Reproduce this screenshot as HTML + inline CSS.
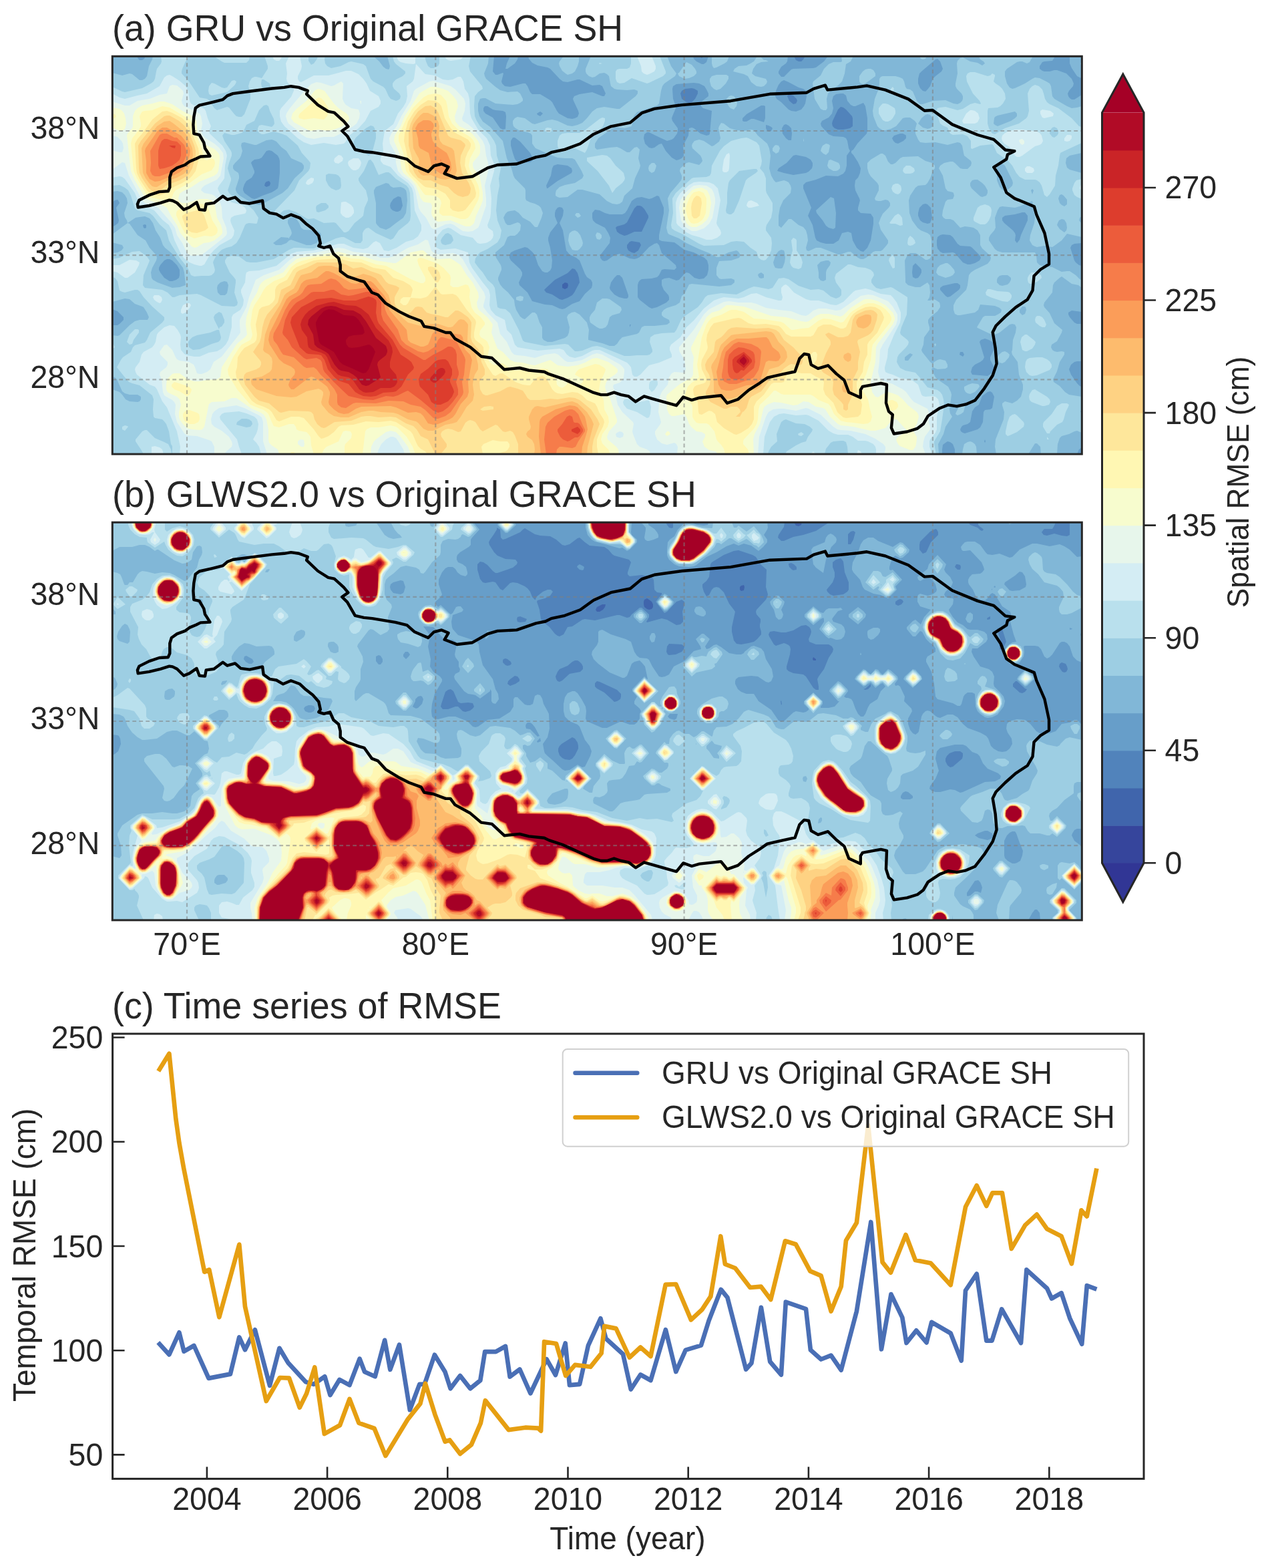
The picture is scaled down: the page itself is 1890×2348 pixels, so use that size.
<!DOCTYPE html>
<html><head><meta charset="utf-8"><title>RMSE figure</title>
<style>html,body{margin:0;padding:0;background:#fff;}svg{display:block;}</style>
</head><body><svg width="1890" height="2348" viewBox="0 0 1890 2348" font-family="'Liberation Sans', Arial, sans-serif" fill="#262626"><text transform="translate(168.0 61.0) scale(1 1.04)" font-size="53.8" text-anchor="start" >(a) GRU vs Original GRACE SH</text><text transform="translate(168.0 759.0) scale(1 1.04)" font-size="53.8" text-anchor="start" >(b) GLWS2.0 vs Original GRACE SH</text><text transform="translate(168.0 1524.6) scale(1 1.04)" font-size="53.8" text-anchor="start" >(c) Time series of RMSE</text><clipPath id="clipa"><rect x="168.3" y="84.3" width="1452.0" height="595.7"/></clipPath><g clip-path="url(#clipa)"><rect x="168.3" y="84.3" width="1452.0" height="595.7" fill="#9dcee3"/><rect x="168.3" y="84.3" width="1452.0" height="595.7" fill="#313695"/><path fill="#36459c" d="M168 84l1452 0 0 596-1452 0z"/><path fill="#4065ac" d="M168 84l1452 0 0 596-1452 0z"/><path fill="#5183bb" d="M168 84l1452 0 0 596-1452 0zM842 431l4 2 4-2 1-4-1-3-4-1-4 3z"/><path fill="#679ec9" d="M168 84l878 0 5 3 3-3 135 0 3 6 4 2 4 0 3-3 3-5 414 0 0 471-1 2 1 1 0 122-1452 0zM1021 136l-2 4 2 8 4 3 3 2 4 1 4-1 5-5 4-8 0-4-5-3-4-1-10 1zM1181 141l-2 3 3 7 6 5 4-1 2-4-1-3-5-5zM1259 160l-4 4-8 17-1 4 1 4 3 3 5 2 8 0 10-2 4-3 0-4 0-8-1-3-9-10-4-3zM397 274l-1 4 3 2 5-2 1-4-2-3-4 1zM965 313l-4-4-3-1-4 0-4 4-11 21-4 3-11 3-2 2 2 6 4 3 7 3 4-1 11-5 11 0 10-21 0-3zM939 367l0 4 2 4 5 3 4 1 6-4 4-8-2-4-12-2-3 1zM865 409l-4-6-4-1-7 7-19 10-13 12-3 3 3 4 9 3 11 7 4 1 8-3 7-4 3-4 8-15-1-7z"/><path fill="#81b7d7" d="M168 84l37 0 2 4 2 2 4 0 3-2 2-4 522 0-2 23 4 5 3 0 8-3 1 1-3 12 1 3 4 4 8 1 19-5 4 0 3 4 4 9 3 3 12 0 15 9 3 3 7 13 3 4 13 7 7 1 4-1 4-2 2-5-1-4-7-15-1-3 2-4 8-3 19-3 15 6 3 0 2-4-5-11-4-2-11 1-19-9-3 0-15 4-7-1-5-4-14-15-4-2-15-3-8-4-5-6-1-4 247 0 1 4 4 4 8 4 3 0 4-3 3-9 119 0-1 8-2 3-7 5-4 7 0 3 4 5 4 0 11-11 3-1 30-1 4-1 12-9 6-8 340 0-2 4-2 3-12 1-3 1-4 6 0 4 4 3 3 1 8 0 7-2 4 0 14 5 8 8 3 7-1 4-6 7-2 4 1 4 2 3 3 2 4 0 11-7 0 222-11 1-4 2-2 4 6 19 2 3 5 4 4 1 0 69-15-2-5 3 0 3 2 4 7 8 4 2 7 0 0 56-7 0-4 1-5 4-3 7 3 8 9 13 4 4 3 1 0 91-4 3-3 7-183 0 0-7-3-8-4-3-4-1-3 2-4 3-1 7 0 7-1243 0 0-193 8 0 3-2 6-6 0-4-9-9-8-3 0-123 5-3 4-3 1-4-4-19 5-7-2-4-1-1-4 1-4 3zM1404 88l-3 1-21 18-3 3-2 8 0 7 3 7 4 4 4 1 3-3 4-5 4-11 4-4 9-7 2-4-4-11zM1170 122l-4 5-4 9-1 8 2 4 7 5 11 11 4 2 7 1 8-3 4-5 2-4 2-11-1-8-4-3-7-2-15-8-7-3zM1047 125l-8-1-26 2-5 3-1 4 1 15 4 11 0 3-5 12-1 3 1 4 8 11 0 4-1 4-5 7-3 2-7 2-15-7-12-6-3 0-4 3-1 6 2 8 6 6 4 1 4-1 7-5 4-1 6 11 9 10 7 4 4-1 4-2 3-4-1-15 8-15 1-11 4-1 3 1 10 8 9 3 4-1 1-2 3-34-13-4-3-3-1-4 3-4 9-7 0-4-3-6-3-5zM1259 140l-7 1-4 3-2 7 2 11-2 8-5 6-10 5-2 4 1 4 11 12 7 3 15 1 4 2 2 4 2 11 2 4-5 7 0 15-2 8-3 4-8 4-18-1-15 6-15 4-4 4 0 5 12 29-5 12 7 14 4 19 2 4 6 3 8 2 11 0 8-5 5-11 9-2 5 2 2 11 6 11 6 5 4 1 6-6 5-11 4-25 0-9-2-3-2-3-15-1-4-4 0-4 3-11-1-3-6-12-1-7 1-8 4-4 3-7 1-7-4-9-7-11-3-3 0-3 3-2 6-9 14-15 1-4 0-19-3-18-3-5-12 5-3 0-4-2-5-6-2-8-4-3zM726 159l-2 3 0 4 3 4 11 6 11 16 4 2 4-1 1-19-1-6-4-2-11-1-4-1-8-5zM1146 159l-2-1-4 0-22 13-6 6 0 4 2 1 4 0 7-4 4 0 15 5 2-6zM804 170l1 2 4 2 4-4-1-1-3-2zM1147 187l0 5 2 4 2 1 4-1 2-4-2-2-4-2zM1174 187l-3 5 1 8 5 7 4 3 4 0 1-10-1-8-4-4-4-2zM1336 207l2 4 3 3 4 1 8-4 4-4 0-4-1-1-4-2-4 0-9 3zM768 206l-3 5 0 7 3 11 3 9 4 5 4 1 15-1 3-2 1-4-4-8-15-17-8-6zM407 226l-4-1-4 1-7 10-4 2-7 1-4 3-1 2 5 12 0 3-4 7-8 5-3 5-2 6 0 3 2 4 11 8 4 1 3-1 9-4 14-5 5-3 4-3 1-4 2-19 0-18-1-4-2-4zM1164 256l10 3 14 3 19-3 4-2 5-5 1-4 0-4-3-5-7-4-15-3-4 1-10 11-12 8zM856 252l-6-4-15-2-6 2-2 4-2 11-7 15 1 4 1 0 15-11 21-12 1-3zM596 294l-7 4-4 6-1 4 1 4 3 3 5 2 3 0 4-2 3-7-2-11-1-2zM891 314l-4 5 0 7 1 4 4 4 14 7 5 8 3 7-1 8-14 18 0 4 3 4 3 1 4-1 11-8 8-2 15 7 7 1 4-1 4-2 14-15 8-5 4-1 3 3 4 12 13 11 8 7 1 4-3 3-15-1-4 1-4 8-3 3-8 2-15 1-3 2-2 3-1 4 0 18 3 4 14 11 4 2 8-2 14-7 4-4 0-4-1-3-7-8-3-7 0-8 4-2 7-1 11 4 4-1 8-9 3-2 4 1 8 7 7 2 7-1 5-5 2-8 0-7-2-7-4-4-16-8-14-4-15-11-19-2-4-2 0-7 7-33 0-8-7-17-3-1-8 4-4 1-11-3-7 1-4 2-4 3-7 14-3 4-4 2-19 0-7-2-8-4zM1382 306l-5 5-2 8 0 4 3 7 4 3 7 2 4-1 3-8-2-15-5-5-3-1zM838 310l-3 1-3 4-1 4 0 5 4 10-11 14-3 8 0 4 3 11 3 19-1 11-2 4-4 3-4 0-4-2-6-9-5-15-4-5-7-6-4-1-15 5-6 3-2 4 0 4 2 4 14 13 3 5 0 4-5 11 1 4 12 11 7 13 19 5 11 1 11 5 4 1 4-1 11-7 11-4 8-11 10-9 1-4 0-4-2-4-6-4-3-5-8-20-5-4-10-5-5-6-5-30-5-11 5-11 1-8-2-4zM1535 318l-4 0-11 3-15 2-4 3 0 4 3 4 13 11 3 4 1 3-1 8 3 4 4-5 2-7 10-22 0-7zM214 337l1 4 2 1 2-1 0-4-2-1zM1404 355l-1 5 0 7 1 5 4 5 4 2 15-1 3 1 12 14 7 3 4 0 7-2 7-4 2-4-2-4-11-11-3-2-15-1-4-3-7-10-4-3-11-1-4 1zM246 390l-6 7-2 4 0 3 2 4 6 8 8 5 4 0 6-2 4-3 1-4 0-8-4-7-7-7-4-2-4 0zM1371 394l-4 4-1 10 1 7 4 2 4-1 3-4 2-4 0-4-2-3zM924 412l-4 4-5 7-2 8 1 3 6 7 7 4 8 2 4 0 2-2 0-3-9-26-4-4zM1408 434l8 9 3 2 4-1 13-10 2-3 0-4-4-3-4 0-18 4-4 3zM943 486l0 4 2-4zM1475 507l-6 2-2 3 7 23-2 4-4 3-8 4-4 4-2 7 2 4 23 2 7-5 3-5 0-3-6-11 0-4 7-15 0-4-4-4-5-3zM1438 527l-1 4 5 3 2-3-2-4zM1486 588l-3-2-4 1-8 6-5 13-6 4-4 6-3 16-4 3-7 2-2 2-2 4 1 3 3 2 3 1 19-6 4-3 4-8 1-15 2-3 8-1 3-2 3-17zM1475 663l1-2-1-3-1 3zM776 84l-1 5-4 6-11 8-3 0 2-8 5-11zM1602 84l18 0 0 33-3-1-4-2-8-12-3-7zM1244 295l5 2 3 22-1 22-3 2-7-2-4-3-5-8-9-11-1-4z"/><path fill="#9dcee3" d="M168 109l15 4 11-3 4 1 11 9 4 0 4-2 3-4 3-15 5-10 1-5 330 0 9 8 6 8 4 3 4 1 1-1 1-4-4-15 152 0-1 11-6 15 1 4 2 4 14 12 7 5 11 3 15-1 4 3 4 8 0 3-4 3-4 2-7 1-26-2-15-8-4 0-4 1-3 7 0 11 2 8 5 8 11 8 19 21 6 26 7 15 3 11 2 4 15 15 1 3 0 12 1 3 6 3 7 2 6 3 3 3 3 8-2 7-6 14-4 0-7-8-11-6-6-7-6-4-7 1-4 1-3 3-3 6 3 8 3 3 4 0 11-4 3 1 2 3-1 8-4 5-4 3-7 0-4 2-5 12-13 11 0 4 1 4 7 11 1 4 0 3-5 12 0 3 3 7 4 5 8 7 9 11 1 8 2 7 6 10 4 3 3 1 11-10 4 0 3 3 4 12 4 7 0 16 2 3 6 3 7 0 19-6 4-3 2-5 1-8-4-15 2-4 5-3 5-1 7 4 11 12 3 11-1 11 0 4 21 5 11 4 7 0 4-3 4-6 4-4 22-5 3-2 4-8 4-2 15 0 19-2 4-3-1-4-8-4-3-3 0-4 3-4 5-3 13-4 6-4 3-10 4-3 7-14 4-1 41 4 18-2 5-4 0-4-5-2-15 1-3-1-4-5 0-11 4-10 18-1 12-4 2-4-3-5-3-2-4 1-8 2-14 7-4 0-11-6-15-6-19-9-11-7-15-6-2-2-2-8 1-7 3-19-2-18 4-8 16-19 1-3 0-4-3-7 1-4 9-8 4-1 15 4 3-3 2-3-1-4-2-4-12-11-1-4 1-3 3-4 7-2 7 2 12 8 3-1 8-6 2-5-3-15 1-3 3-5 4 1 9 7 10 3 11 1 11-2 4 1 6 8 14 12 3 7 2 11-2 19 3 11 4 7 3 3 12-3 3 1 4 2 3 5 1 4-1 7-11 11-5 11-2 12 0 15 4 3 11-13 4 0 11 9 7 3 4 5 2 7 1 8-3 11 1 4 3 1 11-5 7 0 26 10 4 0 11-4 4 0 11 9 4 2 4 0 4-2 11-9 3-1 8 0 3-2 6-7 2-3 0-4-11-16-2-7-1-3 3-8 3-6 9-9 2-3 0-4-3-4-4-1-7 2-4 0-4-1-1-3 6-12 0-7-2-4-10-10-3-5-2-7 0-8 5-5 15-9 3 0 4 3 4 9 4 4 3 0 4-2 7-7 4-2 23-1 3 2 8 5 10 3 4 4 0 4-3 4-4 11-4 7-3 3-11 1-4 3-8 12-2 7 1 19 4 11 8 11 5 4 10 4 4 3 2 8 0 22-2 5-4 2-3 0-11-8-4-2-8 0-4 3-4 8 1 29 0 4 4 4 11 3 7 0 11-7 3 4 1 11-1 7-3 5 4 0 4-2 4 1 6 4 1 4 0 3-4 6-11 9-3 4 0 4 2 7 0 4-8 11-1 11-3 8 1 3 12 15 4 3 2-3 5-3 4-1 8 2 3 6 0 4-3 2-12 1-7-3-2 3 6 12 3 3 16 11 4 8 1 4-3 22 1 6 3 5-10 15-3 11-8 15 1 15-1238 0 0-97 11 4 4 4 5 7 6 3 12 1 3-1 2-3 0-4-5-3-12 0-7-2-4-3-8-18-3-3-4-1 0-62 8 1 3-1 15-15 8-6 7-2 12 0 2-4-3-7-5-8-2-1-11-4-8-7-7-1-19 5 0-73 8-1 6-3 3-4-2-4-15-4 0-12 23-17-1-4-3-5-1-6 5-15-1-7-3-5-4-4-7-2-8 1zM410 210l-3-1-8 1-15 7-3 0-15-4-4 1-1 4 2 8-2 7-2 4-7 7-3 4 0 4 2 3 6 4 1 4 0 4-5 15 0 3 2 4 4 4 22 13 7 1 4-1 31-17 8-7 10-15 12-11 2-4 0-4-3-4-16-7-7-11-8-6-7-8zM578 274l-15 6-3 5 0 4 3 15 0 30 2 3 4 4 9 3 6-3 9-7 11-8 4-7 2-19-1-11-1-4-3-3-5-2-11 1-4-2-3-4zM191 334l3 1 12 17 12 8 6 11 10 11 1 4-1 4-6 11-2 7 1 8 2 3 7 4 22 8 11-1 9-3-2-19-2-7-16-21-11-9-3-4-4-11-7-11-4-11-5-7-7-3-8 1-6 1zM409 364l4 3 8 0 8-3 4-4 3-1 23 8 7 0 8-3 6-8 1-4-1-3-6-4-19-1-4-3-3-7-4-6-4-2-4-1-3 2-2 3 0 4 5 11 1 4-1 3-3 4 0 2-1-2-11-1zM1170 374l-4 2-4 5-4 12 1 4 2 4 5 1 4 0 2-1 3-8 1-7-1-8-1-3zM1241 390l-4 0-8 2-5 5 2 11 0 8 3 4 4 1 4-2 0-11 1-4 5-7 1-4zM1136 410l-1 2 2 4 3 1 4-1 0-5-4-3zM336 421l-6 2-4 4-1 4 1 7 4 4 7 0 3-3 1-5 1-7-2-5zM1367 531l-4-2-3 2-5 4 0 4 1 1 4 0zM807 84l7 0-5 1zM844 84l23 0 0 8-2 7-4 8-4 3-7 2-3-2-5-4-4-7-1-4 1-3zM999 84l6 15 8 11-2 4-16 11-3 4-2 7-3 19-3 3-30 10-5 6-3 15-3 1-8 2-15-2-24 17-5 8 0 6 3 3 19-3 11-1 5 2 10 6 4 0 7-7 4-1 4 4-2 13 3 11-1 4-7 15-4 15-12 11-3 9-4 3-4 1-7-1-8-4-11-10-26-7-7 0-15 11-12 1-3-1-3-2 0-4 1-4 5-5 8-3 15-3 11-7 2-4-3-7-10-17-4-2-11 0-11-1-8-3-25-11-5-7 0-12-2-3-5-2-11-2-7-4-3-3-1-4 0-4 3-4 4-2 11 2 11 8 4 1 19-6 7-1 8 2 15 7 7 1 8-2 7-3 7-7 8-10 7-5 11-2 19 3 4 0 24-19 3-4 0-4-5-2-11 1-15-1-4-1-5-4-1-4-2-11-3-3-4-2-7 1-7 5-4 1-5-2-4-4-1-3 0-4 8-19zM1067 99l-1-4 0-11 26 0-3 8-4 3-12 6-4 1zM1100 103l6-4 12-1 6-3 5-3 5-8 4 0 6 6 3 0 4 2-11 1-7 3-5 7-2 7 5 4 16 4 2 4-1 3-4 4-4 1-7-1-8-6-5-9-6-3-16-4zM1278 84l-4 8-7 4-2 14-4 12-6 6-11 8-4 4-2 8 1 14-2 3-4 0-4-2-3-5-6-10-3-23 1-3 11-9 5-10 7-7 7-3 11 0 2-1-1-8zM1377 84l11 0-2 4-4 1-3-1zM1319 115l3-1 19 0 7 2 4 2 2 4 2 8 2 3 5 1 4 3 6 14 5 5 4 0 15-5 19-1 12 5 6 1 4-2 3-3 1-3 0-4-2-4-7-7-2-4 0-4 3-15-1-15 1-4 4-4 4-1 11 6 11 2 7 4 4-3-2-3-5-3-2-5 81 0-5 9-4 2-7-3-4 0-4 1-15 10-3 4 0 7 3 11 4 6 4 2 4-1 15-7 11-7 4-2 7 1 10 5 5 3 2 4 2 15 3 4 19 11 7 3 8-1 7-2 0 70-18 4-5 4-1 7 2 7 4 3 18 5 0 65-3 2-1 4 4 5 0 20-22-5-8 10-11 8-3 2-12-2-11 2-3-1-4-2-4-7 1-8 6-18 1-8-4-25-19 8-7 2-19-2-4 1-3 5-4 11 1 15-2 4-6 7-2 4 0 4 9 13 4 3 7 2 49 0 2 4 1 11 4 4 7 2 12 1 14 7 8-1 4 0 9 6 6 6 3 2 0 11-5-4-10-2-15-11-3 2-8 7-2 4-1 11-12 15-1 4 1 3 8 9 7 15 12 10-1 4-7 13-8 5-1 4 2 4 3 2 4 1 7-1 4 1 0 4-7 11-4 14-6 12 1 4 9 6 8 9 6 4 19 3 0 17-2 6 2 1 0 30-7-3-4 1-8 4-11 3-3 3-3 9-1 15-24 0-1-11-5-5-3 0-10 16-48 0-2-11 1-11 12-30 1-11-3-10 0-3 4-3 11 3 7-4 6-6 3-11 0-7-6-15-2-19-8-11-1-4 1-3 1-15 4-11 1-8-2-4-4-1-4 1-15 12-7 3-7-1-19-9-1-1 9-15 3-2 15 0 4-2 5-3 1-4-3-3-7-3-22-2-3 8-5 4-22 4-4 0-4-2-2-6 0-7 4-8 15-15 2-7 2-15 3-4 6-4 19-9 4-5 1-4-2-4-11-10-3-5 0-15-4-7-6-4-5-1-8-1-7 2-10-11-5-2-7 0-3-2-2-3 1-8 4-13 3-3 8-1 2-5-1-4-1-1-8-2-3-4-4-19-6-11 2-4 6-4 9-2 4 0 3 2 8 8 4 1 7 0 5-5 1-4-1-3-10-8-1-4-2-11-3-4-4-1-15 4-18-4-15 1-8-1-3-4-4-9 0-8 2-7-3-4-7-5-7 0-4 1-10 12-8 4-8 2-4 0-5-3-3-3-6-15-1-8 3-18 6-15 1-8 0-7zM1523 170l-3-3-26 6-4 2-1 2-1 8 2 2 4 2 20-8 6-4 3-3zM1386 172l-6 5-5 8 7 6 7 2 4-1 4-3 1-8-1-4-4-5-4-1zM1497 245l-4 3 0 22 4 10 4 4 4 2 7-4 4-4 1-4-1-4-11-22-4-3zM1456 270l-3 4 0 4 2 4 13 12 3 1 6-2 2-4 0-4-4-7-4-4-7-5-4 0zM1546 283l-2 2 2 6 2-6zM1587 292l-2 5 2 7 3 3 4 2 4-3 0-7-5-6-3-2zM1590 328l-4 2-2 4-1 3 4 6 7 5 3-3 1-4-1-7-3-5zM1494 416l-1 3 0 4 4 4 4 1 8-2 3-3 2-4 0-3-5-4-8 0-4 1zM1535 459l-4 0-4 5 0 4 4 4 4-2 2-6-1-4zM1620 92l0 8-2-5zM1028 93l8 4 5 6 2 4 0 3-4 4-7 3-7 1-8-4-2-4 2-1 8-12zM1308 105l3 5 0 4-15 11-3 1-4-1-2-3 0-8 5-7 4-3 4-1 4 0zM1065 129l-2-7 0-4 3-4 7-2 15 0 3 2 0 4-4 7-8 8-6 2-4-2zM1092 144l3-1 4 1 4 5 1 6-1 4-4 5-5-2-2-2-3-5-1-7zM1203 207l1 4-1 1 0-1zM1166 218l2 4-2 6-4 2-1-1-4-3 0-4 3-4 2-1zM1237 215l4 1 2 2-2 10-4 4-4-2-4-4 1-4 2-4zM1241 240l3-1 12 5 2 4 0 4-3 3-3 1-4 0-7-4-2-4zM980 244l3 4-1 4-2 5-4 2-4-3-1-4 1-4 4-4zM867 319l3 4-2 2-3 1-4-4 2-3zM857 346l4-1 4 2 4 5 3 8 1 4-1 4-4 5-3 2-4 0-4-1-4-7-2-7 1-8 1-3zM894 348l4 1 3 3 0 4-3 3-4-1-1-2-1-4zM1402 408l1-4 1-3 4-4 8-3 3 0 4 3 6 7 1 4-3 4-4 2-7 2-11-4zM773 449l0-4 6-2 4 1 1 1-1 5-4 1zM909 447l4 1 17 12 1 4-3 5-11 3-4 3-3 11-3 4-5 2-4 0-4-2-10-7-1-4 0-4 2-4 6-7 3-11 8-6zM1401 514l1 2-1 3-2-3zM1505 526l4 2 3 3-1 4-6 7-4 2-4-1-3-4 0-4 2-4 5-4zM1444 583l0-4 6-3 6-2 8 1 2 1 1 3-3 4-4 4-7 3-4-1-3-2zM1442 604l3 2 0 3-2 8-4 3-5 2-3-2 1-3 6-11zM1444 665l5-3 4-1 3 1 4 3 2 4 1 11-22 0 1-7z"/><path fill="#b9e0ed" d="M168 130l15 7 4 1 26-6 13-7 4-3 2-4 2-11 1-4 6-8 1-3-1-8 42 0-5 8-5 11-1 4 0 3 11 12 16 24 11 2 3 2 8 12 4 3 15-5 3 1 8 10 3 3 4 1 4 0 4-4 9-23 0-8-3-11 2-7 3-5 4-2 3 0 8 2 9-14 0-4-5-15 66 0 0 7 4 6 4-2 5-7 1-4 11 0-1 4 1 7 3 4 6 3 14-3 12-6 4-1 18 4 4 3 4 11 3 8 4 4 15 8 3 3 5 11 3 4 8 3 3-1 3-2 1-4-2-4-8-7-2-4 0-4 2-3 3-3 10-5 4-4 0-3-14-11-3-4-2-8 48 0 2 8 3 7 4 3 4 0 7-3 2-4 0-11 47 0-3 15 2 8 18 22 1 4-7 5-5 6-1 15 1 15 3 7 5 8 15 13 6 9 3 7 1 15 6 19-3 15 1 11-3 15-2 22 2 15 6 15-2 11-4 7-15 10-11 5-3 3-4 6-1 6 5 7 7 8 7 11 8 7 3 5 4 29 4 2 8 1 7 6 13 25 6 16 3 2 30 6 30-3 5 1 10 10 4 0 7-1 15-6 7-1 8 2 33 13 8 0 11-1 15 0 4-1 4-4 0-3-4-12 1-7 6-4 11-2 19-1 3-4 7-15 3-4 22-15 6-7 5-8 4-3 20-3 23 2 18-9 8-3 7 1 15 3 6-2 9-14 8-1 7 2 15 10 18 6 12-1 7 2 11 9 8 3 5-2 3-3 0-4 0-4-8-11-2-7 2-6 18-14 4 0 11 4 11 1 8 3 4 4 1 4-4 7 0 4 3 4 4 4 7 2 15-3 3 1 22 14 0 4-1 22-8 19-2 8 1 3 10 8 2 3-1 4-3 4-11 11-2 4-1 7 2 4 3 5 8 4 15 3 7 8 11 14 15 4 4 3 3 4 2 7 1 8-3 22-3 18-9 15 0 4 3 15-132 0-1-11-2-7-4-2-4 0-11 1-4 2-3 4-4 5-2 8-59 0 2-4 14-9 8-4 7-2 3-7 6-8 1-3-4-4-8-4-13-1-15-6-3 1-4 3-7 18 1 11-9 8-4 7-1 4-892 0 0-12-2-3-3-19-4-11-3-4-3-3-11-2-2-2-1-11 1-15-2-6-19-15-11-3-5-2-6-7-12-15 6-11 3-4 12-8 3-7 3-3 15-4 3-4 5-11 18-15 3-4 0-4-18-16-13-14-6-9-3-2-4 0-15 4-4-1-4-2-3-14-4-5-4-1 0-27 11-2 19-9 11-1 11 8 4 6-1 3-8 19-1 15 3 4 26 3 8 4 7 7 3 0 8-3 26-2 6 2 31 16 19 1 4-2 1-4-5-15 2-15 0-4-2-3-7-8-7-15 0-3 3-5 7-2 11 1 11 8 6 1 9 0 26-5 23-14 7-3 8 0 14 1 8 0 33-15 8-2 4 0 17 9 8 0 3-4 0-11 2-4 3-3 4-1 11 8 22 10 4-2 8-12 14-11 3-4 1-7-1-34-2-7-3-4-16-10-8-8-3-2-4 0-11 4-8-18-4-5-3 1-7 16-8 11 0 3 2 4 9 11 3 12 0 3-5 11-2 12-3 3-10 8-9 12-4 2-3 0-12-14-3-1-15 1-15-7-8 1-3-1-15-9-11-4-8 1-7 6-4 1-3-3 1-4 29-30 7-15 14-14 2-4 1-8-3-4-10-11-6-11-17-15-8-3-11-3-15 4-3 0-4-2-2-3 0-4 2-4 4-1 15 3 3-3 1-2-1-7-6-12-2-7-3-2-4 1-7 7-7 16-12 6-4 9-3 3-11 3-4 0-11-3-3 4 3 8 10 15 1 3 0 4-4 11-2 8 2 7 3 8 0 3-5 15 2 4 4 4 21 11 12 11 5 8 2 3-2 8-1 1-11-1-4 1-2 2-8 19-5 8-7 5-8 2-7 3-7 7-5 9-1 3 3 11-1 4-4 4-4 1-11 0-11 1-5-2-5-11-12-15-12-19-4-7-4-15-10-9-10-13-5-4-18-4-4-3-6-19-4-8-5-4-8-4-11 1zM392 119l-1 6 1 5 3 4 4 0 4-2 2-3-1-4-9-6zM555 188l-7 4-15 14-3 5-1 7 0 4 4 4 13 3 6 4 3-2 3-5 5-19 0-7-2-8-2-3zM488 262l0 8 4 8 4 4 7 3 4-1 3-2 1-4-1-11-3-4-4-2-11-1zM488 304l-7 0-7 4-1 3 1 6 3 1 10-3 5-4 0-3zM662 356l-2 4 1 4 2 2 4 1 8-2 4-5-1-4-2-4-5-3-4 1zM328 467l-6 4-2 4 1 4 7 14 1-3 3-1 4-6 0-4-4-10zM328 494l-3 0-10 4-20 4-7 3-4 4-2 3 0 4 1 4 6 4 10-1 18-8 10-3 3-3 1-4zM355 632l-1 4 15 4 6-1 3-4-1-4-4-3-4-1-7 0zM320 84l54 0-1 6-4 4-26 0-7 0-4-2zM498 84l8 0-3 1zM922 118l0-11 2-3 4-1 11 0 4-2 2-6 0-11 43 0 9 23 0 3-4 4-21 10-3 1-23-8-11 7-7 1-4-2zM897 95l1-1 4 1-4 1zM1453 108l7 0 19 6 4-1 3-3 4 2 0 2-2 8 3 3 6 4 4 4 4 7 1 8-4 7-4 4-4 2-14 1-1 4 0 19 2 7 5 8 4 1 15-9 21-7 11-8 2-3 2-8-2-26 3-7 4-4 4-2 6 2 5 5 2 6 2 8 3 5 4 3 13 6 20 15 11 12 4 1 0 24-26 12-6 3-1 4-2 15-4 15-1 15-8 13-4 4-4-3-4-14-3-5-4-3-3-1-15 0-8-4-5-6-6-11-6-7-17-12-5-11-2-2-18 2-12 5-2-1 0-11-5-7-7-3-15 1-4-2-4-9-7-3-4-3-5-15-1-4 2-4 4-1 8-1 18 5 8-2 11-7 7-2 8 2 1-1-2-4-10-11-9-18-1-8 2-4zM1576 191l-4 5 0 4 4 5 3 1 4-3 2-3 0-4-2-4-4-2zM354 122l-1 3-2 3-11 10-23 5-4-2-1-5 1-7 4-5 4 1 11 6 4 1 4-1 7-10 4-1zM1337 130l2 3-2 5-3 0 0-5zM1322 155l4 0 4 1 10 6 1 4 0 4-4 7-3 3-4 2-4 0-4-2-3-5-3-5 0-8 3-4zM906 177l0 4-3 8-7 7-9 7-2 4-6 17-3 5-15-7-4 0-11 5-6-1-4-4-1-4 0-7 3-8 4-3 8-1 18 0 8-4 22-17 4-2zM816 196l1-4 3-1 6 1 0 4-2 2-4 0zM1110 207l8-1 3 1 12 6 4 5 4 23-1 6-2 5 6 7 3 8 0 18 1 4 9 15 0 11-2 11-7 11-1 4 0 4 8 11 1 8-1 11-4 9-4 5-3 1-4-1-4-3-3-9-3-2-6-4-10-9-11-1-8 1-11 5-30 1-7-3-26-15-11-5-4-3-1-5 3-18-1-19 0-3 5-8 24-22 3-1 19-1 5-2 2-4 1-11 12-22 6-7 11-8zM1133 253l-4 0-22 3-14 14-2 4-2 15 0 15-2 11 1 4 4 2 3 0 4-3 8-18 10-30 3-3 12-8 3-3zM879 236l23-4 7 1 5 4 8 11 9 8 3 3 2 8-1 3-3 4-10 8-2 3-3 4-5-11-17-22-13-12-3-3zM1353 252l4-4 6 0 6 4 1 4-3 3-4 1-7 0-2-1-2-3zM1620 268l0 30-7-3-4-3-3-7 0-3 3-8 3-4zM1337 277l4-2 4 0 4 3 1 4 0 3-2 4-3 2-4-1-4-3-2-5zM1475 306l6 2 3 3 1 4-1 8-3 7-3 4-3 2-7 0-8-4-2-2 0-4 6-15 4-3zM1332 334l8-11 5-3 3 2 3 4 1 11-4 1-7-3-7 0zM1188 356l4 2 1 2 0 15 7 11 2 7-2 8-4 2-8-2-3-3-2-5 1-7 3-11-2-15zM1363 353l4 3 3 4 1 4-4 3-4 1-3-1-1-3 1-7zM1337 382l3 4 0 15-3 1-3-5-3-7 1-4zM1559 412l1 4-3 3-4 3-7 3-4 0-2-2-1-4 0-3 2-4 4-4 7 0zM1476 438l3-5 4 0 11 3 15 1 3 1 3 4 0 3-2 4-4 3-8-1-18-6-6-3zM1553 473l4 0 4 2 3 4 3 7-2 4-4 0-4-2-6-5-1-4 1-4zM208 494l0 4-8 11-2 6-4 1-4-4 1-3 3-8 8-8 4 0zM1535 501l3 0 10 8 3 3-1 4-4 6-8 4-3 0-4-2-3-12 2-7zM168 515l2 1 2 4-4 3zM1536 542l2-4 4-2 11-1 8 0 7 3 4 3 3 5 0 4-3 4-19 8-7 1-4-1-5-5-2-7zM1546 584l4-1 3 2 15 9 4 4 1 4-2 4-7 2-3 0-16-6-3-3-1-5 1-4zM1598 604l3 2-1 3-4 8-3 11-2 4-8 4-10 10-1 3-4 0-6-10 0-4 1-3 12-12 8-12 7-4zM1523 622l10 10 1 3-1 4-10 8-11 5-3 1-3-3 0-4 3-14 3-8 4-3 4-1zM183 643l0-4 4-2 4 1 1 1-5 6zM203 658l10-12 4-2 3 0 12 12 14 6 6 3 4 8 1 7-42 0-4-7-8-12zM1195 650l1-1 4-2 4 3-4 3-4-1zM1568 654l3 4-3 0zM168 668l1 1-1 4z"/><path fill="#d4edf4" d="M408 84l14 0-1 4-3 3-4 0-4-2zM433 84l16 0 3 15-1 5-5 10 0 4 2 4 3 1 4-2 15-8 7 0 15 0 26-7 8 0 11 5 7 7 5 7 5 11 13 8 3 7 0 4-3 5-12 6-8 15-10 11-14 11-5 9-3 3-12 2-18-3-19 3-11-4-9-6-20-18-5-7-2-8 0-8 2-4 15-17 4-9 0-3-8-8-2-3-1-4 1-8-2-15zM594 84l28 0 0 11-3 1-11-1-8-2-4-3zM666 84l28 0-1 2-3 3-15 2-4-1-3-2zM954 84l22 0 6 15 0 4-2 4-8 4-3 1-5-2-3-3-1-8zM202 553l1-3 6-8 3-11 3-4 13-7 3-4 2-4 2-11 2-3 9-8 8-3 7 1 5 6 4 7 1 4-1 11 1 8 5 6 4 2 11 2 8 0 14-6 12-2 7-4 6-6 4-7 5-19 0-15 2-4 11-7 4-7 1-8-4-11 0-4 6-11 1-11 1-4 4-2 15-1 26-7 22-18 8-3 26-2 37-10 8 0 14 6 15 2 7-2 8-8 4-2 6 3 6 11 7 1 12-5 14-9 11-3 7-5 5-9 0-8-10-22-2-26-2-7-6-8-15-11-11-13-11-4-4-5 0-4 4-11-1-11 3-19 13-10 7-16 8-10 4-7 2-9-1-15 9-7 2-4 3-22 3 3 8 9 3 3 15 2 11 6 8 1 7-1 8-4 4 0 2 3 2 4 2 11 5 7 2 8 1 22 2 7 10 17 13 13 2 4 3 7 1 15 6 15-1 8-6 22 2 19-1 22-1 7-4 11 1 4 7 5 1 6-1 4-3 4-5 3-3 1-8 1-4-1-7-8-18-4-12-8-3-2-4-1-8 3-7 8-4 8 0 7 2 4 6 3 22-2 19 6 2 15 4 8 16 22 9 11 2 8-1 15 2 7 7 8 14 7 3 15 7 7 5 15 4 4 30 5 33-3 6 2 5 7 4 3 8 2 11-3 15-8 4-1 7 0 41 19 3 3 3 4 2 11 3 3 4 0 5-3 10-11 3-3 15-4 19-8 0-4-3-7 0-4 2-4 14-11 9-15 11-10 15-18 15-12 8-3 7-2 22 2 8-2 11-5 8-1 14 6 19 5 4 0 1-1 1-4-2-7 0-7 4-4 3-1 4 3 8 9 18 10 7 2 12 0 18 6 8 1 3-1 8-4 15-15 3-2 15-3 8 2 15 6 15 2 3 3 6 8 6 15 0 7-1 8-9 18-9 22-1 12-4 15 0 3 1 4 4 2 7 2 11 5 12 2 7 2 8 6 5 15 2 2 4 1 11-1 4 1 4 4 2 8-4 18 0 19-2 5-8 10-1 3 0 8 4 11-84 0 0-7-1-4-3-4-8-4-4-1-11 0-8-6-7-3-15 0-7-2-7-4-15-15-15-8-4-1-15 1-18-3-7 1-8 4-6 8-8 22-2 26-752 0-3-11-4-6-5-5 5-9 2-6 1-8-2-7-4-4-12-5-11-3-22 2-4 2-3 4 1 4 25 30 3 11 4 11-93 0 1-11-5-23-15-36-7-9-8-18-3-4-8-3-19-15-2-4zM980 569l-4 1-3 2-1 4 0 6 4 5 4-3 5-8 0-4-1-2zM935 598l-2 4 1 4 5 6 15 5 15 9 3-1 2-5 1-11-3-10-14 3-19-5zM168 140l11 6 8 2 19-5 14-3 19-11 7-13 4-3 4-1 4 2 11 7 9 8 4 7 2 15 2 4 5 3 11 3 4 2 2 3 3 11 5 12-3 7 1 4 19 18 5 8 2 7-3 15-1 19-2 3-6 8-2 4 1 3 4 8 5 4 11 6 15 4 5 4 2 4-1 4-2 1-15 3-5 3-1 4 1 4 5 11-1 7-3 5-18 10-9 8-6 7-8 14-4 2-3 0-8-2-7-3-8-6-4-5-11-23-4-14-4-8-10-8-12-14-7-3-11-3-4-3-7-17-15-21-4-3-4-1-11 2 0-51 1 0-1-1zM1465 170l1 4 1 3-3 6-4 2-17 0-1-2-1-2 6-11 6-5 3 0 4 1zM1558 166l3-2 12 2 5 4-1 4-13 3-3-1-3-6zM1500 207l1-4 3-3 5-3 11-3 11 0 22 3 4 2 3 4 2 8-2 4-3 2-7 2-19 14-4 2-4 0-3-2-3-4-5-9-8-5-3-4zM1602 202l3 1 0 4-3 4-4 1-4-1 0-4 4-5zM1092 229l1 4-1 19-1 4-3 2-4 0-2-2 0-4 2-13 4-8zM511 233l3 4-1 4-6 4-5-1-2-3 1-4 6-5zM529 237l8 0 3 4 1 3-1 4-3 5-4 2-4 0-3-2-4-5-1-4 1-3zM1535 252l3-3 4 0 6 3 1 4-3 3-8 0-3-3zM470 267l0 3-2 4-6 3-3-1-1-2 2-4 6-4zM1039 273l8-1 15 1 7 3 6 6 4 18-6 34 1 3 5 8 1 4-1 3-5 4-8 3-8 0-11-4-11-3-8-4-13-11-2-3-1-30 2-7 5-8 13-12zM1620 276l0 10-3-4 1-4zM1118 308l1-4 2-3 4-1 9 4 3 4-12 3-4 0zM511 303l4-1 3 0 8 5 3 4 1 4 0 4-4 5-4 2-4 0-5-3-3-4 0-4zM209 393l-1 4-6 11-11 8-4 0-11-8-8-2 0-9 11 0 15-8 10 1zM231 442l7 0 4 3 1 4-2 4-2 1-4-2-4-3-2-4zM284 454l2 3-2 4-6 7-5 2-2-2 0-4 3-7 6-3zM227 669l5-1 7 2 4 3 2 7-18 0zM1222 680l-8 0 4-4zM1285 674l4 2 2 4-8 0z"/><path fill="#e7f6eb" d="M643 122l6-1 26 8 7 5 13 14 2 7-1 11-4 11 1 4 8 5 7 6 15 19 3 7 2 15 3 11 1 8-6 26 2 19 0 11-10 29-2 4-8 5-7 1-8-1-13-9-5-2-8 1-15 7-3 0-3-2-8-15-8-9-3-6-5-26-3-7-7-8-10-7-6-7-3-12-1-15-8-14-1-8 3-7 8-11 7-15 14-23 5-15 3-3zM428 174l1-4 5-8 22-26 10-10 8-3 7 1 15 5 4-1 11-6 3 3-1 23 2 5 3 4 8 5 11 2 2 6-1 7-4 8-5 4-14 9-15 7-15 0-15 3-11-2-8-5-7-7-12-9-2-4zM168 152l19 6 7 0 12-7 18-3 15-6 11-2 4-11 4-2 7 1 6 5 3 3 1 4-3 11 1 4 3 4 4 2 19 9 2 4 2 11-2 11 3 7 4 4 13 8 7 6 6 8 1 8-5 26-5 6-19 9-4 4-1 3 5 4 11 2 4 2 9 11 2 7 1 15 6 15 1 8-1 3-4 4-33 26-15 1-3-1-4-3-7-15-8-12-3-11-5-7-20-23-6-3-14-4-4-4-20-37-6-19-4-1-15 11 0-29 11 3 4 0 2-6-1-7-2-4-6-6-8-2zM541 151l0 5-1-1-1-4zM1527 209l4-1 3 3 0 4-3 2-3-2-2-4zM1058 278l8 5 3 6 2 8 0 7-4 22-5 9-8 7-11 4-7 0-8-5-4-4-4-7-3-19 2-11 7-11 10-9 3-2 8-1zM239 527l4-6 3-4 4-1 8 8 5 11 2 3 4 2 14 2 7 4 2 4 3 9 4 1 3 0 8-3 5-4 5-11 12-8 26-33 2-3-1-12 0-7 10-19 4-15 10-26 12-7 23-8 15-14 11-8 30-4 33-7 8 1 14 5 26 3 15 6 12 0 7-2 22-13 15-5 11-7 4 1 5 15 3 3 7 3 22-2 9 3 6 6 9 16 23 34 2 7-3 12 0 3 6 8 15 15 4 17 10 12 7 15 4 4 5 1 11 1 15 3 15-5 15-2 5 2 10 9 4 2 7 0 15-3 15-8 7-2 8 2 27 15 4 4 2 3 0 4-1 8-2 4-4 4-9 3-1 3 3 8 4 19 7 11 16 15 1 3-2 11 1 4 6 15 4 4 11 4 4 3 1 4-368 0-2-7-8-13-3-4-4-2-4 0-7 4-7 7-4 8-2 7-165 0-6-19 0-29-2-7-4-3-22-11-12-4-26 4-7 5-3 4-2 8 1 7 4 4 11 6 11 9 4 7 1 4-1 4-8 7-3 4-15 0 0-11-4-8-4-2-18-6-15-1-4-3-11-17-3-12 1-14-2-4-3-3-9-5-3-2-2-5-2-19-3-7 1-4 9-7 2-4 0-4-11-11zM922 650l1 4 5 2 5-2 1-4-2-3-4-1-4 2zM1393 639l0 4-8 11-2 7-1 8 4 11-62 0 2-7 0-4-3-4-12-8-15-7-22-5-15-1-5-1-6-4-19-18-18-9-4-1-15 4-18-3-8 0-8 1-7 4-4 7-10 30-2 26-89 0-3-1-2 1-27 0 1-11-2-4-3-2-11 3-8-2-7-6-3-8 0-4 8-11 1-3-4-15 2-23 3-7 9-11 2-11 4-6 4-2 15 1 2-5-2-14-7-12-1-3 0-4 22-26 15-23 8-8 22-11 8-1 14 2 19 0 8 2 14 6 19 3 19 2 15 6 7 1 4-2 7-6 8-3 11 0 15 3 7-1 30-21 11-2 8 1 22 9 7 8 7 12 0 8-2 7-20 30-4 8-1 18-2 15 2 8 5 5 15 5 15 8 5 4 8 11 4 4 20 10 2 5 0 15zM282 680l2-1 4 1z"/><path fill="#f7fcce" d="M645 130l7 0 11 3 8 3 8 8 5 7 2 8-5 15 1 8 6 7 13 6 7 6 8 10 3 7 0 11-2 4-7 8-2 3 0 4 1 4 9 11 1 4 4 22 0 11-3 8-7 15-3 11-3 3-3 2-7 0-22-9-19 2-4-2-5-7-1-4 1-11-2-4-8-1-3-1-4-5-7-19-6-8-13-11-3-7-3-23-8-18 1-8 9-14 6-15 22-34 6-4zM437 174l1-4 6-7 15-12 12-15 3-2 3-1 4 1 5 2 14 19 7 7 12 8 3 4 1 3-1 4-4 4-7 5-11 4-8 2-15-2-11 2-4-1-22-12-4-6zM213 158l15-3 11-3 7 0 12 4 15 10 14 7 4 3 3 5 2 19 6 11 8 7 11 5 6 6 2 4 0 8-2 15-2 4-4 3-22 9-12 8-14 7-4 3-2 7 2 5 4 2 7 0 19-6 11 0 7 2 5 8 3 18 6 11 2 8 0 4-2 3-10 8-8 3-8 1-10 6-4 1-4-2-17-20-5-12-9-14-6-12-11-6-15-5-6-3-16-27-6-14-6-53 1-3 7-8 1-3 0-15 3-8 4-4zM168 161l11 2 4 3 3 4 2 7 1 8-2 8-4 3-4 0-11-5zM1051 281l8 4 4 8 2 11-3 19-4 7-7 6-8 4-7 0-4-2-4-4-3-8-3-11 1-11 6-11 7-8 7-3zM249 576l1-7 3-4 5-5 3-1 8 0 12 9 10 3 8 0 11-2 15-1 3-2 2-1 2-15 22-34 4-4 9-7 3-4-2-15 1-11 7-22 9-15 4-11 3-4 5-4 27-11 9-11 11-9 7-2 56-9 19 5 18 2 19 6 26 4 4 0 3-2 19-14 15-3 4 0 8 7 7 4 7 2 19-1 5 3 10 7 9 15 9 11 8 15 1 7-3 8 1 7 2 4 13 11 6 8 2 3-2 12 1 3 8 21 8 5 11 12 7 3 12 1 11 3 7 1 23-8 3 2 8 6 15 2 15-2 11-4 11-6 7-1 17 6 11 8 3 3 0 4-4 4-8 5-5 6-2 7 2 8 5 8 11 33 0 4-2 3-10 11-3 8 1 4 13 11 3 4 1 7-312 0-4-11-11-15-7-7-8-2-7 2-15 11-3 3-4 8-1 11-137 0-2-7-9-6-4-4-1-5 0-15-3-15-4-7-6-4-12-5-23-16-3 0-4 0-11 5-19 1-4 3-1 4-6 30-3 4-4 1-12-1-7-2-7-7-4-6-1-4 0-7 3-11-2-8-4-4-11-5-3-2-2-4zM448 659l-2 2 0 4 5 4 4 0 1-4-1-6-4-1zM1376 624l-3 11-5 8 0 3 5 8 0 4-1 7-1 4-4 5-4 0-15-6-3-3-2-4-1-3 3-4 13-8-1-3-5-5-9-10-6 0-3 3-8 10-15 4-7 0-26-6-19-2-4-2-12-11-7-11-3-2-11-2-11-7-8-1-8 5-7 1-18-4-11-1-10 4-4 3-2 4-5 22-8 15-2 8 1 22-54 0-3-4-10-2-7-5-3-8 4-7 0-4-2-1-3-2-8-1-7-6-4-5-4-11-3-4-15 3-4 0-4-3-3-7-1-19 1-3 18-15 19-11 2-4 0-15 1-11-4-11 0-4 23-45 8-7 11-3 11-8 7 0 19 2 41 14 22 2 23 6 7 1 4-1 11-8 7-3 12 0 18 4 4-2 11-11 19-12 3-1 8 0 11 3 11 6 11 11 3 7 0 4-3 7-22 28-3 6-1 22-7 30 2 15 5 7 4 1 7-5 8-3 7 2 8 3 7 6 8 9 13 10 2 3zM996 650l3-4 3 0 2 4-5 3z"/><path fill="#fff7b3" d="M641 142l11-2 8 2 3 3 5 6 2 8 2 15 5 11 9 9 18 11 4 4 3 6 1 7-8 15-2 11 2 8 7 11 5 10 2 8 0 8-2 7-12 22-3 4-4 2-7 0-15-5-12 0-3-2-2-2 0-4 3-11-1-4-2-3-6-4-15-1-3-3-10-15-11-11-5-7-4-27-7-18 0-8 12-26 9-15 16-16zM492 162l0 4-2 8-2 2-3 3-15-2-15 2-7-2-1-3 2-4 25-22 3-2 4 1 4 4zM243 159l11 2 30 18 4 6 6 18 8 19 4 17 4 1 7-3 4 2 1 5-1 5-4 6-15 6-18 13-21 11-3 4-3 8-3 2-4 1-18-3-8-2-4-3-3-5-12-20-5-11-4-41 2-8 9-11 4-7 0-4-2-11 2-4 2-3 4-1 11-1zM168 170l4 1 2 3-2 3-4 1zM1047 286l7 3 4 8 0 7-1 15-3 7-3 4-6 4-6 1-4-1-3-4-2-4-3-11 1-7 4-11 4-6 3-3zM265 316l4-3 30-8 7 1 3 2 4 7 5 15 7 11 1 4-1 4-3 3-5 2-11-1-15 4-7-3-7-5-4-7-9-19 0-4zM341 553l8-18 9-14 4-5 13-7 2-4 1-4-3-15 3-22 3-7 8-12 6-11 4-5 11-8 15-6 3-3 8-12 8-6 7-3 23-6 29-3 8 1 15 4 15 1 22 8 15 2 37 20 15 6 4 0 3-3 0-5-10-19-2-7 1-3 4-1 4 1 22 8 8 6 10 11 1 4-1 11 4 3 8 0 11-4 4 1 3 7-1 11 3 15 5 8 9 7 6 8 0 3-7 9-1 6 2 4 7 4 3 3 3 8-3 15 3 7 5 4 4 1 7-3 4 0 11 8 7 3 12-1 14 1 15-3 8 1 11 12 2 3 1 8 3 3 5 2 3-2 4-3 1-4 0-5 3 1 5 4 7 3 3 1 5-4 0-4-12-7 2-4 4-4 24-8 6 1 7 4 3 3-1 4-7 15-2 11 2 8 5 7 1 15 6 11 1 8-2 7-8 11-2 8 2 6 9 9 3 7-292 0-4-11-9-15-13-13-3-2-8-2-18 3-12 0-6 3-2 3-4 34-27 0 0-11 1-4 9-9 1-6-2-4-7-1-4 1-2 4-5 11-18 8-4 4-3 7-12 0-4-13-1-13-3-4-3-3-11-2-4-2-1-4-3-4-7 0-15 5-4-1-4-1-3-6-5-12-3-3-4-3-13-5-7-3-20-23-13-22zM1333 471l2 4 0 4-2 4-26 33-1 4-2 19-7 22-6 11-1 4 1 7 9 15 3 15 3 11-2 7-4 3-7 1-15-2-11-1-8-2-10-10-5-11-3-4-15-6-8-6-4-2-40 0-4-1-8-5-3 0-8 9-13 12-2 7-1 15-2 7-4 7-15 16-1 3 0 4 7 8 2 7-36 0-2-8-4-6-5-5-2-3-3-12-8-10-4-2-11 0-4-1-4-5-2-4 0-15-1-3-10-12 0-3 4-12 6-6 8-5 3-3-3-19 7-41 7-19 4-6 4-4 15-5 11-6 3-1 8 0 11 3 15 10 15 1 26 4 4 2 11 10 3 0 12-2 11-1 3-2 12-9 7-3 11 1 15 5 4-1 11-14 4-3 15-9 7-2 8 0 11 4 7 5zM257 576l4-4 4 1 18 6 4 4-1 4-2 4-4 2-11-7-8-3-4-4zM1330 601l4-2 3 0 6 3 2 4 0 3-3 4-5 2-3 0-4-2-2-4 0-3zM276 617l4-3 4 0 11 4 3 2 1 4 0 4-2 4-6 3-7 0-4-2-4-3-2-6 0-4zM433 680l3-3 4 0 4 3z"/><path fill="#fee79b" d="M641 150l11 1 6 4 3 4 5 18 9 15 7 7 19 10 4 6 0 3-1 4-4 7-3 8-1 11 4 11 10 19 3 11-1 6-15 19-4 2-7 1-8-2-4-4 0-11-2-3-5-7-11-6-7-2-12-2-3-2-16-15-5-7-3-23-5-22 1-11 5-18 10-16 9-9zM250 166l8 3 15 8 8 8 6 13 10 24 1 7-1 12-4 15-5 7-4 4-11 7-17 8-10 8-7 3-7-1-8-3-4-4-11-17-4-9-1-7-2-37 4-7 7-8 15-21 15-12zM1043 293l4 1 3 3 1 7-3 19-5 4-4 0-3-4-1-12 1-7 3-7zM299 315l3 2 4 6 6 18-5 4-12 4-8-1-5-3-5-8-4-11 0-3 6-4 16-4zM356 535l5-8 5-6 15-8 3-4 1-8-2-15 5-22 4-4 11-3 5-4 3-4 1-4 0-11 2-5 4-4 12-6 9-15 5-4 26-10 7-1 30-2 19 5 15 1 18 8 18 3 12 12 15 5 10 6 3 4 1 3-3 11-11 0-4 3-1 5 5 4 4 0 3-3 4-8 15 1 8-2 3-2 8-10 3-4 8 11 3 1 15-1 5 2 3 3 13 19 13 15 1 4-3 15 0 7 2 4 9 7 3 4 1 19 5 10 8 12 4 2 7-4 4 0 19 13 11 4 7 1 4 0 7-9 4-3 7-2 4 2 3 3 8 15 4 4 4 2 7 1 15-3 8 1 7 4 7 7 12 5 3 5 3 8 7 11 1 4-2 7-6 11-3 8 0 11 2 11-149 0 2-2 8-2 3-2 3-5 0-4-3-4-11 0-11-2-14 6-3 4 2 11-83 0-3-4-7-4-4-4-3-6-5-12-3-4-22-14-8-2-18 2-19-1-19 5-18 1-4 2-7 8-8 6-7 3-4 1-4-4-7-10-15-17-7-2-12 0-18 7-4-2-7-12-4-4-8-4-11-4-7-5-15-21-8-14-1-8 2-7zM641 400l4-1 4 1 6 4 3 4 2 8-4 7-4-1-11-18zM1321 468l3 7-1 4-9 19-13 14-2 4 0 15-5 11-2 15-9 15 0 7 1 8 6 15 1 4-2 14-4 4-18 2-4-1-6-5-3-3-6-14-12-12-3-8 1-11-3-4-9-4-8-5-14 0-15-4-4 2-3 4-4 11-4 1-11 0-4 2-11 16-11 10-4 8 0 19-3 7-5 6-11 7-7 3-4-1-15-9-10-9-3-12-5-4-4-1-4 2-7 4-4-1-1-3-1-15-6-11-1-8 2-4 3-2 11-3 3-2 1-4-1-3-6-12-1-7 1-7 8-15 1-4-2-11 1-8 5-11 5-6 30-7 7-1 4 1 11 7 8 2 18-1 19 3 4 3 7 9 8 4 29 0 4-2 7-12 8-4 11 0 15 6 4 0 4-2 7-15 4-5 7-5 11-5 8-1 7 1 7 4zM1222 527l-4 0-4 4-1 8 1 6 4 1 5-7 1-8z"/><path fill="#fed283" d="M634 161l3-2 8-1 7 4 4 6 15 35 4 3 15 4 6 5 1 3-7 15-1 11 3 15 10 15 3 8-1 7-3 4-8 2-7-2-6-4-9-9-11-3-15-7-11 0-8-4-5-7-3-7-1-15-5-19 0-22 3-11 4-8 7-10zM254 173l14 8 8 7 8 12 7 18 2 8 0 7-5 19-4 7-3 4-12 7-19 7-11 9-7 1-4-1-5-4-10-15-4-8-1-7-1-34 4-7 21-26 14-11 4-1zM365 565l1-4 3-3 15-5 5-3 2-4 0-4-2-3-10-12 10-15 2-7 2-15 3-11 4-8 16-18 5-19 14-7 9-19 4-3 11-4 16-8 32 0 11 3 11 6 12-2 3 1 11 5 12 4 4 2 7 10 4 3 11 3 5 3-1 3-4 7-2 4 0 8 1 4 4 5 12 7 3 1 4-2 7-8 4-1 6 1 7 8 6 2 11 2 11 3 4 0 11-10 4 0 4 2 11 8 3 4 2 4-1 22 2 7 10 12 4 18 5 11 0 8-6 7-2 4 1 11 4 7 4 2 3 0 19-6 11-6 4-1 11 3 8 3 4 6 3 5 4 3 15 0 15-2 11 1 18-3 8 1 7 3 17 14 10 15 3 7-9 23-2 11 0 11-111 0 0-15-5-13-3-5-4-2-7 2-4-1-8-9-3-1-19 10-4-3-7-11-4-2-4-1-3 1-4 3-7 13-4 1-9-4-6-1-4 1-5 3-2 4 1 4 8 11 0 4-9 11-8 0-11-22-11-5-6-10-5-5-11-4-15-9-8-1-18 1-12-2-7 0-7 1-15 6-25 2-13 8-3 1-4-1-6-5-4-7-2-8-3-3-4-1-29-1-12 3-3-1-15-13-15-4-7-6-14-18-2-8zM719 613l4 2 16-2 0-4-5-1-9 1zM1308 465l4 3 2 3-1 8-5 15-4 5-4 3-15 7-1 3 4 15-3 15 0 11-6 12-2 3 0 23-7 15 0 7-3 2-4-2 0-7-3-4-11-11-2-8 1-11-3-7-12-7-4-5 0-3 8-21 7-13 0-4-1-3-4-4-3-4 1-1 4-2 14 7 8 0 7-2 4-5 3-19 4-7 8-4 7-3 8-1zM1162 494l5 4 7 11 14 11 12 13 2 6 0 3-2 4-4 1-11-2-4 2-7 5-8 9-11 5-15 20-15 8-3 4-4 13-4 5-2 1-4 7-6 0 7-7-1-4-4-4-9 0-7 3-4 0-20-10-3-4-4-7 0-4 6-11 1-8-2-7-5-8-1-7 3-7 10-12 2-15 2-3 7-4 4-4 6-7 5-3 8-1 30 2 18-1z"/><path fill="#fdbb6d" d="M634 169l3 0 4 0 8 4 3 3 4 6 2 7-1 14 2 8 4 5 14 6 3 4 4 30-2 6-4 4-11 3-7-1-15-6-11 1-4-2-4-5 0-4 2-11-1-4-4-7-4-8-2-30 2-6 4-6 7-8zM254 181l6 4 16 13 4 5 8 19 1 11-6 19-7 8-11 6-15 5-15 9-3 0-4-1-4-4-6-8-4-8-2-37 3-7 20-26 11-7zM426 442l3-3 11-7 8-16 3-4 15-4 11-9 8-1 11 0 11 3 14 11 5 2 7 0 11-4 11 3 8 4 19 25 4 15 3 5 15 15 7 6 19 5 15-3 11 0 15 5 4 0 3-1 9-10 3-1 5 1 4 4 2 3-1 23 1 7 2 4 9 9 4 17 0 7-5 8-2 7-1 8 2 15-2 9-9 9-9 15-6 8-6 2-11 2-18 9-8 0-7-3-8-9-3-2-12-3-15-8-7-2-19-1-11-2-7 0-11 2-19 8-11 0-11-2-8-5-10-12-1-4 3-11 0-4-3-3-4-2-18 4-15 8-8 1-22-2-30-10-3-3-4-4-1-4 0-4 5-2 11-2 12-7 3-4 1-11-1-6-4-5-7-4-2-3 3-23 8-22 14-22zM1304 472l1 3 0 4-1 5-4 5-4 2-3 1-8-2-2-4-1-3 1-4 3-4 10-4 4 0zM1159 500l7 12 8 8 4 7 1 8-4 7-9 7-11 3-3 1-9 19-3 6-4 3-3 2-15 2-4 2-10 7-9 3-15 1-7-4-4-7 0-19-4-18 1-4 7-11 5-15 2-4 15-14 4-1 48-5 8 1zM1270 528l4 2 1 5-1 5-4 2-5-3-2-4 1-4zM1267 573l3 6 0 4-3 5-4-1-2-4 0-4 2-4zM879 617l7 11 3 7-9 34-1 11-79 0 1-7-1-8-3-6-7-5-2-4 2-4 4-3 1-4-3-11 0-4 5-11 4-4 4-1 11 2 34-8 7-1 8 3z"/><path fill="#fb9d59" d="M634 180l7 0 4 1 4 4 1 4-1 3-3 8 0 3 2 8 5 7 16 11 2 4 4 10 1 9-1 4-4 4-8 1-3-1-12-8-2-4-2-11-2-8-13-7-2-4-1-11-3-11-1-4 4-7zM250 191l21 12 5 6 8 13 1 4-1 7-6 15-2 4-7 6-8 4-22 9-7 1-8-4-5-9 0-18-2-15 1-4 18-26 7-5zM429 448l4-4 11-6 3-4 4-9 4-4 4-2 16-3 10-8 3-2 4 0 8 3 26 15 7 1 15-4 7 0 4 3 16 18 4 7 4 15 26 30 2 15 4 4 15 6 4 0 3-1 4-2 2-4 4-11 2-3 7-4 4 0 15 5 15 2 3 4 2 15 2 4 7 7 3 8-6 33 1 15-2 7-10 11-8 15-4 5-5 3-17 7-7 1-8-2-7-11-4-4-7-2-12 1-18-8-8-2-44 1-8 3-11 7-7 1-8-2-7-5-7-7-1-4 2-11 0-4-4-8-9-7-11-7-4-1-4 2-22 17-4 0-3-4-1-3 3-8 6-7 1-4-1-4-5-4-11-5-7-6-14-22-2-7 2-11zM1151 508l6 12 9 7 2 4 1 4-3 5-4 1-11-1-4 2-7 23-4 7-6 4-12 1-23 8-7 0-8-2-4-7-3-19 8-30 4-7 10-9 8-4 18 0 23-2 4 0zM865 610l6 7 5 7 2 8 2 11-3 11-5 15-1 11-61 0-3-26 1-22 1-4 3-4 20-11 21-6 8 1z"/><path fill="#f67c4a" d="M250 200l11 6 4 0 11 11 3 9 0 7-3 7-3 6-12 10-22 8-7 0-4-2-3-6 1-12-1-18 14-24 4-2zM660 238l1 3-1 1-1-1zM433 454l4-5 12-7 4-4 4-7 4-4 5-1 15-1 11-7 4-1 7 2 5 4 7 8 7 3 11-1 19-3 3 0 8 5 9 10 2 4 3 15 3 7 16 23 5 15 7 7 18 10 8 2 7-2 9-6 3-4 3-7 4-4 3 0 15 4 6 3 12 23 1 4-2 22-3 11 2 15-1 4-18 26-8 6-11 4-4 0-3-1-12-12-7-5-15-3-11-5-22-1-19 4-30-1-4 1-11 7-7-1-5-4-1-4 0-11-4-8-9-11-12-11-6-8-4-3-11 1-4-2-15-14-16-4-3-4-6-11-5-6-1-5 1-6 8-14 9-21zM1135 520l4 4 1 3-2 19-2 8-7 11-6 3-20 7-11 0-8-4-3-6 0-4 2-11 1-11 3-12 5-5 7-7 7-3 19 3zM861 615l5 5 6 15 4 8 0 3-10 15-4 8-5 2-15-2-4 0-4 4-1 7-15 0-3-22 2-19 3-6 10-9 16-9 7-2 4 0z"/><path fill="#ec5c3b" d="M265 212l6 6 0 15-2 6-4 4-7 5-12 4-7 1-2-5 0-22 2-8 3-7 4-3 4 0 8 3zM433 466l7-9 4-4 11-6 11-9 4-1 15 0 11-3 4 0 11 7 11 2 7-1 19-5 7 0 4 2 8 6 2 4 2 4 0 18 3 9 16 21 9 15 5 5 30 18 3 0 12-8 14-7 8-5 4 0 3 1 4 4 2 7 0 15 3 11 0 4-4 11 3 11 0 8-8 11-7 8-8 6-7 2-7-3-19-16-19-14-3 1-12 6-7 2-11-1-19 6-15-1-22-5-22-21-14-15-2-4-2-11-2-3-6-3-15 2-4-2-18-16-6-11-7-8-1-3 4-19zM1123 524l5 3 2 4 1 11-2 9-19 16-7 2-8-2-3-3-2-7 0-18 2-8 7-7 7-4 8 1zM853 622l4 2 2 8 2 1 4 0 3 2 5 8 0 3-5 7-3 2-4 0-8 5-3 1-7-3-4-4-4-8 0-3 7-8 7-11z"/><path fill="#dd3d2d" d="M253 218l10 0-1 4-4-1zM451 460l23-12 22-2 19 4 11 0 7 0 19-6 7 2 4 3 1 4-1 15 2 11 2 5 21 25 12 22 11 7 5 4 4 8-1 3-8 8-10 18-8 7-4 1-15 1-11 5-8 1-11-1-7-3-5-3-10-12-15-5-7-6-9-11-5-14-5-7-4-1-15-1-3-1-10-9-12-30-2-7 2-8zM1114 527l9 8 3 4 0 3-12 13-4-1-4 4-3 1-3-2-2-4-1-7 0-7 3-4zM663 538l4 0 4 3 6 12 0 8-3 7 0 4 5 11 1 4-3 7-6 7-11 5-8 0-6-4-5-11-12-12-1-3-1-8 3-8 11-8 11-11 4-2zM865 639l4 4 0 3-4 4-9-4 0-3z"/><path fill="#ca2427" d="M457 471l5-5 12-8 18-5 8-1 18 5 15 1 8 4 11 9 11 20 19 19 5 10 1 7-4 15 0 8 2 3 7 8 1 4 1 7-2 4-3 3-5 2-15 0-11 6-11 1-4-1-6-4-9-13-3-3-4-2-11-2-5-2-10-11-6-15-3-4-6-3-14-4-5-4-1-4-1-11-8-11-2-8 2-7zM1114 530l8 9 0 3-8 9-11-9 1-3zM666 553l1 4-2 4-9 9-4 3-3 0-4-3-1-2 1-3 11-12 4-2 3 0z"/><path fill="#b10b26" d="M466 474l15-12 7-3 8-1 7 1 12 5 14 1 4 2 7 4 8 10 15 25 15 12 2 6 0 3-2 5-9 7-3 3-1 4 1 4 4 15-4 3-14 9-4 1-6-2-8-11-5-4-7-4-11-2-4-2-6-7-9-16-4-3-13-7-4-4-2-15-8-15 1-7zM1114 534l4 5 0 3-4 5-6-5 0-3z"/><path fill="#a50026" d="M485 466l7-3 8 1 15 8 14 1 4 2 4 4 7 11 2 8-2 2-2 1-13 1-7 2-4 5 0 3 1 4 3 4 4 1 11-1 15-4 3 1 4 4 3 6-10 26-4 5-4 1-3-1-15-7-12-5-5-4-9-15-5-3-14-8-3-4-5-26 0-3 4-8z"/><path d="M280.0 84.3V680.0M652.3 84.3V680.0M1024.6 84.3V680.0M1396.9 84.3V680.0M168.3 568.3H1620.3M168.3 382.1H1620.3M168.3 196.0H1620.3" stroke="#808080" stroke-opacity="0.55" stroke-width="2.2" stroke-dasharray="5.8 4.2" fill="none"/><path d="M205.9 305.5L208.4 299.7L223.4 292.2L238.5 287.1L251.8 286.3L254.3 280.5L254.3 265.4L256.9 257.1L265.2 251.2L276.9 247.0L283.6 242.0L293.6 237.8L300.3 234.5L314.5 233.7L310.3 227.0L307.0 222.0L305.3 213.6L298.6 201.9L290.3 200.2L289.4 186.9L290.3 175.2L292.8 161.8L298.6 157.6L317.0 153.4L333.7 149.2L340.4 143.4L348.8 140.1L373.9 136.7L407.3 132.5L425.7 130.9L435.7 129.2L447.4 130.9L460.8 135.9L459.1 140.9L476.0 157.1L491.6 166.9L500.6 168.7L514.9 181.7L521.4 189.5L512.3 196.0L520.1 203.7L531.8 224.0L545.0 227.0L557.6 228.2L592.2 234.0L609.5 238.3L621.0 248.4L641.2 257.1L649.9 248.4L661.4 245.5L671.5 249.9L665.7 259.9L684.4 267.1L707.5 264.3L730.5 251.3L745.0 247.0L773.8 245.5L802.6 235.4L817.0 232.6L825.6 228.2L845.8 223.9L868.9 215.3L889.0 200.9L915.0 189.3L943.8 183.6L961.1 169.2L980.0 162.9L1021.5 157.1L1094.1 151.2L1152.9 140.8L1208.2 138.7L1218.6 132.8L1235.9 127.7L1239.3 134.6L1284.3 130.4L1298.1 128.4L1325.8 134.6L1360.4 148.4L1384.6 165.7L1396.7 165.0L1426.1 186.4L1464.1 202.0L1488.3 208.9L1505.6 224.5L1519.4 226.2L1509.0 231.4L1507.3 238.3L1488.3 250.4L1498.7 266.0L1507.3 288.5L1519.4 297.1L1548.8 309.2L1552.3 321.3L1564.4 349.0L1569.6 373.2L1571.0 380.0L1571.0 395.7L1558.3 403.5L1548.5 413.3L1546.5 434.9L1538.7 448.6L1521.0 460.3L1505.4 474.1L1491.6 487.8L1486.7 497.6L1490.7 521.1L1492.6 544.6L1486.7 562.2L1474.0 581.8L1460.3 599.5L1446.6 605.4L1432.9 608.3L1420.1 606.3L1407.4 611.2L1389.7 623.0L1382.9 634.8L1374.1 641.6L1358.4 646.5L1338.8 649.5L1334.9 640.6L1336.8 621.0L1331.0 616.1L1327.0 603.4L1328.0 576.0L1319.2 574.0L1291.8 578.9L1288.8 583.8L1288.8 595.6L1271.2 587.6L1264.3 569.2L1252.7 559.9L1240.1 547.3L1225.1 551.9L1214.7 546.1L1211.2 531.1L1204.3 530.0L1197.4 536.9L1190.5 556.5L1172.0 560.4L1149.0 565.7L1137.5 573.8L1121.3 584.1L1105.2 598.0L1089.0 603.7L1079.8 592.2L1047.5 595.7L1036.0 599.1L1023.3 594.5L1013.0 607.2L976.1 596.8L964.6 593.4L951.9 601.4L941.5 593.4L930.0 591.1L919.6 587.6L909.2 591.1L900.0 591.1L888.9 587.9L865.8 577.5L842.8 567.1L822.0 560.2L815.1 556.8L792.0 554.5L778.2 551.0L755.2 553.3L736.7 536.0L720.6 533.7L704.4 519.9L681.4 507.2L674.5 498.0L667.5 498.0L649.1 491.1L635.3 488.8L630.7 480.7L612.2 473.8L598.4 466.9L577.6 454.2L566.1 441.5L556.9 438.0L545.4 421.9L538.3 420.0L520.1 413.8L509.7 406.0L509.7 396.9L507.1 386.6L499.4 380.1L494.2 368.4L485.1 371.0L477.3 368.4L479.9 364.5L477.3 352.9L468.2 342.5L457.9 334.7L449.1 326.4L435.7 321.4L424.0 326.4L414.0 320.6L403.9 318.9L394.7 312.2L393.1 300.5L373.9 304.7L360.5 303.0L352.1 295.5L340.4 298.8L333.7 293.8L320.4 303.9L308.7 305.5L307.0 314.7L298.6 313.9L294.5 303.0L283.6 310.5L275.2 313.9L265.2 303.9L258.5 300.5L253.5 299.7L240.1 303.9L223.4 308.0L206.7 310.5Z" stroke="#000" stroke-width="4.4" fill="none" stroke-linejoin="round"/></g><rect x="168.3" y="84.3" width="1452.0" height="595.7" fill="none" stroke="#262626" stroke-width="3"/><text transform="translate(149.3 580.6) scale(1 1.04)" font-size="46.5" text-anchor="end" >28°N</text><text transform="translate(149.3 394.4) scale(1 1.04)" font-size="46.5" text-anchor="end" >33°N</text><text transform="translate(149.3 208.3) scale(1 1.04)" font-size="46.5" text-anchor="end" >38°N</text><clipPath id="clipb"><rect x="168.3" y="782.2" width="1452.0" height="595.7"/></clipPath><g clip-path="url(#clipb)"><rect x="168.3" y="782.2" width="1452.0" height="595.7" fill="#9dcee3"/><rect x="168.3" y="782.2" width="1452.0" height="595.7" fill="#313695"/><path fill="#36459c" d="M168 782l1452 0 0 596-1452 0z"/><path fill="#4065ac" d="M168 782l1452 0 0 596-1452 0z"/><path fill="#5183bb" d="M168 782l1021 0 3 5 4 1 4-2 1-4 419 0 0 596-1452 0zM1110 877l-2 2 0 4 2 2 4-1 1-5-1-3zM965 898l-1 3 0 4 1 4 4 3 3 1 4-1 2-3 0-4-2-4-4-3-3-2zM907 905l-5 0-8 4-2 4 2 3 4 0 5-3 3-4zM1217 987l1 2 4 0 0-2-4-3z"/><path fill="#679ec9" d="M168 782l829 0 2 4 3 4 4 1 2-1 0-8 167 0-1 7-8 12-1 4 3 3 2 2 4 0 14-6 15-3 19-6 20-13 208 0 3 4 11 4 4 4 3 1 2-2-2-2-3-2-3-3 0-4 116 0-2 5-3 5-12 0-1 1-3 4 3 4 5 1 11-3 11 3 8 1 4-2 0-19 18 0 0 596-1452 0zM715 845l0 8 2 7 2 7 4 5 4 1 11-2 4 1 7 10 4 2 11-11 4-1 7 1 11 5 4 3 4 5 3 8 4 4 1 0 1-4 10-8 7-3 5 0 3 3-4 6-8 4-11 3-1 2 4 12 2 14 3 4 10 8 8 10 4 3 3 1 6-3 6-11 7-1 15-10 4-1 15 2 33-8 4 0 11 4 4-1 3-4 12-10 3 0 11 10 0 4-4 7 1 1 22-6 8 2 14 8 6-1 4-4 0-4-1-11 3-11 0-4-4-3-8 3-14 15-4 2-13-17 9-11 0-2-7-1-4-4-1-15-3-4-4-1-11-2-18 2-3-3 0-3 5-15-3-4-22-6-3-2-6-7-6-4-22-2-7-5-8-7-3 1-12 9-7 2-4-1-9-8-9-5-15-1-8-2-15-9-3 2-4 4-22 10-4 1-3-3-1-12-5-3 0 3-5 8-5 7-2 4 1 4 7 11 5 5 12 5 15 1 3 4-1 3-6 5-23 8-3 0-4-3-8-9-6-4-5-1zM1403 793l-2-1-8 4-15 15-1 5 0 7 5 6 5-2 2-4 5-11 11-11 0-4zM1278 795l-4 1-4 4 0 8 0 7 4 0 4-7 3-11zM1099 825l-15 6-18 11-2 3-2 19-4 6-6 5 0 4 2 7 4 7 4-2 4-8 3-3 4-1 4 1 3 3 4 4 8 17 7 9 2 3-5 23 0 7 3 13 4 5 7 1 11-2 8-2 5-4 6-7 0-4-2-7 0-4 1-4 0-4-6-7-1-4 1-3 14-15 2-4 1-4-3-11 1-26-9-8-7-11-5-3-21-7zM1259 836l-7 2-5 4 0 7 3 8 0 7-3 8-9 11 1 3 4 4 5 2 15-2 6-4 2-3 0-11-6-15-2-16-2-3zM1181 844l0 1 1 4 4 4 2 1 5-1 0-4-4-4-4-2zM1432 845l-2 4 4 4 4 0 1-4-1-3-4-1zM1351 898l-3-1-3 1-4 3 0 4 4 2 5-2 3-4zM774 927l1 4 4 1 8-1 2-4-10-4-4 1zM1483 923l-4 2-1 2 1 1 4-1zM1153 946l-2 4 1 3 7 12 3 2 12-4 3 1 4 2 2 2 1 4-1 8-5 18 0 4 3 3 7 3 15 2 4 3 11 17 4 3 4 0 0-5-2-11 2-4 8-11 7-17 6-9 1-4-2-4-5-3-19 0-10-4-1-4 3-7 1-4-1-4-2-3-5-3-7 1-12 7-11 3-7 0-11-2zM1497 940l-3 1-1 1 5 15-1 15 4 1 6-12-6-19zM998 976l2 4 2 1 10-1 9-4 3-4 1-4-4-3-19-1-3 4zM753 989l0 3 4 4 3 1 4-1 2-2-1-3-5-4-3-1-3 1zM871 994l-3-3-3-2-4 0-4 2-7 6-12 5-3 4-3 7 1 4 2 3 3 1 4-2 11-10 16-3 4-4 0-4zM1587 994l-1 4 2 4 3 4 3 1 3-1 2-4-1-4-2-4-6-2zM778 1017l-3-4-4-1-7 5-3 3-1 4 4 3 8-3 6-4zM891 1023l0 5 3 3 11 6 12 11 3 3 4-1 5-3 1-4 0-4-6-6-26-12-4-1zM1517 1024l0 4 10 9 4 1 4-2 3-4-3-1-12-11-2 0zM1304 1024l-8 7-3 1 3 1 4-1 4-4zM661 1054l-1 4 3 4 8 0 11-4 4 0 7 7 4 1 7-2 4-3 2-3-2-5-7-1-11 1-4-2-7-16-4-3-4 1-4 3zM1170 1049l-1 1 1 6 1-2zM857 1104l-16 10-3 3-2 4 0 4 2 6 4 4 4 2 7 1 4-2 4-5 5-10 0-4-1-5-4-6zM1438 1125l-8 0-8 3-4 4-2 4 0 4 3 6 4 3 4-1 14-12 1-4 0-4zM865 847l3-2 4 2 3 2-1 4-2 1-4-1-4-4z"/><path fill="#81b7d7" d="M168 782l541 0 9 11-11 12-2 3 0 8-3 3-13 8-4 4-1 3 0 4 2 4 7 3 5 4 2 8 0 3-3 3-7-2-5-4-3-5-4-3-7 0-4 2-5 6-5 11 0 7 5 15-2 4-8 7 1 4 3 4 4-3 15 14 3-2 5-9 3-1 4 0 4 5-2 3-14 5-2 10 1 8 1 3 8 9 18 6 10 4 3 4 1 11 5 20 15 21 4 15 4 7 1 8-2 3-3 4-4-1-2-3 0-15-2-3 0 3-15 11-7-5-4-1-7-1-6-4-14-18-1-4 2-4 6-3 1-4-2-4 0-7-5-7-1-4 3-15-1-4-5-3-11-1-4-2-14-16-15-1 9 12 1 3-3 15 4 19-1 11 5 8 10 7 3 4 0 3-11 19-4 15-1 11 1 8 3 3 6 1 16-4 10 0 18 7 8 8 4 1 4-1 14-10 18-2 16-10 5-8 0-11 2-3 4 0 11 11 4 1 4 0 4-2 3-12 4-2 4 1 3 5 2 8 6 11 2 4 1 22-3 13-7 10 2 11 1 3 4 4 7 6 15 14 4 2 7-1 12-8 7 4 4-1 8-16 2-7-3-8-7-9-8-20-3-3-12-5-4-4-3-3-2-8 0-11 2-10 4-6 7-3 4 0 4 3 6 9 6 11 1 7-1 11 2 4 23 10 7 0 19-9 4 0 11 4 7 0 4-3 4-6 0-7 2-4-2-4-8-7 0-4 4-7-7-8 0-3 18-19 4 4 1 0-4-19-5-6-3-3-8 2-4 3-7 18-4 3-3 0-19-8-17-13-7-7-3-7 1-5 7-9 2-5 0-15 2-2 4-1 13 7 22 7 8 4 5 15 4 6 4 3 11 1 3 2 5 10 10 15 4 1 5-1 6-3 7-12 16-8 11-12 3-3 11-3-1-4-7-11 9-8 3 0 9 8-7 11 2 4 4-1 7-5 4-1 7 4 12 9 11 2 7 0 4-2 1-2 10-8 4-1 11 4 4 5 3 11 9 15 2 11-3 7-4 2-4-1-12-8-10-1-19 2-4 3-1 3 0 4 4 8 5 4 8 3 11 0 7 11 19 13 11 16 4 2 4-1 14-13 4-2 11 2 4-1 4-3 0-2-7-7 0-4 14-13 14 13 0 4-3 4 0 2 12 0 9-2 7-8-2 0-13-15 1-3 12-12 4 2 10 10 1 3-6 8 3 2 3 0 5 2 2 3 4 11 4 8 4 4 4 0 3-4 4-10 3-5 11-7 5-12 7-7-4-5-3 1-8 6-7-8-4 2-4 3-3 1-13-11 2-4 11-11 3 1 8 7 7-8 4 1 4 5 3 2 8-8 4 2 10 9 1 4-5 7 1 3 4-1 3 2 7 15-1 7 11 11 1 4-6 11 0 8 3 9 4 5 4 2 4-3 1-2 4-22 2-4 4-4 3-1 4 1 8 7 3 2 4 1 11-5 8 0 7 4 8 10 7 6 19 7 9 5 3 4 4 11 4 4 7 4 6 1 6-1 5-4 4-7-1-8-6-9-2-6 1-7 4-4 11-3 12 1 8 6 9 11 5 3 7 1 8-1 9-3 9-11 12-2 7-4 4 0 7 7 0 156-7 0-4 2-3 5-1 3 4 8 8 6 3 2 0 111-62 0-1-11-4-5-3 0-4 5-6 11-1372 0 0-247 4-2 5-4 4-11-1-8-2-4-2-1-8-1zM585 875l-1 4 1 4 4 5 11 2 4-2 1-2 2-7-3-9-4-1-11 3zM611 976l-4 0-3 4 0 3 4 4 4-4 2-3zM366 983l-1 4 3 4 5 3 4 0 3-3-2-4-9-5zM567 981l-4 2 0 7 4 5 3 0 3-4 0-4-3-5zM630 1042l-4 1-4 4 0 3-4 8 1 1 4 2 3-1 6-6 2-7-2-4zM455 1061l2 4 5 2 4 0 4-2 2-4-2-4-4-1-4 0-5 2zM1000 1073l3 3 7 2 3-2 2-7-12 0zM788 1084l-1 3 1 4 6 1 11 11 3-1-7-13-4-5-3-2-4 0zM809 1105l-5 5 1 2 5-2zM1392 1181l3 3 6 2 7 0 15-4 7 1 8 4 4-1 33-15 15-1 8-4 1-4-4-4-16-7-7-8-5-11-3-3-8-3-9-9-5-2-12 0-22 5-5 5-2 11 4 15 1 3-5 12-8 11zM1349 1192l0 3 3 2 11 0 4-2 0-3-7-6-4-1-4 2zM1487 1251l-1-3-7-4-4 0-11 4-4 3 6 4 13 3 7-3zM1516 1245l-4 2-4 4-4 8 0 22 1 4 4 4 7 4 4 0 3-1 5-3 3-8 1-7-5-12-5-14-2-3zM1465 1318l-5 1-12 18 0 4 1 1 4-1 7-6 4 0 5 2 2-8-1-3-2-5zM745 786l2-4 23 0 3 4-13 12-3 0zM877 782l69 0-1 15 1 4 8 7 0 4-11 11-4 2-7-5-4 1-4-1-14-4-19-5-5-3-6-7-3-11zM960 782l11 0 0 4 9 6 4 5 2 4 0 4-7 3-7 2-3 0-3-2-1-3 2-12 0-3zM999 831l0-8 1-11 3-4 7-5 5-10 10-10 3-1 8 1 8 3 10 1 6-1 1-4 88 0 1 8-1 3-5 8 5 7 0 4-6 7-7 6-11-8-11-3-8 3-7-3-11 4-15 9-15 7-15 12-4 2-7 1-15-1-7-3-8-7-2-4zM1509 782l9 0-6 3zM1244 799l4 2 4 4 1 3-1 4-7 7-8 19-4 20-11-8-4-5-3-22 3-4 17-7 2-7 3-4zM1300 805l8 0 7 5 22 9 11-7 4 1 10 10-1 4-9 8-4 1-7-4-3 2-4 8-2 7 0 4 2 1 3-1 14 15-10 10 2 5-13 13-11-5-11-2-13-6-3-4-4-11-10-11-2-4 0-4 1-7 8-15 4-12 4-6zM1442 815l3-3 4-1 11 0 8 5 8 11 3 3 7 1 11-2 15 6 4-1 11-11 19-9 7 0 19 4 15-3 7 3 8 5 11 11 7-1 0 113-2 4 1 3 1 1 0 38-7-3-6-6-5-15-4-5-4-2-4 0-3 2-11 17-4 4-4 2-4-3-5-11-4-4-5-1-15 0-2 1 1 8-1 7-6 9-7 4-8-2-3-4-5-7-1-3 0-4 6-9 7-5 6-1-4-11-5-19 1-11-1-4-12-8-11-18-4-2-3 2-4 6-4 3-7-1-6-4-5-11-6-8-1-3 0-4 2-4 4-4 12-1 3-2 3-4-1-4-3-7-17-18-8 1-3 0-2-2-1-4zM1531 857l-4-1-7 6-15 10-1 3 8 9 4 1 11-1 9-5 1-4-2-12zM1488 879l2 1 1-1-1-2zM1486 884l0-3-1 2zM1602 940l0 3 4-1-1-1zM1404 831l13 14-3 8 2 4 7 7 4 8-1 3-2 4-8 7-2 4 2 4 3 1 8 1 1 2-1 7-6 8 1 3 5 8 7 8 8 4 7 6 4 1 11 0 10 3 4 4 1 7-2 4-13 10-8 0-1 5 3 7 10 15 13 4 5 4 3 7-1 11 1 4 8 8 6 7 2 7-2 8-9 12-8 4-7 1-4-1-7-5-4-4-3-7-1-19-4-2-7 0-4 3-2 3-3 11-2 3-4 0-7-4-23-6-3-4-2-19-4-18-8-15 0-4 2-4 12-7 0-5-4-6-4-2-6-6-6-11-3-1-7 8-4 0-9-11 0-3 9-9 4-2 8 7 5-11 10-11-16-5-4-7 0-7 1-3 3-2 11 3 8-2 5-4 1-3-2-8-4-6-4-3-7 0-8 4-3-2-1-4 15-12 2-7zM995 889l4 2 10 10-1 4-9 9-4 1-9-10-2-4zM1162 892l4 0 9 9-1 4-4 8 3 7-1 4-2 3-4 1-4-4-3-11-5-8-1-4zM1042 909l5-1 4 1 4 4 2 3 0 4-3 3-3 0-8-3-3-4 0-3zM1205 920l13-12 11 9 4 1 4-5 4-2 14 0 4-1 3 3-7 2-7 9-2 3 2 4 12 4 4 4 2 7-2 7-4 4-5 1-3 0-8-3-3 1-4-3-10-11 7-11 0-4-1-2-4 2-11 9-13-12zM1285 909l8 6 4 5-1 4-11 11-14-11 0-4zM958 913l3 0 7 7 1 4-8 9-3 0-9-9 0-4zM1453 917l4 3 0 7-4 6-4-1-3-5 1-3 2-5zM1315 940l3 2 0 4-3 5-7 6-4 1-4-3-1-5 0-4 1-2 8-4zM730 944l4 2 0 4-4 5-3 2 0-6zM980 948l1 2 1 3-2 8-4 1-3-5 0-4 3-5zM1289 977l1 3-1 1-1-1zM1367 1002l4 1 9 10 1 4-14 13-14-13 2-4zM1535 1003l3 0 10 10 1 4-11 10-3 1-12-11 2-4z"/><path fill="#9dcee3" d="M168 782l349 0 0 4 1 2 4 1 11-2 3-5 27 0 13 19 6 4 7 2 13-2-3-4-3-2-5-6-6-11 58 0 2 6 4 1 2-7 55 0 7 8 1 3-10 10-3 1-8-4-2 1-1 3-4 3-4 1-11-1-8 3-3 6 0 11-1 4-3 3-9 8-10 14-3 3-4-1-2-5-5-3-15-3-4 1-4 1-11 10-7 5-4 4-2 7 0 15 3 8 7 7 1 4-6 15 0 3 2 15-3 4-10 5-3-2-8-6-4-1-3 2-16 21-1 3 8 15 1 8-4 11 0 15-1 3-6 9-2 6 0 12 2 3 11-10 4-2 4 0 22 13 3 3 2 4 3 10 3 3 30 1 15 4 25 19 3 4 1 7-1 4-2 2-4 1-18-7-8-1-2 5 6 12 4 4 3 2 15 1 8 5 7 2 19-1 4-2 1-5 0-7-6-15-1-7 2-5 4-1 3 1 11 7 8 2 7-2 15-13 8-1 22 3 7 4 8 7 4-1 7-3 4 0 7 9-7 10-4 1-4-2-3 1 0 5 5 7 0 4 6 10 7-2 8-6 11 9 0 8 7 3 15 14 4 1 1-7 18-15 3 1 18 18-11 11-2 4 10 6 4 0 2-10 9-11 1-4-1-8-6-7 0-4 13-14 12 10 11 5 7 0 1-1-1-15 1-3 3-5 4-2 4 3 3 0 8-6 3 0 9 10 2 3-11 13-3 1-4-2-4 6-8 1-5 11-5 7-4 2-11 1-5 1-3 4 1 11-1 3-4 4-7 3-7-1-2 2-1 4 1 4 24 12 4 0 3-2 9-10 6-2 19-3 4-1 7-7 4-1 30-2 5-3 0-3-13-5-4-3-3 0-4 3-4 0-11-10-2-4 13-11 4 1 7 5 4 0 8-6 2-4 0-4-2-1-4 0-13-14 1-3 12-14 3 3 4 0 1-8 5-7 5-4 4-1 8 5 7 0 4 3 3 2 4-2 8-7 3 0 12 8 1-1 2-8 4-5 15-1 9-4 9-8 8-10 4-2 3-1 23 7 7 3 4 4 7 12 4 2 4 1 4 0 14-11 4-1 15 1 4-1 14-11 8-1 19 3 11 5 7 0 4-2 4 1 13 12-2 3 0 3 7 3 4 0 5-12 6-8 15-7 4-3 4-1 11 6 6 9 8 22 0 8-2 11 1 4 5 2 8 1 7-1 8-3 0 6-11 18-8 6-15 5-3 3-1 11-3 6-4 4-4 2-3 1-4-3-2-10 1-7 7-12 0-3-5-15-2-4-7-5-18-17-4 0-5 7-4 15-2 4-15 11-2 4 2 7 4 5 11 8 9 13 6 7 14 8 2 4 0 11 2 5 4 2 4 0 7-1 11-5 4 3-4 7-2 8 1 7 6 11 0 4-6 11-6 8-2 7 1 4 12 20 4 4 7 0 8 0 11-4 4-4 18-27 4-3 8-4 26-3 22 4 5 2 2 2 2 5 0 4-8 15-20 20-11 10-3 3-2 8 0 4 2 3 7 10 4 3 11 5 3 4 2 4 0 8-31 0 0-8-1 8-66 0-4-3-4 1-1 2-1183 0 0-96 11 3 3-4-1-15-5-15 0-3 7-12 23-16 7-2 15 0 15-2 15 2 7 0 11-3 6-5 3-3 2-15 3-4 9-6 0-1-6-8 10-11 0-4-2-4-9-11 14-13 5-2 2-7-2-11-5-1-15-14-7 6-4 0-15-7-7 0-8 2-15 10-18 2-4 0-7-4-8-7-7-10-4-11-2-3-6-3-11-1 0-35 4-2 3-4 1-4-4-9-4-2 0-93 5 0 0-4-5-6 0-54 8 2 4 2 2 4 4 11 1 1 4 0 3-4 5 0 7-12 3-3 4-2 7 1 12 3 11-2 11 1 7 3 15 9 4-1 15-19 3-12 4-7 1-4-1-8-3-2-4 1-6 9-2 11-7 5-7 1-12-5-24-16-2 0-3 2-8-6-7-3-8 0-11 3-19 0-11 6zM354 838l4 3 4-3 4 4 7-8 0-1-7-3-4 0-7 4zM397 857l2 0 2 0 3-4-1-1-4 1zM299 896l-3 2-1 3 4 6 3-1 2-5-1-3zM187 934l-4 3-6 9-2 7 1 4 3 3 12 4 3-3 1-15-1-4-3-6zM455 944l-4-1-7 3-4 7 0 6 4 2 7-4 4-3 2-4 0-4zM492 962l-1 3 0 3 4 8 5 2 3 0 4-2 0-7-2-4-5-4-4 0zM347 987l2 4 4 3 16 8 8 2 7 0 5-2 8-11 14-11 0-4-1-4-3-4-4-1-19 1-11-4-7-1-8 5-7 8-4 7zM332 1026l5-2 3-4 0-1-7 1-2 4zM409 1050l12 0 8 2 7 5 4 4 8 13 3 2 8 2 15-3 11-5 8-9 5-11-2-4-11-1-11-2-19-1-5-3-8-11-2-1-4-1-2 2-5 7-4 3-7 2-4 2zM258 1031l-6 1-5 3-1 8 1 4 3 1 4 0 7-5 1-4 0-4zM336 1063l-8 0-15 8 0 2 7 7 8 7 0 4 4-7 10-11 0-4-2-4zM1066 1109l-8 8 0 4 4 4 4 6 3 4 8 1 0-4-3-4 6-7 1-4-11-3-3-4zM1042 1114l1 1 0-2zM1038 1154l1 1 0-2zM1207 1162l-4 1-1 3 1 4 4 1 2-5zM846 1169l4 1 0-1zM850 1181l-4 0-19 7-6 7-2 4 2 4 3 1 7 1 9-2 7-4 3-4 1-7 0-4zM1231 1225l-2-1-3 3-1 6 4-1 2-3zM321 1318l0 4 4 3 3 0 10-3 3-4 0-3-5-5-8 0-3 1-3 4zM747 786l2-4 19 0 2 4-10 10-3 0zM879 782l64 0-1 15 10 11 0 4-9 10-4 1-7-7-4-1-15 0-19-4-7-6-3-4-4-8zM1000 827l1-4 3-7 6-8 8-15 7-6 7-2 20 5 14 1 1-1 1-8 28 0 3 8 4 0 3-3 12 9 11-8 11 13 3 7 1 4-8 8-3-3-4-1-8-7-3-2-12 6-11-7-3 0-12 9-3-2-4 0-3 6-12 12-19 13-3 1-15 0-8-1-7-6-3-4zM1092 796l0 1 1 0zM1348 815l4 1 6 7-1 4-5 4-4 2-7-6-2-4zM1546 829l4-2 3 1 4 3 3 3 1 4 1 15 2 3 4 2 13 2 6 4 11 11 9 11 6 5 7 2 0 17-15 8-7 2-8 0-3-3-1-4 0-4 7-15-1-8-5-6-4-3-19-5-9-12-9-8-4-7-2-7 1-4zM1404 837l8 8-1 4-7 10-7-10-1-4zM1308 855l7 0 4 2 3 6 4 1 11-7 10 11-7 7-1 4 2 4-11 11-4-2-11-9 2-4-2-1-7 5-12-11zM1319 875l0 2 1-2zM1501 881l6 5-6 8-4-3-3-5 3-4zM995 891l4 2 8 8-1 4-7 7-4 1-8-8-2-4zM1162 897l4 0 5 4-1 4-4 6-4 0-4-6 0-4zM626 920l1-4 7-7 3-2 8-1 11 6 4-3 3 2 10 9 0 4-10 10-3 2-4-3-11 3-4 1-7-3-6-7zM1218 910l12 10 0 4-12 9-10-9 0-4zM958 916l3 0 4 4 1 4-5 5-3 0-6-5 1-4zM1285 914l7 6 0 4-7 6-8-6 0-4zM1384 931l4-7 9-7 7-2 8 0 7 4 5 5 6 10 12 8 9 11 2 1 7-6 4 0 9 9-2 4-7 6-4 0-7-4-8 15-7 8-11 3-8-1-3-2-8-8-7-15-8-5-5-5-5-11-1-3zM1241 930l12 12-5 5-7 5-4-2-6-8 6-9zM1371 934l5 5-1 3-4 5-4-1-4-4 0-3 4-4zM595 950l5-3 8-2 7 1 11 4 4 3 2 4 0 4-2 6-4 2-15-5-11-2-4-5-1-4zM1051 955l3 1 2 1-2 4-3 1-3-5zM1520 964l3 1 6 3 3 8 0 4-3 7-2 2-7 4-4 0-9-6-2-4 0-7 1-4 6-7zM1081 976l1 4-9 13-3 1 1 4-5 4-23 5-7 6-13-15 0-4 13-12 3 2 4 0 8-2 7 1 1-3 2-4 8-6 4-1zM1129 971l7 5 1 4-8 8-4 0-6-8 2-4 4-4zM701 985l8 9 1 4-9 10-9-10 5-9zM626 993l4-1 1 2 2 12 8-3 11 10-1 4-6 7-4 2-7-6-4-1-7 1-4 0-3-3-1-4 2-7 2-4zM1445 993l1 1-1 1-1-1zM1419 1000l4 1 7 4 3 4 1 8-4 3-11 1-3-2-2-6 2-9zM1282 1017l2-4 9-9 3 0 5 5 3 1 7-6 4 2 4 4 3 1 8-7 11 9 2 4-13 12-8-8-3 1-4 4-4 1-7-7-4 2-4 4-3 0zM1367 1003l5 3 7 7 1 4-9 9-4 2-11-11 1-4zM1535 1005l3 1 8 7 1 4-9 8-3 1-10-9 2-4zM1471 1012l4 1 3 4 0 3-3 8 15 5 7 6 4 8 0 7-3 7-4 6-8 4-7 1-4-1-7-5-5-8-1-4 0-7 3-8 5-7-1-4-5-4 0-4 4-6zM965 1015l18 17 3 3-10 10-11 8-17-18 1-3zM719 1023l7 9 0 3-7 6-9-6 0-3zM1255 1023l4 2 7 7 1 3-8 9-4 2-10-11 1-3zM1010 1028l3 4 1 7 5 11 0 4-4 7-9 6-4 0-7-4-1 2 3 4-6 11-1 4-10 11-4 2-11-12-2-9-4-7 17-18 4 0 7 7 4 0-2-4 0-4 3-7 10-14 4-1zM991 1062l2-1-2-3zM604 1037l4 0 10 13-1 4-9 10-4 0-11-10-1-4zM1218 1038l13 12-1 4-12 14-12-14-1-4zM1088 1047l2 3 1 4-2 7-5 4-4 0-3 2-1 6-7 8-3 2-8 0-7-4-3-3-4-7 0-4 1-4 6-6 15-9 11-3 5 0zM857 1050l4 0 4 3 3 8 0 4-2 4-5 2-5-2-2-4-1-4 0-7zM1613 1084l4 3 0 4-4 8-4 0-5-8-1-4 6-3zM924 1093l14 13-14 15-4-1-10-10-3-4 13-12zM1409 1099l7-6 3 0 4 2 3 4-1 3-6 5-7 0-5-5zM1620 1108l0 63-7 0-4 2-1 4 0 11-14 10-11 12-7 4-4 4-1 4 2 7 3 0 7-7 14 14-1 4-13 13-7-5-4 3-4 0-11-3-11 0-3 0-4-4-4-7-4-1-11 1-11 0-8 3-4 0-3-1-6-6-1-4-1-11-3-5-4-1-4 2-3 11-2 4-6 3-8-1-17-17-1-4 2-3 13-14 3-2 15-5 12-5 7 0 7 3 3 4 3 7 2 3 4 1 14-4 8-6 9-5 2-3 4-12 7-11 1-4-3-7-9-15-4-7-1-8 1-3 4-5 8-1 7 2 11 5 15 3 4-2 1-2 8-8 6-2zM220 1132l12-3 7 0 4 2 6 5 9 12 3 1 8-3 4 0 9 1 6 4-12 25-8 8-8 11-6 4-4 1-4-1-3-4 3-14-1-4-27-34-2-3 0-4zM1488 1140l2-2 4-2 11 0 6 4 0 3-4 4-6 1-10-5zM1620 1186l0 15-3-3-4-6 1-4zM1404 1233l4 0 14 15-14 12-4 1-12-13 2-4zM1501 1289l12 11-2 3-10 11-4-1-9-10-1-3 10-11zM1587 1292l3-1 12 2 7-2 6 5 5 8 0 17-11 11-19-17-3 3-3-3 0-15 0-4zM1557 1296l4-2 3 0 6 2 0 4-6 3-3-1-3-2zM1520 1319l3 2 6 8 1 4-1 4-16 19-1 3-1 19-15 0-4-11 2-12 15-33 3-4 4 0zM1583 1322l-1 7-6 10-4 1-4-2-1-5 1-4 8-5zM1590 1330l4 0 18 18 0 4-11 11 11 11 1 4-37 0 0-4 8-7 0-4-12-11 0-4zM1464 1339l10 9-1 4-9 10-4 1-10-11 0-4 10-9z"/><path fill="#b9e0ed" d="M192 782l55 0 0 11 3 3 8-5 11-3 11 3 9 10 2 7-1 8-4 7-6 6-7 4-8-1-7-4-6-5-4-7-2-5-14 9-11-8-1-4 0-3-11-1-7-4-7-7-3-7zM315 790l6-8 174 0-3 8 0 7 4 8 4 2 26-2 18 1 4 2 11 9 4 2 19 3 14-3 8-3 4 0 13 11-2 4-11 10-4 0-8-5-3-1-6 3 2 4-1 3-10 12-4 8-1 18-4 15-6 8-4 2-7 1-8-2-3-2-7-7-8-12-3-7 0-4 0-15-8 2-8-3-6-6-1-8 3-12-5-14-2-3-4-2-7 1-8 8-3 2-8 0-11-4-9 6-10 1-7-2-11-8-8-4-15 0-14 2-23-5-2-3-3-7-2-3-8-5-15 12-3-3-10-9zM597 782l19 0-3 4-5 2-8-2zM650 793l1-3 6-8 24 0-3 5-1 6-14 11-3 0zM700 782l4 1 6 7 1 3-7 7-3 1-11-8 1-3zM749 786l2-4 15 0 3 4-9 8-3 0zM880 782l62 0 0 15 9 11 0 4-8 9-4 0-11-8-15 1-19-5-3-2-6-6-4-11zM1002 827l2-8 6-8 6-14 5-6 7-4 11 0 7 3 12 2 11 7 4 0 7-9 8 11-1 4-7 6-3-3-4-1-4 9-9 11-17 14-7 3-19 0-7-4-6-6zM1106 792l8 8 3 1-3 4-8 5-7-5-1-4zM1118 801l3-1 8-7 4 5 3 1 2 2 1 4-1 7-2 2-3-1-4 0zM1348 819l4 1 3 3-3 5-4 1-2-2-2-4zM320 831l1-1 2 1 2 3-4 1zM400 845l-2 4-21 23-3 3-7 19-2 4-17 11-3 4 0 3 2 11-1 4-10 15-1 19-3 4-8 7-1 4 4 11 1 7-1 4-3 4-7 3-11 4-7 0-4-2-2-2-2-3 0-12-4-8-7-5-15-4-7-6-4-2-4 0-5 3-2 4-2 7-2 4-7 1-4-1-3-4-6-11-7-7-4-8-2-7 1-11-12-23 0-7 3-5 15-6 7-6 4-5 4-12 7-8 8-5 11-1 11 5 9 9 2 8-1 11-11 15 0 4 5 4 11 1 4 2 2 4 0 3-3 12 1 7 3 5 4 2 4 1 4-1 3-3 5-8 4-11 2-18 5-12 0-3-6-8-6-6-8-5-2-4-1-3 4-8 11-9 3-1 15-1 5-8 14-12 7 9 4 1 4-3 4 2 15-14 3 1zM1404 842l3 3-3 7-2-3-1-4zM1308 861l10 11-10 7-8-7zM1337 861l6 7-6 7 2 8-9 8-4-1-8-7 9-11 0-4zM198 878l8 5-1 3-7 7-4 0-5-7-1-3 6-5zM392 890l4 0 7 4-2 4-6 1-3-1-2-4zM995 893l4 1 7 7-2 4-5 5-4 2-7-7-1-4zM176 894l12 11-12 7-7-7zM1162 901l4 0-4 1zM628 920l4-7 2-2 7-3 8 1 3 4 4 1 4-3 3 2 8 7 0 4-8 8-3 2-4-4-4 1-3 3-8 1-4-1-5-3-4-7zM421 910l10 10 1 4-11 10-3-2-8-7-1-5 9-10zM1218 912l9 8 0 4-9 7-8-7 0-4zM958 919l3 0 2 1 0 4-2 2-3 0-2-2 0-4zM1285 919l2 1 0 4-2 1-2-1 0-4zM1393 921l4-2 7-2 8 0 4 2 6 5 8 12 8 5 5 5 5 7 1 8-1 7-6 9-8 5-11 1-7-2-7-5-8-15-11-8-3-3-3-11 3-12zM539 931l3 4 0 4-4 7-5 3-4 0-3-2-3-5 0-3 2-4 8-5zM1241 934l7 8-7 7-7-7 3-5zM1455 957l5-4 4 0 4 4-4 6-4 0-3-2zM1512 966l4-1 7 1 7 6 1 4-1 7-7 7-3 1-8-1-6-7-1-7 1-4zM1069 974l4-1 3 3 2 4-5 6-4-1-5-5 2-4zM1130 980l-1 1-4-1 4-3zM492 985l4 0 15 13 0 2 7 5 4 4 2 4-1 4-5 5-3 1-7-3-2-3 1-11-4-1-7 7-4 0-12-14 2-4zM1036 984l12 10-1 4-11 10-10-10 0-4zM498 1020l-1 4-5 4-7 2-11-3-8-7-4 2-3-1-11-9-12-2-7 1-11 8-8 2-2 18-3 8-10 9-11 5-11-1-7-4-7-6-2-3-3-8-11 9-12-13 2-3 10-10 4 1 7 6 2-1 4-15 2-3 11-2 11 0 11 2 8 3 4 0 5-11 5-4 27-4 11-7 4 3 7 8-6 11 2 2 4-1 8-6 3-1 12 10-1 4zM701 995l1 3-1 1-2-1zM1284 1017l1-4 8-8 3 1 4 4 4 1 4-1 3-4 8 5 3 0 4-1 4-4 9 7 2 4-7 8-4 2-8-7-3 0-4 4-4 1-3-4-4-1-4 0-4 4-3 1zM1367 1005l4 2 6 6 1 4-7 7-4 2-10-9 2-4zM641 1008l7 5-1 4-2 2-4 2-6-4-2-4zM1535 1007l3 1 6 5 1 4-7 6-3 1-7-7 1-4zM194 1016l2 1 0 3-2 3-2-3zM965 1016l17 16 1 3-18 17-16-17 1-3zM1255 1025l4 2 5 5 1 3-6 7-4 1-7-8 0-3zM168 1045l8-4 15-11 3 1 23 25 2 5 0 12 2 3 7 4 4 3-2 4-6 4-8 0-4-4-3-11-8-11-7-2-26-4zM719 1030l1 2 0 3-1 1-1-1 0-3zM1475 1033l11 0 9 6 4 8 1 7-3 7-7 7-7 3-4-1-8-3-5-6-3-7 2-11 3-4zM321 1043l4 0 2 4-2 2-4 0-2-2zM604 1041l4 0 7 9-1 4-6 7-4 1-8-8-1-4zM999 1041l3-1 8 0 6 7 1 3-1 8-6 6-11 0-7-6 0-8 1-3zM1218 1040l12 10-1 4-11 11-10-11-1-4zM177 1315l0-4 19-19-3-26 1-15 3-7-2-4 0-4 18-16 15 7 33 0 8-1 14-8 4-4 4-4 6-15 5-5 3-2-1-4-8-11 10-12 4-1 3 3 3-1-2-8-4 3-4-2-11-12 11-10 4-1 11 8 4 2 7-8 11-1 11-6 12 3 4-2 8-7 4-7 10-13 7-7 1-3-3-7-1-8 0-3 4-8 7-8 3-2 8-2 11 2 8 6 6 12 1 14 4 2 7 0 15-5 19-4 7-4 11-8 4 0 4 0 11 6 26 5 15 8 22 2 11-2 5 0 5 4 1 4 1 15 14 22 4 4 26 7 7 1 12 5 8 5 3 1 11-10 4 0 17 17 0 4-2 4 7-1 11-4 2-3-1-4-1-3-16-15-1-8 4-7 11-11 4-12 2-2 4-2 7 0 6 4 2 4-2 11 2 4 3 1 4-1 7-7 4 2 10 12-5 8 8 11-2 4 2 7 2 8-1 7-11 11 1 4 4 0 7-7 11 10 7 8 1 8 7 3 11 0 19-2 11 1 15 4 22 3 23 9 22 4 19-4 11 2 15-1 22 5 3-2-3-7 1-4 21-15 15-5 6-6 4-8-2 0-18-18 3-4 15-15 3 1 12 10 7 4 4-3 3-6 4-4 4-1 15-1 3-2 4-5 1-15-2-8-11-15 0-3 5-4 11-5 15-8 7-1 8 0 4 3 11 13 18 11 4 5 4 8 3 11-1 8-2 3-4 2-11 1-2 1-2 4 0 7 2 4 9 6 5 5 2 4-3 11 0 4 3 3 4 1 12-1 7 4 4 4 2 7-3 19 1 7 4 8 3 4 4 1 11 0 11 5 8 1 11-1 18-7 8 3 6 5 5 8 11 11 8 12 16 14 2 3 1 4-6 15 1 15 3 19-2 11 1 11-178 0-2-6-4-2-3 4-1 4-831 0 0-11-3-7-3-4-4-1-7-1-6 2-2 3 0 4 7 15-83 0-10-22 3-12 0-3-2-4-4-4 0-2-4 2-4 0zM318 1166l-1-2 0 2zM1088 1193l-4-1-2 3 2 4 0 4-4 7 0 2 8-3 4-6 1-4-1-3zM1144 1242l0 6 3 5 4-2-4-8zM343 1267l-7-1-4 2-11 15-8 4-14 5-4 4 0 4 1 3 6 5 4 6 4 18 3 7 4 1 15-2 15 1 5-2 13-15 1-30-1-7-3-5-7-6zM976 1303l-5 0-9 4-3 4 2 4 4 3 4 2 3 0 4-5 2-8zM1144 1304l-3 3 2 4-3 4 3 7 4 22 3-15-1-14-1-4 0-4-1-2zM980 1052l16 17-2 4-3 3-2 8-9 9-4 0-9-9-2-8-3-3-1-4 15-17zM1054 1055l12-1 7 7 0 12-7 7-12-1-6-6-1-8 1-4zM273 1068l7 0 2 1 2 4-2 7-2 4-4 1-3-1-4-2-4-6 1-3 3-4zM1334 1067l11 9 3 4 7 19 1 7-2 8-6 9-7 5-7 1-8-2-7-6-7-7-2-8 0-15 2-7 3-4 15-12zM306 1071l4 1 15 15 1 4-16 17-4-1-17-16 0-4zM1274 1078l4 0 9 9-1 4-8 10-4 1-10-11-2-4zM347 1097l4 3 0 6-4 4-4 1-1-1-1-4 2-6zM924 1095l11 11-1 4-10 9-4 0-9-9-1-4 10-10zM1054 1099l9 7-1 4-8 7-3 1-7-8-2-4 9-7zM790 1101l4 1 3 4-3 4-4 1-8-5zM1017 1100l7 6 1 4-8 7-4-1-5-6 1-4 4-5zM1244 1104l4-3 4-1 7 0 8 2 3 2 5 6 1 4-2 7-4 4-3 1-4 0-8-3-3-2-6-7-2-4zM995 1115l4 1 10 9 0 3-10 10-4 1-10-11 0-3zM1088 1116l11 9 3 3-14 13-10-13zM958 1117l3 1 8 10-8 9-3 2-12-11 3-3zM905 1132l13 11-1 4-12 11-3-2-8-9-1-4 9-8zM809 1139l5 4 0 4-5 9-6-9 0-4zM1233 1140l8-2 7 2 4 3 10 11 12 17 8 6 16 15 5 7 1 8-1 22-3 3-26-4-11-5-19-12-17-8-5-4-3-4-3-22 1-11 2-8 10-11zM865 1148l3 1 17 17-17 17-3 0-18-17zM976 1154l4 0 10 8-1 4-9 7-4 1-8-8-1-4zM1516 1201l7 0 12 3 6 3 2 3-10 19-10 6-7 1-9-3-5-4-3-7 0-4 3-8 7-7zM1583 1225l12 11-1 4-11 10-12-10 0-4zM1404 1235l4 0 9 9 1 4-10 9-4 1-10-10 1-4zM1452 1281l-1 11-3 8-4 7-6 6-8 3-7 1-11-1-6 2-1 4 3 15-1 7-2 4-4 3-4 0-6-3-3-4-1-3 0-8 7-15 5-26 3-7 4-8 10-6 11-1 11 2zM1501 1291l9 9-1 3-8 8-4-1-6-7-1-3 7-8zM1609 1293l11 12 0 14-11 12-17-16-2-4 11-11zM1590 1331l4 1 16 16-1 4-8 7 0 4 10 11 1 4-35 0 0-4 8-7 1-4-12-11-1-4zM1464 1341l7 7 0 4-7 7-4 1-7-8 0-4 7-7zM1390 1378l1-8 6-6 7-3 4 0 8 3 5 6 1 4 0 4z"/><path fill="#d4edf4" d="M197 782l36 0 0 4-2 7 1 4 8 11-2 4-6 4-6-4-1-4 6-11-3 0-4 3-7 1-8-1-3-1-6-6-3-7zM325 782l6 0 7 8 0 3-10 9-10-9 1-3zM351 793l0-3 4-4-1-4 23 0 1 4 2 4 0 3-14 13-4-2zM385 793l1-3 8-8 22 0-2 3-4 1 4 4 0 3-11 11-4 2zM438 782l11 0 4 11-1 4-2 4-6 4-4 1-4-2-3-7 1-4zM660 782l6 0 7 8 0 3-10 9-3-1-7-8 0-3zM701 784l3 1 4 5 0 3-4 5-3 0-7-5 0-3zM751 786l2-4 12 0 2 4-7 7-3-1zM881 782l60 0 0 15 9 11 0 4-7 7-4 1-11-9-15 2-19-5-5-3-5-8-2-7zM1068 801l3 4-3 11-14 14-15 11-7 3-15-1-7-4-7-8 0-8 10-17 4-9 4-4 7-5 8-1 18 5 8 3zM265 791l8 0 7 3 7 7 2 7 0 4-2 7-7 7-7 4-8-1-7-4-7-9-1-8 2-7 6-6zM1080 798l3 3-1 4-2 1-1-1-1-4zM1106 797l4 4-1 4-3 1-2-1-1-4zM1129 798l8 7-2 3-6 2-3-5 0-4zM604 818l4 0 8 9 0 4-8 7-4 0-9-7-1-4zM537 821l4 0 3 2 8 12 3 0 12-10 3 0 16 17 0 3-13 15-4 34-6 9-8 4-7 0-9-6-5-7-6-15 0-15-2-5-4-2-4 2-7 1-4-3-6-8 0-4 1-3 5-7 8-3 7 3 4 3 4-4 1-7 1-4zM398 845l-1 4-35 36-15-14-4 1 7 11 1 3-4 4-17-4-3-3 0-4 4-7 5-4 4 0 3 3 1-3-3-4 3-4-11-11 2-4 12-10 7 8 4 1 4-3 4 2 3-2 12-12 3 2zM254 863l7 2 8 7 4 7 1 7-2 8-7 8-7 5-8 4-7 1-8-6-3-5-3-7 0-11 1-4 4-7 5-5 7-4zM1308 867l4 5-4 3-3-3zM1332 868l5-4 3 4-3 3zM1330 872l6 11-6 6-4-2-5-4 7-8zM995 894l4 2 5 5-2 4-3 4-4 1-5-5-2-4zM176 903l2 2-2 1-1-1zM213 915l7-3 4 1 4 2 2 5 0 4-3 3-3 2-4 0-3-1-4-4-1-4zM629 920l1-4 7-7 8 0 4 1 3 4 4 1 4-2 3 1 6 6 1 4-7 6-3 2-4-3-4 1-3 3-8 1-4 0-6-7zM1218 915l7 5 0 4-7 5-5-5 0-4zM421 917l4 3 0 4-4 3-3-1-2-2 0-4 2-2zM1393 922l8-4 3 0 8 0 8 6 10 14 8 5 6 7 4 7-1 8-3 7-6 6-8 4-3 0-8-1-3-2-8-7-6-11-9-6-4-4-3-5-1-7 1-8zM328 922l4 5 1 4-8 20-4 4-1 2 3 4-13 10-4 0-10-10 10-10 4-1 7 4 2-1-1-3 3-21 4-7zM1241 938l3 4-3 3-4-3zM1512 967l4-2 7 1 6 6 1 4 0 7-7 7-7 0-4-1-6-6 0-7 1-4zM492 987l4 0 8 7 3 4-11 10-4 0-9-10 2-4zM1036 987l9 7-1 4-8 8-8-8 0-4zM455 995l3 3-3 3-4-3zM474 1009l3-1 6 5 0 4-6 6-3-1-5-5-1-4zM1286 1017l1-4 6-6 3 1 4 4 4 0 4-1 3-3 8 4 3 0 4-1 4-3 7 5 2 4-9 8-4-5-4-1-3 0-8 4-3-3-4-1-4 0-4 3-3 1zM1367 1007l5 2 3 4 2 4-6 6-4 1-8-7 2-4zM1535 1009l3 1 4 3 1 4-5 4-3 1-5-5 1-4zM335 1032l8-8 4 1 7 6 4 0 1-7 7-10 7-3 11-1 8 1 8 6 5 7 1 11-1 8-6 7-7 6-11 2-8-1-7-5-5-5-3-8-4-2-7 7-4 1-9-10zM641 1012l2 1-2 3-1-3zM965 1017l16 15 1 3-17 16-15-16 1-3zM1255 1027l4 2 3 3 1 3-4 4-4 2-5-6 1-3zM1479 1033l4 0 7 3 7 7 2 7 0 4-3 7-6 6-7 2-8-1-4-2-4-5-3-7 1-7 3-6 3-5zM1002 1040l4 0 4 2 5 5 1 3 0 8-6 6-4 1-7-1-6-6-1-4 0-4 3-3zM1218 1041l10 9 0 4-10 10-9-10-1-4zM604 1043l4 1 5 6-1 4-4 5-4 0-6-5-1-4zM980 1054l14 15-1 4-3 3-3 8-7 7-4 1-8-8-2-8-3-3-1-4 14-15zM410 1056l8-2 7 1 8 3 5 7 3 8 0 7-2 7-3 3-7 6-8 2-7 0-7-5-7-9-1-8 1-7 4-8zM1058 1055l8 1 6 5 1 4-1 8-6 6-8 1-4-2-5-5-1-4 0-4 1-4 5-5zM1334 1069l7 5 5 6 8 19 1 7-4 11-3 4-7 5-7 2-8-2-10-9-4-7 0-11 0-12 2-3 8-9 8-5zM306 1073l4 0 13 14 1 4-14 15-4 0-15-15 1-4zM1274 1080l4 1 6 6 0 4-6 7-4 1-7-8-2-4zM178 1315l2-4 14-16 4 2 1-1-1-11 1-8 7-26-10-11 1-4 16-14 4 1 17 13 1 4 8-1 26-9 18-12 4-4 5-11 6-10 8-4 11 1 2-2 5-9 2-6 2-15 4-3 4 0 14 5 4 0 3-2 3-15 4-7 5-5 8-5 13-5 7-7 6-4 7 0 5 4 3 3 1 8-1 7-12 4-1 22 1 4 3 0 8-2 9-6 10-9 1-5 1-19 2-11 4-5 14-11 12-5 18-1 15-4 34 5 4 2 10 10 4 1 15-4 8 1 22 15 10 11 6 11 4 4 28 11 8-6 18 16 4-2 15-12 4 0 15 15-1 4-3 3-1 4 6 8 1 3 1 16 4 3 4 1 3-2 5-10 7-7 9-4-2-1-6-7-1-7 0-8 3-5 4-4 8-2 9-7 1-4-8-8 12-11 4 2 7 9-4 8 0 4 7 7-2 4 5 15-2 7-15 15 5 4 3 0 11-9 17 16 0 4-6 8 19 1 30 0 29 5 12 3 21 9 16 2 18 4 15 7 15 3 4 3 3 7-1 26-3 8-7 6-7 3-11 4-14-2-5 0-6 3-1 4 1 4 3 4 5 3 17 8 11 12 4 2 3 0 8-1 10-6 10-7 1-4-2-7-1-12-3-11 0-3 4-5 7-7 5-7 2-1 8 1 7 0 12-4-2-4-9-11-3-7 0-8 1-7 3-7 6-5 7-4 8-2 7 1 8 4 14 14 4-1 19-12 3-1 4 1 8 8 1 4-2 15 2 7 6 8 11 8 2 3 2 7-2 8-8 11 10 15-1 4-9 11 1 7-4 15 1 4 5 15-1 11-785 0-4-2-11-2-4-7 0-11 4-5 8-1 7 2 7 3 4 0 6-11 14-11 3-5 0-6-5-15 0-7 1-11-1-4-5-8-13-12-15-8-7-4-8-1-8 3-4 4-6 12-19 11-9 10-1 4 1 7 13 15 2 4 1 7-1 4-2 4-19 12-3 2-8-2-11 1-4 0-7-4-15-17-6-14-2-2-3-1-1 3-18 16-4 1zM761 1181l3 1 0-1zM765 1184l3 1 1-1-1 0zM1027 1322l-2-1-8 7-4-3-3 1 2 3 9 3 4-1zM924 1097l10 9-2 4-8 8-4-1-7-7-2-4 9-9zM1051 1102l3 0 6 4-2 4-4 4-3 0-4-4-1-4zM995 1116l4 1 8 8 1 3-9 9-4 1-9-10 1-3zM958 1120l3 1 6 7-6 7-3 1-9-8zM1088 1119l7 6 3 3-10 9-7-9zM310 1135l10 8-10 10-4-1-8-9 8-7zM905 1134l10 9 0 4-10 9-3-2-6-7-1-4 7-6zM1229 1146l8-5 7 0 4 1 6 5 20 29 21 16 3 3 2 4 0 8-2 7-5 6-8 3-7 0-15-3-26-18-8-7-8-14-3-12 2-11zM865 1149l3 1 13 12 2 4-15 16-3 0-17-16 3-4zM1051 1148l3 1 18 17-18 17-3 0-17-17 3-4zM976 1156l4 1 6 5 0 4-6 5-4 0-5-5-1-4zM310 1163l12 10-12 11-4-1-8-10 8-9zM1147 1189l4-1 8 0 3 1 2 3 1 7-3 7-3 6-4 1-8-1-8-5-3-4 1-4 2-4zM1069 1190l4-1 7 10 0 4-7 9-4-1-9-8 0-4zM1520 1202l7 2 7 6 1 8-1 7-7 7-7 3-4 0-7-3-7-7 0-11 1-4 6-5 3-2zM1159 1218l3-3 8 0 7 3 19 10 4 3 3 5 4 13 4 6 3 3 4 0 11 9 4 0 15-4 22-4 11 1 4 3 6 7 9 7 6 8 7 11 7 19 4 14 2 19-1 8-3 11 1 11-155 0-3-19-4-33-8-11-2-4 8-11 6-19 3-26-1-4-5-7-4-8-1-11zM1583 1227l10 9-1 4-9 8-9-8-1-4zM1404 1236l4 1 7 7 2 4-9 8-4 0-8-8 1-4zM1412 1275l7-3 11 0 8 3 6 6 3 8 0 7-3 7-6 7-8 4-11 0-7-2-7-5-3-7 0-11 4-8zM1501 1293l7 7-2 3-5 6-4-1-4-5-1-3 5-6zM1609 1294l11 12 0 12-11 11-16-14-2-4zM1590 1333l4 1 14 14 0 4-8 7 0 4 10 11 1 4-33 0 0-4 8-7 1-4-11-11-1-4zM1460 1343l4 0 5 5-1 4-4 4-4 1-5-5 0-4zM1393 1378l1-8 7-6 3-1 8 0 4 3 5 8 0 4zM231 1370l4-2 4 1 4 3 1 6-14 0z"/><path fill="#e7f6eb" d="M198 782l33 0-1 8-6 7-4 2-7 1-4-1-7-6-3-3zM328 783l7 7 0 3-7 6-7-6 1-3zM360 782l9 0 7 8 1 3-11 11-4-1-9-10 0-3zM404 782l8 8 0 3-9 9-4 1-10-10 0-3 8-8zM663 783l7 7 0 3-7 6-3 0-5-6 1-3 4-5zM752 786l2-4 9 0 2 4-5 5-3 0zM882 782l58 0 0 15 9 11 0 4-6 6-4 1-11-9-15 2-19-5-3-2-6-8-3-7zM701 787l3 1 1 2 1 3-2 2-3 1-4-3 1-3zM1063 797l6 8-1 7-2 4-12 14-15 11-11 2-11-1-4-1-3-3-6-7 0-8 9-15 5-11 7-6 7-3 4 0 18 5zM269 792l4 0 7 3 6 6 2 7-1 8-1 3-4 4-6 4-7 2-8-3-7-7-1-3-1-8 2-7 7-7zM232 805l2 3-2 4-2-4zM604 821l4 0 6 6-1 4-5 4-4 0-6-4-1-4zM381 830l3 2 13 13-1 4-15 17-15 14-4 3-15-15-3-4 1-4-10-11 2-4 10-8 7 8 4 0 4-2 4 1 4-2zM507 837l4-2 7 0 8 5 3-3 4-1 8 6 13-4 13-11 3 0 15 15 0 3-11 12-3 7-2 26-3 8-7 6-7 2-8-2-6-6-7-15-1-19-4-7-4-1-7 3-4 0-7-6-2-8zM246 865l8-1 7 2 7 6 2 3 2 8 0 7-4 8-7 5-11 4-4-1-7-3-4-4-3-5-1-8 2-11 6-7zM1330 878l4 5-4 4-7-4zM995 896l4 1 4 4-4 6-4 2-4-4-1-4zM630 920l1-4 6-6 8-1 11 7 4-2 3 2 5 4 0 4-5 5-3 1-4-2-7 5-8 1-4-1-6-6zM1218 917l4 3 0 4-4 3-3-3 0-4zM1393 923l4-2 7-3 4 0 8 3 6 6 5 9 2 3 11 7 5 7 2 8-2 7-7 9-4 2-7 2-4 0-7-3-7-6-5-11-11-7-3-4-4-8 0-7 1-4zM301 961l5-6 4-1 7 7-7 6-4 0zM1516 966l4 0 3 1 6 5 1 4-1 7-6 6-3 1-8-1-5-6-1-3 0-4 2-4 4-4zM492 989l4 0 6 5 2 4-8 8-4 0-7-8 2-4zM1036 989l7 5-1 4-6 5-5-5-1-4zM1287 1017l2-4 4-4 3 1 4 3 8 0 3-4 8 5 7-1 4-4 6 4 2 4-8 6-4-4-4-1-3 0-8 4-3-4-8 0-4 3-3 1zM1367 1008l4 2 3 3 1 4-4 4-4 2-6-6 1-4zM377 1011l11 0 7 4 6 5 4 8-1 11-3 8-6 5-7 4-11 1-8-4-6-6-4-8 1-11 3-8 6-6zM1535 1011l5 2 1 4-3 2-3 1-3-3zM965 1018l15 14 1 3-16 15-14-15 1-3zM343 1026l4 2 5 4 1 3-6 6-4 2-6-8 1-3zM1255 1030l5 2 0 3-5 4-3-4 1-3zM1479 1035l4-1 7 3 6 6 2 7-1 8-2 3-5 5-4 2-7 0-4 0-7-7-3-7 0-7 3-5 3-4zM1002 1041l4 0 4 2 6 7-1 8-5 5-4 1-4 0-3-1-5-5-1-4 0-4 2-3zM1218 1042l9 8 0 4-9 9-8-9-1-4zM604 1046l4 0 3 4-1 4-2 2-4 1-3-3-1-4zM414 1056l7-1 8 2 5 4 5 8 1 7-1 8-3 3-7 7-8 2-11-2-6-7-3-3-1-8 1-7 6-9zM980 1055l13 14-7 15-6 6-4 0-6-6-7-15 13-14zM1058 1055l4 0 4 2 4 4 2 4-1 8-5 5-4 1-4 0-4-2-4-4-2-4 0-4 3-4zM1334 1071l7 4 4 5 9 22 0 4-3 8-5 7-9 5-3 1-8-3-8-7-5-7-1-11 1-8 2-7 11-10 4-2zM306 1074l4 1 12 12 1 4-13 14-4 0-14-14 1-4zM1274 1083l4 0 4 4-1 4-3 4-4 1-4-5-2-4zM179 1315l2-4 13-14 4 1 4 3 1-1-4-11 1-8 3-11 9-11-14-19 1-4 14-13 4 1 14 12 1 4-5 8 1 2 7-1 19-10 15-6 11-9 7-4 4-4 4-6 4-11 7-7 4-1 7 3 11 14 3-1 0-12 1-14 4-9 4-4 3-2 19-3 1-1 5-22 9-10 7-4 8 2 7 3 4 3 3 6 2 7 0 4-6 11 0 4 1 1 6 2 24 1 15 4 7-2 3-3 1-3-1-4-8-8-4-7-2-15 1-11 8-15 6-7 3-3 8-3 7-1 8 1 19 9 14 5 8 4 6 6 4 8 1 5 4 3 3 0 11-6 4 0 15 3 5-2 10-7 7 0 8 4 11 16 4 2 18 7 9 4 3 1 11-9 17 16 1 7 3-3-1-4 17-14 4 0 14 14-1 4-5 7 6 11-1 19 1 4 15 11 6-23 6-6 7-4 11 0 4 1 7 4 4 4 4 0 11-10 15 15 1 4-6 7 1 3 14 1 27 0 15 1 11 3 15 1 22 10 30 5 11 3 19 12 7 6 6 7 2 8 0 7-2 8-2 4-7 6-15 4-19-2-14 3-8 3-15 3-19 0-3 3-2 9 0 4 5 4 23 0 18 3 12 0 11 4 7 7 10 12 15 18 2 8-343 0-4-6-15-11-4-1-19 3-2 4 5 7 1 4-218 0-1-10-2-9 0-7 18-30 2-7-2-12 1-3 8-8 1-2 0-5-4-11-4-4-3-2-11 0-4-1-11-11-20-12-10-13-4-2-4 3-6 8-12 10-19 18-11 9-15 8 0 4 5 11 3 7 11 11 3 4 1 4-1 3-4 4-14 4-11 10-8 0-4-1-3-3-7-10-3-7-2-19-3-3-11 5-4 0-1 2 1 4-15 14-4 1zM924 1098l8 8-1 4-7 6-4 0-6-6-1-4 7-7zM1049 1106l2-1 3 0 2 1-2 4-3 0zM771 1120l4 2 5 6-4 8 1 4 6 7-1 4 1 3 2 4 1 8-1 7-10 9-4 2-4-3-7-4-11-2-5-6-1-3 1-8 5-5 8-2 11-11 1-4-1-3-5-5zM995 1118l4 1 6 6 1 3-7 7-4 1-7-8 0-3zM958 1123l3 1 3 4-3 4-3 1-6-5zM1088 1123l4 2 2 3-6 5-4-5zM306 1138l4 0 7 5-7 7-4-1-5-6zM905 1136l8 7 0 4-8 7-7-7-1-4zM1233 1145l8-3 7 2 10 10 15 23 20 14 6 8 0 8-1 3-5 7-8 4-18-1-8-3-27-22-6-7-5-11-2-11 1-4 3-8zM865 1150l3 1 12 11 2 4-14 14-3 1-15-15 2-4zM1051 1149l3 1 13 12 3 4-16 15-3 1-15-16 2-4zM976 1159l4 0 3 3 0 4-3 2-4 1-3-3 0-4zM310 1166l8 7-8 8-4-1-5-7 5-6zM1069 1194l4 0 4 5 0 4-4 4-4 0-5-4 0-4zM1512 1204l11 0 5 3 4 3 2 4 0 8-2 3-5 6-7 3-4 0-7-3-5-6-2-3 1-8 5-7zM1043 1216l8-2 7 1 8 4 9 10 3 7 1 15 1 3 8-1 7-5 4 0 8 7 4 7 0 4-1 11 5 19-1 7 4 1 7-5 4 1 9 11-1 4-8 9-4 1-11-11-1 1 1 7 6 7-2 4-2 23 7 14 1 8-71 0-2-6-4-6-4-2-4 0-3 4-5 10-25 0-1-4-10-5-4-4-3-6-1-7 1-4 4-4 18-10 7 1 8 4 6 9 1 6 4 1 3-1 4-3 1-3 0-7-6-12-2-18 6-11-4-15 1-4 4-2 11 3 8 0 7-5 3-3 2-8-1-4-4-1-15 3-11-2-7-6-6-8-2-8 2-11 5-7zM1114 1307l0-3-1 3zM1583 1229l8 7-1 4-7 7-7-7-1-4zM1404 1238l4 1 6 5 1 4-7 6-4 1-7-7 2-4zM1177 1270l4-3 15-6 4 0 7 3 11-4 15 14 22-7 12-2 7 0 7 5 20 19 4 7 9 22 3 15 1 15-2 8-5 11 0 11-136 0 2-15-7-37-8-2-8-9-1-4 9-12 5-3 7-21zM1419 1273l8-1 7 3 4 2 6 8 1 7-1 8-6 8-8 4-11 1-7-3-7-7-1-3-1-8 2-7 7-9zM1501 1296l4 4-1 3-3 3-4-1-3-5 3-3zM1609 1295l11 12 0 10-11 11-15-13-2-4zM1017 1299l10 12-2 4-8 7-9-7-2-4zM1590 1334l4 1 13 13 0 4-8 7 0 4 10 11 1 4-31 0 1-4 7-7 1-4-11-11-1-4zM1460 1346l4 0 2 2 0 4-2 2-4 0-2-2 0-4zM1394 1374l1-4 6-5 7-2 4 1 7 6 1 8-26 0z"/><path fill="#f7fcce" d="M199 782l31 0 0 4-3 7-3 3-7 3-4 0-7-3-6-6zM354 790l7-8 6 0 7 8 1 3-9 9-4-1-8-8zM390 793l1-3 7-8 5 1 7 7 0 3-7 7-4 2zM663 786l5 4 0 3-5 4-3-1-3-3 1-3 2-3zM754 786l2-4 5 0 2 4-3 3-3 0zM882 782l58 0-1 15 2 4 7 7 0 4-5 5-4 1-11-9-15 3-19-5-6-6-4-8zM325 790l3-3 3 3 1 3-4 3-4-3zM1065 801l3 4 0 7-11 15-18 13-11 2-11-1-7-4-5-6-1-4 1-4 8-13 6-13 6-6 7-2 11 2 15 4zM269 793l7 1 4 2 5 5 2 7 0 8-6 7-5 3-7 2-8-3-6-6-2-7 0-4 2-7 6-6zM600 827l4-3 4 0 3 3-1 4-2 2-4 0-3-2zM570 828l14 14 0 3-10 10-4 8-1 20-4 15-6 5-4 2-7 0-4-2-3-3-6-10-4-11 0-15-4-7-1-2-4 0-7 4-8-3-3-3-1-4 1-7 7-7 4 0 3 1 8 6 3-3 4 0 4 3 4 1 7-1 8-4 11-10zM381 831l3 2 12 12-1 4-14 16-19 16-17-17 2-4-11-11 2-4 9-7 7 8 4 0 4-2 4 0 3-1zM246 865l8 0 7 3 6 4 4 7 0 11-6 9-7 5-8 1-7-2-7-5-4-8 0-7 2-8 5-6zM1331 883l-1 1-4-1 4-2zM995 898l4 1 2 2-2 5-4 1-4-6zM630 920l1-4 6-6 8 0 11 8 4-2 3 1 3 3 0 4-3 3-3 1-4-2-7 6-4 2-4 0-4-1-6-6zM1218 919l1 1 1 4-2 1-1-1 0-4zM1397 921l7-2 4 0 8 3 6 5 6 12 10 5 5 6 2 7 0 8-1 3-6 8-4 2-7 2-8-1-3-2-6-5-6-12-7-4-7-6-3-8 0-7 3-8zM305 961l1-1 4-1 2 2-2 2-4-1zM1516 966l4 0 3 2 5 4 2 4 0 4-2 3-5 6-3 1-4 0-4-2-4-5-2-3 0-4 2-4zM492 991l4 0 6 7-6 6-4-1-5-5zM1036 991l4 3-1 4-3 3-3-3-1-4zM381 1012l11 2 4 3 6 7 2 8-1 7-3 8-8 6-8 3-7-1-8-3-5-5-4-12 1-7 5-9 7-6zM1289 1017l1-4 3-2 3 1 4 4 8 0 3-5 8 5 7-1 4-4 4 2 2 4-6 4-4-3-7-1-8 3-3-3-8 0-7 3zM1367 1010l4 1 3 6-3 3-4 1-5-4 2-4zM1534 1017l1-3 3 2 1 1-4 1zM965 1019l14 13 1 3-15 14-13-14 1-3zM343 1029l6 3 1 3-3 4-4 1-4-5 1-3zM1255 1033l2 2-2 1 0-1zM1475 1036l8-1 7 3 5 5 2 4-1 11-2 4-8 5-7 1-4-1-7-6-2-3-1-4 1-7 5-8zM1002 1042l4 0 4 1 5 7 1 4-2 4-4 5-4 1-4 0-3-2-6-8 3-7 3-3zM1218 1043l8 7 0 4-8 7-7-7-1-4zM603 1050l1-1 4 0 0 1 0 4-4 0zM418 1056l7 0 8 5 5 8 1 4 0 7-4 7-6 6-4 1-7 0-8-2-5-5-4-7 0-7 2-8 7-7zM980 1056l12 13-8 15-4 4-4 1-5-5-7-15 12-13zM1058 1056l4 0 4 2 6 7 0 4-2 4-4 4-4 2-4 0-4-3-5-7 0-4 2-4zM1334 1072l7 4 3 4 8 19 1 7-3 8-5 7-4 3-7 2-8-2-10-10-3-8 0-15 3-7 6-6 8-5zM306 1076l4 0 11 11 1 4-12 13-4-1-12-12 0-4zM1271 1087l3-2 4 1 1 1-1 5-4 1zM334 1181l1-4 5-6 11-5 12 0 3-3 1-16 2-7 2-4 6-5 7-3 8 1 7 5 6 6 1 3 0 8-7 13-1 5 1 1 22 2 23 7 15-3 3-3 2-7-1-4-8-5-5-6-5-19 0-7 3-8 11-16 7-5 11-3 4 0 7 4 12 10 18 3 8 4 6 7 5 24 4 4 3-1 8-7 7-3 19 2 11 0 4 1 8 6 25 4 19 8 15-12 16 15 0 4-6 7 1 2 7-4 6-2-2-7 15-13 4 0 13 13-1 4-5 7 5 11 1 4-3 22 10 12 5 11 4 5 8 5 4 0 4-3 0-4-11-14 0-4 1-19 5-7 4-3 8-3 7 0 8 3 7 7 4-1 11-10 14 14 1 4-6 7-2 4 53 1 7 1 8 2 14 1 12 4 9 6 9 3 23 2 14 5 23 16 9 11 1 11-1 4-4 8-9 6-11 3-19-2-30 3-11 0-18-5-15 0-4-2-8-7-3-2-4 0-4 8-2 9 1 3 5 4 4 1 7-1 4 4 1 15 3 3 5 4 10 5 7 1 4-1 11 0 11 4 8 0 15-4 3 1 11 4 10 9 11 15 4 7 0 4-328 0-6-23-11-17-3-3-4-1-15 7-11 2-8 5-6 8 1 3 5 8 0 3-7 8-196 0-1-19 5-15 15-22 7-15 13-18 1-12-1-11-3-6-4-4-7-5-26-10-19 1-5-2-5-4-15-29-2-8zM477 1233l-1 3 5 5 4-1 1-4 0-3-5-1zM924 1100l7 6-2 4-5 5-4-1-4-4-2-4 6-6zM995 1120l4 1 4 4 1 3-5 5-4 1-6-6 1-3zM771 1122l4 2 3 4-4 4 0 4 1 4 7 7-1 4 4 11 0 4-1 7-13 9-9-5-9-2-7-6-2-3 2-8 3-3 4-3 9-1 0-4 8-7 0-8-4-4zM955 1128l3-2 4 2-4 2zM1088 1127l2 1-2 2-1-2zM905 1138l6 5 0 4-6 5-5-5-1-4zM304 1143l2-2 4-1 4 3-4 4-4-1zM1229 1149l8-5 4-1 7 2 3 2 21 30 9 7 8 5 7 6 2 8 0 4-5 8-8 5-4 0-14-1-8-4-25-20-11-14-3-12 1-7 1-4zM1051 1150l3 1 12 11 3 4-15 14-3 0-14-14 2-4zM865 1151l3 1 11 10 2 4-13 13-3 1-14-14 2-4zM976 1161l4 1 0 3-1 1-3 0-1-4zM303 1173l3-4 4 0 5 4-5 5-4-1zM317 1195l3 4 7 15 0 8-4 7-22 26-14 12-7 5-7 3-23 4-2 2 6 2 4 2 9 11 7 26-2 4-9 15-5 4-4 1-4 0-7-5-3-4-4-8-2-33-2 0-12 10-12 1 3 4 1 4-14 13-4 1-13-14 1-4 12-13 4 1 4 3 2-2-4-11 0-4 3-11 4-8 10-5 15-2 6-8 12-9 16-6 6-3 8-8 7-4 4-3 4-6 5-13 6-5 4-2 3 1zM204 1303l2 1 0-1zM1069 1198l5 1-1 5-5-1 0-4zM1512 1205l4-1 7 0 8 6 2 4 0 8-5 7-5 3-11 0-5-3-4-7 1-8 2-4zM1047 1216l7 0 8 2 8 7 5 8 1 7-1 8-4 7-9 6-11 1-8-2-4-2-6-7-3-7 0-11 4-8 5-5zM213 1224l4 1 12 11 2 4-14 16-4 1-14-17 1-4zM1583 1231l6 5-1 4-5 5-5-5-1-4zM1404 1240l4 0 4 4 1 4-5 4-4 1-5-5 1-4zM1154 1311l8-10 4-1 4 2 3-2 4-15 4-6 4-4 7-3 11-1 15-9 12 12-2 3 1 4 8-2 26-9 7 0 4 1 4 3 19 18 4 8 8 22 2 11 0 11-7 19 1 4-1 3 0 8-121 0 2-11 0-8-4-11-7-30-8 5-4-1-6-7zM1427 1273l7 3 6 5 4 8 0 7-3 7-7 7-11 2-7-2-8-5-3-5-1-8 2-7 6-7 7-4zM1047 1301l11 5 15-12 7-2 4 1 5 3 6 13 4 0 18 20-1 4-8 11-1 12 1 11 5 11-45 0-6-9-2-6 0-15-2-9-7-10 0-3-4 0-7-11 0-4zM1501 1298l2 2-2 4-4-2 0-2zM1609 1296l11 12 0 8-11 11-14-12-2-4zM1125 1301l4 0 8 10-1 4-7 8-4 0-9-8-2-4zM1017 1305l5 6-2 4-3 2-4-2-2-4zM1013 1335l8 3 6 6 1 8 0 4-3 4-4 3-8 2-7-2-7-7-1-4 1-8 7-6zM1590 1335l4 1 12 12 0 4-8 7 0 4 10 11 1 4-29 0 1-4 7-7 0-4-1-3-9-8-1-4zM1394 1374l2-4 5-4 3-2 4 0 4 1 6 5 1 8-25 0z"/><path fill="#fff7b3" d="M200 782l30 0-1 4-5 9-7 3-4 0-7-3-2-2-4-7zM366 782l7 8 1 3-8 8-4-1-6-7 0-3 6-7zM399 783l4 1 5 6 0 3-5 6-4 1-7-7 1-3zM756 786l1-2 3 0 2 2-2 1-3 0zM883 782l56 0 0 18 7 8 0 4-3 4-4 1-7-7-4-2-8 3-7 0-19-5-5-5-4-8zM665 790l0 3-2 2-3-2 1-3 2-1zM1032 790l7 0 19 5 7 6 2 4 0 7-11 15-17 13-7 2-15-1-4-2-5-5-3-7 0-4 8-12 6-14 6-5zM265 794l11 0 4 3 6 8 1 7-1 4-6 7-4 3-11 0-7-5-4-5 0-8 2-7 5-5zM603 827l5 0-4 1zM570 829l12 13 0 3-8 9-4 6-1 23-5 15-5 5-4 1-7 0-4-1-5-5-4-8-3-11-1-15-3-7-2-3-11 4-8-3-2-2-1-4 0-7 7-6 4-1 3 2 8 6 3-2 4-1 4 3 4 1 10-2 4-3 12-10zM381 832l3 3 11 10-1 4-13 16-19 15-16-16 1-1 4-3 1-3-1-1-4 3-10-10 3-4 7-5 7 7 4 0 4-2 4 0 3-1zM250 865l8 1 7 5 3 4 3 8-1 7-5 8-7 5-8 1-4 0-7-5-4-5-2-8 0-7 5-7 8-6zM995 899l4 2-4 4-2-4zM631 920l1-4 5-5 8-1 11 9 4-2 3 2 2 5-5 3-4-2-11 8-4 1-4-2-5-5zM1393 925l8-4 11 0 4 1 5 5 6 12 11 7 6 7 1 8-2 7-5 7-8 4-11-1-8-6-7-13-7-4-6-5-4-8 0-3 2-8zM1516 967l4 0 3 1 6 8 0 4-1 3-5 5-3 2-4 0-4-2-4-5-2-3 1-4 2-4zM492 994l4-1 3 5-3 3-4 0-3-3zM1036 994l1 0-1 4-1-4zM377 1013l7 0 8 2 7 5 3 8 1 7-2 8-2 4-7 6-8 2-7-1-8-3-6-8-2-8 2-11 3-4 7-6zM1291 1017l2-5 3 2 2 3-5 1zM1330 1013l4 4-4 2-3-2zM1367 1011l4 2 1 4-5 3-3-3zM1309 1017l2-4 4 4-4 1zM965 1020l13 12 1 3-14 13-12-13 1-3zM343 1031l3 1 2 3-5 3-2-3zM1475 1037l4-1 7 0 8 6 2 5 1 7-1 4-6 7-4 2-7 1-4-2-6-5-3-7 0-7 2-4zM999 1044l7-1 4 1 3 3 2 3 0 4-1 4-4 4-4 2-4 0-7-6-1-4 0-4zM1218 1044l7 6-1 4-6 6-6-6 0-4zM418 1056l3 0 8 3 7 6 3 8-1 7-4 7-9 6-4 1-7-1-7-5-3-4-3-8 0-3 3-8 6-6zM980 1057l11 12-8 15-3 3-4 1-6-8-5-11 11-12zM1058 1057l4-1 4 2 5 7 0 4-2 4-7 5-4 0-4-2-3-3-1-4 0-4 1-4 3-3zM1334 1073l7 4 2 3 8 19 1 7-2 8-5 6-4 3-7 2-8-2-10-9-2-8 0-15 3-7 5-5 8-5zM306 1077l4 0 10 10 1 4-11 11-4 0-11-11 0-4zM337 1177l6-7 8-2 15-2 1-19 3-7 7-8 4-2 3-1 8 2 7 4 4 4 3 4 0 8-11 18 4 4 26 1 14 7 5 0 8 0 10-4 4-7 0-6-4-5-7-5-6-7-3-15 0-7 3-8 10-15 7-5 11-3 8 2 15 14 18 1 10 6 4 8 1 15 3 14 8 10 4-1 7 0 3-5 1-7 4-4 7 0 12 4 18 4 23 0 7 1 11 6 19-13 15 13-1 4-10 15 3 2 4-2 2-4 5-4 8-4-2-7 13-12 4 0 11 12-5 11 1 4 3 4 1 7-1 11-5 15 10 11 11 18 11 13 4 1 12-6 1-3-2-9-11-10-5-7-2-8 1-11 3-8 6-5 12-4 11 4 7 6 4 0 11-9 13 12 1 4-7 7-1 4 1 1 53 0 15 4 14 1 8 3 18 10 23 1 15 4 7 4 15 11 9 9 4 8 0 4-1 7-1 4-4 4-7 5-11 3-19-2-37 2-19-6-33-14-4 0-4 4 0 4-5 7-6 7-7 4-1 4 2 4 17 11 12 6 26 17 3 0 8-4 11 8 4 1 8-2 14-6 4-1 7 0 11 5 8 6 13 18 2 8-321 0-4-30-6-11-6-15-2-3-4-2-3 0-15 9-19 4-7 6-11 12 6 11 7 8-1 3-7 8-20 0-8-8 0 8-29 0 2-11 5-11 0-4-1-4-3-2-4-1-3 0-6 3-12 11 2 4 4 5 10 10-129 0 0-19 1-7 5-11 28-34 10-11 2-4 5-33 0-4-2-4-4-3-11 8-19-16-7-1-15-4-11-1-8-3-16-21-5-7-2-19zM779 1209l0 4 1-3zM501 1225l-5-1-11 1-13 4-5 4-2 7 1 2 8-4 14 10 3 0zM771 1263l0 3 8 4 5 0 0-4-9-3zM553 1359l2 0 0-2zM551 1363l1 0 0-2zM924 1101l5 5-1 4-4 3-4 0-3-3-1-4 4-4zM995 1121l4 2 2 2 1 3-3 3-4 1-4-4 1-3zM771 1125l4 3-4 3-2-3zM771 1139l9 8-1 4 6 11 0 4-2 7-8 6-4 1-6-3-12-3-6-5-1-3 1-8 2-2 4-2 11-3 0-4 5-4zM905 1140l4 3-1 4-3 3-4-3 0-4zM1233 1147l4-2 4-1 7 1 11 13 11 19 4 4 15 9 6 5 2 8-1 7-7 7-8 3-7 0-11-3-22-17-9-8-9-15-2-11 2-8zM865 1152l3 1 10 9 2 4-12 12-3 1-13-13 2-4zM1051 1151l3 1 11 10 3 4-14 13-3 0-13-13 2-4zM305 1173l1-1 4-1 2 2-2 2-4 0zM313 1194l5 5 7 15 1 4-1 4-4 7-23 26-14 13-11 5-27 2-4 10 1 1 11 0 4 1 5 5 4 8 2 18-1 11-7 12-3 3-4 1-8-2-6-6-4-11 0-26 2-8 2-3-1-1-4 1-3 4-6 7-6 5-3 1-8-1-4-5-4-11 0-4 3-11 2-4 7-6 11-2 8 0 3-1 2-6 7-7 10-7 15-5 11-10 8-4 7-8 7-16 4-3 4-2zM1512 1205l4-1 7 1 7 5 2 4 1 4-3 7-7 7-3 0-8 0-7-7-2-7 3-8zM1051 1217l7 1 8 4 6 7 3 11-3 11-6 6-12 4-7-1-8-4-6-8-2-8 0-7 4-8 8-6zM213 1225l4 1 11 10 1 4-12 14-4 1-13-15 1-4zM1583 1233l4 3-1 4-3 3-3-3-1-4zM1404 1241l4 1 2 2 2 4-4 3-4 0-3-3 1-4zM1156 1311l6-8 4-1 8 5 3 1 3-12 7-11 5-4 8-2 7 3 1-1-1-4-3-3 7-6 7-5 10 11-7 11 1 2 11-1 30-12 7 0 8 5 15 17 4 7 7 19 1 15-1 7-5 12 1 7 2 4-4 11-109 0 3-11 0-8-13-44-2-2-11 9-4-1-5-6zM1416 1276l7-2 7 1 9 6 4 8 0 7-3 7-6 6-4 1-7 1-7-1-8-7-2-3-1-8 2-7 2-4zM194 1299l4 2 8 6 3 4 1 4-12 11-4 2-12-13 1-4zM1609 1297l11 12 0 6-11 11-13-11-1-4zM1125 1303l4 0 7 8-2 4-5 6-4 0-7-6-2-4zM1047 1307l7 4-1 4-6 4-2-4-1-4zM1073 1310l7 3 4-2 4 1 4 3 3 0 4-3 16 17-1 4-15 18-4-3-1 8 2 22-11 0-3-8-9-11-4-11-13-15-1-4zM1010 1337l7 0 4 1 5 6 1 4-1 8-5 6-4 1-7 0-4-2-5-5-2-4 2-8 5-5zM1590 1336l4 1 11 11 0 4-7 7 0 4 9 11 1 4-27 0 1-4 7-7 0-4-2-4-8-7-1-4zM1395 1374l6-7 3-3 4 0 4 1 6 5 1 8-24 0z"/><path fill="#fee79b" d="M200 782l29 0 0 4-2 4-3 4-4 3-7 1-4-1-5-4-4-7zM366 784l5 6 1 3-6 6-4-1-5-5 0-3 5-5zM399 785l4 1 3 4 1 3-4 4-4 1-5-5 1-3zM883 782l56 0-1 19 7 7 0 4-2 3-4 1-7-8-4 0-11 3-4 0-19-5-5-5-4-8zM1032 790l7 1 19 5 6 5 2 4 1 3-1 4-11 15-16 12-7 2-15 0-4-2-5-5-3-7 1-4 7-11 7-15 5-5zM265 795l8-1 3 1 7 6 2 4 1 3-1 8-2 3-7 6-3 1-8 0-7-6-3-4 0-11 3-5zM511 836l4 0 3 1 8 8 3-2 4-1 8 3 11-3 6-4 9-8 3 0 11 12 0 3-7 8-4 7-1 19-3 15-2 4-5 4-4 2-7 0-8-6-6-15-3-23-5-8-11 5-8-2-2-2-1-4 1-7zM381 833l3 3 10 9-1 4-12 15-19 15-14-15 4-4 1-3-2-2-4 2-8-8 2-4 6-4 7 7 12-2 3-2zM250 866l4 0 7 3 7 6 2 8-1 7-4 7-7 5-8 1-7-2-4-3-3-4-3-8 0-3 3-8 7-7zM996 901l-1 1-1-1zM641 910l4 1 4 2 7 7 0 4-7 7-4 2-4 0-4-1-5-5-1-3 0-4 1-4 5-4zM660 919l2 1 0 4-2 1-3-1 0-4zM1393 926l8-5 11 0 8 6 7 12 11 7 5 7 1 8-2 7-4 6-8 4-7 1-4-1-7-6-8-14-11-6-5-10 0-7zM1516 967l4 0 3 2 6 7 0 4-2 3-4 4-3 2-4 0-4-2-5-7 0-4 2-4 3-3zM492 998l0-1 4 0 1 1-1 1zM1367 1013l4 4-4 1-1-1zM373 1015l8-2 7 1 7 4 5 6 2 8 0 7-4 8-6 5-8 2-7 0-8-4-6-7-1-8 0-7 4-8zM1330 1016l1 1-1 0zM965 1021l12 11 1 3-13 12-11-12 1-3zM1475 1037l4-1 7 1 8 6 2 4 1 7-1 4-6 6-4 2-7 1-4-1-5-5-4-7 1-7 2-4zM1002 1043l8 1 4 6 1 4-2 4-3 4-4 2-4-1-3-2-4-3-1-4 3-7zM1218 1045l6 5-1 4-5 5-5-5 0-4zM418 1057l3 0 8 2 6 6 3 8 0 3-2 8-7 7-8 2-3 0-8-3-6-6-2-8 0-3 3-8 5-5zM1058 1057l4 0 4 1 5 7 0 4-2 4-3 3-4 2-4 0-4-2-3-3-1-4 2-8 2-2zM980 1058l10 11-7 15-3 3-4 0-6-7-4-11 10-11zM1334 1074l3 1 6 5 8 19 1 7-1 4-6 10-4 3-7 1-8-1-9-9-1-4-2-11 2-12 2-3 8-7zM306 1078l4 0 9 9 1 4-10 10-4 0-10-10 1-4zM336 1181l2-4 5-5 11-4 12 0 1-2 1-19 3-7 6-7 4-3 3 0 4 0 7 4 7 6 3 3 0 8-11 18 2 4 25 2 19 7 4 1 14-2 4-3 4-5 1-7 0-4-4-4-8-4-3-3-3-8-3-15 2-7 12-19 6-4 8-2 7 0 4 2 6 4 5 7 4 3 15-1 7 3 4 3 5 8 2 28 4 7 5 6 2 1 4-2 4 1 7 6 4 0 4-6 7-7 8-1 7 0 19 3 15-1 7 2 7 4 23-16 13 12 0 4-10 13-2 5 6 7 4 2 1-12 3-4 3-3 9-5-2-7 12-10 4 0 10 10-5 11 5 11 1 4-1 7-2 8-5 7-4 4-1 4 13 12 10 18 3 7-1 4-9 15-2 7 2 8 4 3 4 2 7-1 19-7 11-6 4-1 11 1 11 4 5-18-3-4-20-5-4-3-5-6-5-12-9-5-7-9-2-8 1-11 3-8 9-6 8-2 7 2 7 4 4 4 4 0 11-9 12 11 0 4-6 7-1 4 2 2 56 1 30 5 22 11 23 2 11 3 7 3 19 13 5 5 6 7 1 11-2 8-6 6-15 5-19-2-37 1-15-4-22-10-19-6-4 1-2 9-2 4-10 9-12 4-7 0-4 0-7-7-4 0 0 5 4 2 7 2 8 11 41 15 7 4 19 14 4 0 7-4 11 8 4 1 4-1 22-10 7 1 8 2 9 7 12 15 3 7 1 4-314 0-3-15 1-15-1-4-6-11-5-15-6-9-4-2-7-1-8 1-7 6-4 1-15 12-7-2-3 2-9 6-7 4-15 11-11-10-15 2-19 1-5 1-5 3 1 4-2 4-18 18-2 0-4 8-83 0 0-19 5-15 9-12 32-32 7-15 6-7 11-2 33 4 4-1 1-2 0-18-1-2-17 17-1 2-8-9-9-8-1-4 18-16 18 14 2-2 4-15 6-7 3-3 8-2 21-2 5-2 6-6 1-4 0-3-4-2-15 8-29 5-15 5-22 6-8 3-15 1-1 3-4 4-17 14-11-10-8-6-11-2-7-4-15-2-4-2-8-6-13-15-2-4-2-8zM779 1208l-1 2 0 4 5 1 1-1-2-4zM920 1103l4-1 4 4-4 6-4-1-1-1-2-4zM995 1123l4 2 1 3-5 3-2-3 0-3zM905 1142l2 1-2 5-1-1 0-4zM771 1144l4 1 3 2 0 4 6 11 0 4-2 7-11 6-4-2-14-4-4-2-3-5 0-4 3-5 4-2 13-4 1-4zM1233 1148l4-3 4-1 3 0 4 2 10 12 12 20 8 6 16 11 2 4 0 8-1 3-6 6-11 3-8 0-7-3-22-17-8-7-10-15-2-8 3-11zM865 1153l3 1 8 8 3 4-11 11-3 1-12-12 2-4zM1051 1153l3 0 10 9 2 4-12 12-3 0-12-12 2-4zM313 1195l4 4 6 11 1 4 0 8-4 7-14 14-9 12-10 9-14 8-12 1-15 0-1 1-3 7-10 10-8 9-7 5-4 1-4-3-5-7-2-11 3-11 4-7 8-3 18-1 6-12 4-3 9-6 16-6 10-9 10-5 5-7 8-16 3-3 4-2zM1516 1205l4 0 7 3 2 2 3 8-2 7-7 6-3 1-8-1-6-6-2-7 3-8 5-4zM1043 1220l8-2 7 1 8 4 5 6 1 4 1 7-1 8-6 7-4 3-11 2-8-2-7-7-3-3-1-8 2-11 5-7zM213 1226l4 1 10 9 1 4-11 12-4 2-11-14 1-4zM1583 1235l2 1-2 5-2-5zM1404 1243l4 1 2 4-2 1-4 1-2-2zM1218 1265l8 9-8 12-4-3-8-9 5-5zM1419 1275l8-1 7 3 4 4 4 8 1 3-2 8-3 5-8 5-7 1-7-2-7-6-2-3-2-8 3-7 4-6zM1274 1282l15 18 9 22 1 7 0 8-5 15 2 7 5 8-1 3-5 8-100 0 4-11 0-8-15-48 2-15 3-4 11-10 3 2 11 9 8 1 11-1 30-13 7 0zM250 1286l8 3 6 7 3 7 1 8 0 15-8 15-6 3-8-1-5-6-3-8-1-7 0-19 1-7 5-7 3-2zM1609 1298l11 12 0 5-11 10-12-10-1-4zM194 1301l4 1 10 9 1 4-11 10-4 1-11-11 2-4zM1125 1304l4 1 5 6-1 4-4 4-4 1-6-5-1-4zM1166 1304l10 7-2 4-8 5-4-1-3-4-2-4 5-6zM1057 1329l16-17 4 3 3 1 4-3 4 1 4 3 3-1 4-3 15 16-1 4-14 16-7-5-4 4-4 0-4-3-7 5-15-17zM1006 1340l4-2 7-1 4 2 4 5 2 4 0 4-6 8-4 2-7 0-5-3-5-7 0-4zM1590 1337l4 1 10 10 0 4-7 7 0 4 2 4 7 7 1 4-25 0 1-4 6-7 0-4-1-4-8-7-1-4zM567 1350l3 2 12 15 0 3-7 8-16 0-8-8-1-3zM510 1378l-40 0 11-7 11-11 4 3zM1395 1374l6-7 3-2 4-1 4 2 5 4 2 8-24 0z"/><path fill="#fed283" d="M201 782l27 0-1 8-7 6-7 1-4-1-4-3-3-3zM366 785l4 5 0 3-4 5-4-1-4-4 1-3 3-4zM884 782l54 0 0 15-4 8 1 2 4-2 5 3 0 4-5 2-3-2-1-4-3-1-15 3-19-3-7-5-4-5-3-7zM399 787l5 3 1 3-6 4-3-4 0-3zM1032 790l7 1 19 5 5 5 4 7-3 8-10 11-15 11-7 3-15-1-8-6-3-3 0-8 8-11 7-15 4-4zM265 795l8-1 3 2 7 5 3 7-1 8-2 3-7 6-3 1-8-1-4-2-6-7 0-4 0-7 6-8zM511 837l4-1 3 2 5 4 3 4 7-2 4 2 7 0 10-4 13-11 3 1 10 10 0 3-7 8-4 7-1 19-3 15-6 7-4 2-7 0-4-2-6-7-4-11-2-23-4-7-2-2-8 5-7 0-5-3-2-4 1-7zM381 834l3 3 9 8-1 4-11 14-19 15-13-14 4-4 1-3-3-3-4 1-7-6 3-4 4-3 4 5 3 1 4 0 4-1 4 0 3-2zM250 866l4 1 7 2 6 6 3 8-1 7-4 6-4 4-3 1-8 2-7-3-7-6-2-8 0-3 3-8 6-6zM641 911l4 0 4 2 6 7 0 4-6 7-4 2-4 0-4-2-4-4-2-3 0-4 2-4 4-4zM1393 926l8-4 7-1 4 1 7 5 8 13 11 7 5 6 1 8-2 7-4 5-8 5-7 0-7-3-4-3-8-14-11-7-3-5-2-7 0-4zM1516 967l4 0 3 2 6 7 0 4-2 3-7 6-4 0-4-2-3-4-2-3 0-4 2-4 3-3zM377 1014l7 0 8 3 5 3 4 8 1 7-2 8-5 5-7 5-7 1-8-2-6-5-4-8-1-7 3-8 4-6zM965 1022l11 10 1 3-12 11-10-11 1-3zM1479 1037l7 0 4 3 6 7 0 3-1 8-5 6-7 3-4 0-8-4-4-9-1-4 3-7 6-5zM1002 1043l8 1 4 6 1 4-2 4-3 3-4 2-4 0-3-2-3-3-1-8 2-3zM1218 1046l5 4-1 4-4 4-3-4-1-4zM418 1058l7 0 4 2 6 5 2 8 1 3-3 8-6 6-8 3-3-1-8-2-5-6-2-8 1-7 1-4 5-5zM1066 1059l4 6 1 4-2 4-3 3-4 2-4-1-4-2-2-2-1-4 1-8 2-2 4-1zM980 1059l9 10-7 15-2 2-4 0-5-6-4-11 9-10zM1334 1075l3 1 5 4 8 19 1 7-1 4-5 9-4 3-7 2-8-2-8-8-2-4-1-11 1-12 3-3 7-6zM306 1079l4 0 7 8 1 4-8 9-4 0-9-9 1-4zM337 1181l3-5 7-5 11-3 8 1 3-3 0-15 2-11 6-7 7-3 4 1 7 3 7 6 2 3 1 4-1 4-11 18 1 4 5 1 22 2 21 8 17-3 7-5 2-10-1-4-3-4-11-7-5-15 0-11 1-4 12-19 9-5 7-1 4 0 8 6 7 9 4 2 15-1 7 3 6 6 3 7 2 26 8 13 3 2 4-2 4 1 11 9 8-11 3-3 8-3 11 0 15 6 3 1 12-1 11 4 7-5 19-14 12 11 0 4-14 18-1 4 14 15 7 4 2-4-6-15-1-4 1-3 4-6 11-6-3-7 11-9 4 0 9 9-5 11 5 11 0 11-2 8-4 5-7 5-8 1 0 4 3 4 12 10 4 4 7 12 3 7-2 7-3 8-10 11-5 19 0 3 7 8 7 5 4 1 7 0 5-6 17-17 4 3 8-2 16 16 1 4-10 11 3 11 0 4-2 3-8 7-8 2-7 0-4 1-8 5 7 8-1 3-7 8-66 0-5-11 0-4 2-22-8-12-6-14-5-2-11-11-7-5-15 13-4 0-11-8-1 1 6 8 0 4-9 8-4-1-12-7 2-4 10-10 5-1-5-6-3 1-4 2-8 14-3 4-4 1 0 2 5 8-1 3-15 14-4 1-15-12-7 4-11 1-12-1-7-4-4 1-4 4-2 4 5 7-1 4-13 13-3 3-12-10-2 1-4 19-71 0 1-19 3-11 4-7 40-40 5-12 6-7 15-2 26 2 7 2 4-1 2-2-2-15 0-18 2-8 4-7 5-5 4-2 33-2 4-1 5-5 1-15 1-4-7 2-4-1-1 3-6 5-11 5-19 1-30 10-18 3-26 2 0 4 3 3-3 4-15 13-19-17-7-1-15-5-11-2-12-7-9-11-5-7-2-8zM920 1105l4-1 2 2-2 4-4 0-1-4zM995 1126l1 2-2 0zM776 1147l7 15 0 4-2 7-10 5-18-6-4-3-2-3 0-4 2-4 4-3 11-2 3-2 2-4 2-2zM1233 1148l8-3 3 0 4 2 9 11 13 20 23 17 2 4 1 8-2 3-3 4-6 3-4 1-14-1-8-4-7-7-11-7-8-7-9-15-2-8 1-7 1-4zM865 1154l3 1 7 7 3 4-10 10-3 1-11-11 2-4zM1051 1154l3 0 9 8 2 4-11 10-3 1-11-11 2-4zM738 1199l4-5 7-5 4-1 11 1 11 9 4 0 11-9 10 10 1 4-6 7-2 4 4 2 56 1 30 6 18 10 4 1 23 2 11 2 7 3 19 14 7 7 4 8 0 11-2 4-5 6-11 4-8 1-15-2-33 1-15-4-32-14-12-3-5 0-2 7-3 8-6 5-7 4-8 1-7-1-8-6-6-7 0-11 3-8-1-4-11-3-11-2-3-2-5-4-5-7-3-8-10-7-6-7-2-12zM779 1207l-2 3 0 4 2 2 4 0 3-2-3-5zM313 1196l3 3 8 15-1 8-4 7-13 13-10 13-12 11-11 5-12 1-15 0-3 2-2 7-9 9-12 13-3 2-4 0-4-2-2-3-4-8-1-7 2-8 5-9 8-3 3-1 15 1 3-3 2-7 6-7 4-3 21-9 9-9 11-5 4-6 6-13 5-7 4-1zM1516 1205l4 0 7 4 4 5 0 4-1 7-7 6-3 1-8-1-6-6-1-3 0-8 2-4zM1043 1221l8-3 7 1 9 6 5 8 1 7-2 8-2 3-7 6-8 2-7-1-8-4-5-6-2-8 1-7 4-8zM213 1227l4 2 8 7 2 4-10 11-4 1-10-12 1-4zM474 1241l17 14-2 4-15 13-14-13-3-4zM1404 1248l0-2 3 2zM1218 1267l7 7-7 9-4-2-6-7 6-6zM1419 1275l8 0 3 1 4 2 6 7 2 7-1 8-3 4-8 5-7 1-7-2-6-5-4-7 1-7 5-9zM1191 1292l9-7 3 1 11 10-3 4 0 4 11-3 11 1 4-1 22-14 8-1 3 1 14 16 8 19 1 11-6 19 6 5 6 10-1 3-5 8-90 0 2-8 0-3 2-4 0-6-7-24-8-18 1-12-5-7zM250 1287l8 3 6 6 2 7 1 19-3 11-5 8-5 2-4 0-4-1-6-9-3-11 0-19 2-7 4-6zM1609 1299l11 12-1 4-10 9-11-9-1-4zM194 1302l4 1 9 8 1 4-10 9-4 1-10-10 2-4zM1125 1306l4 0 4 5-1 4-3 3-4 0-4-3-2-4zM1166 1306l8 5-3 4-5 3-4-1-3-6 3-4zM1058 1329l15-15 4 3 3 1 4-3 4 1 4 2 3 0 4-3 13 14-1 4-12 14-4-3-3-1-4 3-4 0-4-2-3 1-4 3-13-15zM772 1341l1-4 6-7 26-9 11 0 34 11 11 6 7 7 8 4 3 1 8-4 11 8 4 1 8-3 18-9 4 0 11 3 8 6 11 15 4 7 1 4-124 0-5-3-22-2-6-3-27-8-7-6-4-8zM1010 1338l7 0 4 2 5 8 0 4-2 4-7 6-7 0-7-6-2-4 0-4 2-4zM1590 1338l4 1 9 9 0 4-7 7 0 4 2 4 7 7 1 4-23 0 1-4 6-7 0-4-1-4-8-7-1-4zM567 1352l3 2 11 13-1 3-7 8-12 0-8-8-1-3zM508 1378l-33 0 17-16zM1396 1374l2-4 3-3 3-2 4 0 4 1 5 4 1 4 0 4-22 0z"/><path fill="#fdbb6d" d="M201 782l27 0-1 8-7 6-7 1-4-1-6-6zM884 782l54 0-1 15-5 8-15 5-19-4-4-2-6-7-3-7zM366 787l2 3 1 3-3 3-4-1-2-2 0-3 2-2zM399 789l3 1 1 3-4 2-1-2zM1063 801l3 7-3 8-9 11-15 11-7 3-15-1-7-5-3-4 0-8 7-11 5-11 6-7 3-3 8 0 18 4zM269 795l4 0 7 4 2 2 3 7 0 4-3 7-6 5-3 1-8 0-4-3-5-6-1-4 1-7 2-4 7-5zM937 808l2-2 4 2 0 4-4 1-1-1zM507 840l8-3 3 1 7 7 1 3 7-3 8 2 11-3 7-5 8-6 3 0 9 9 0 3-7 8-3 7-3 30-1 4-6 7-4 2-7 0-7-5-3-4-4-11-1-23-3-7-4-3-8 6-7 0-5-3-2-4 0-4zM381 835l3 3 8 7-1 4-3 4-2 4-13 12-4 2-7 6-12-13 4-4 1-3-1-3-3-1-4 1-5-5 5-5 4 4 3 3 8-4 4 1 3-2zM254 867l7 3 6 5 1 4 1 7-3 8-5 5-3 2-8 1-7-2-6-6-3-8 1-3 2-8 6-5 7-3zM641 911l4 0 4 2 6 7 0 4-6 6-4 2-4 1-4-2-4-4-2-3 0-4 3-4zM1397 924l4-2 7-1 8 3 6 7 5 10 7 3 6 6 3 7 1 4-3 7-3 5-8 4-7 1-7-4-4-3-7-14-8-4-4-3-4-8 0-7 4-8zM1516 968l4 0 3 1 3 3 2 4 0 4-1 3-4 4-3 2-4 0-4-2-3-4-2-3 1-4 1-4 3-3zM377 1015l7-1 8 3 4 3 5 8 0 7-2 8-4 5-7 4-7 1-8-2-6-4-4-8 0-7 2-8 4-5zM965 1023l10 9 1 3-11 10-9-10 1-3zM1471 1041l8-4 4 0 3 1 7 5 2 4 1 7-1 4-5 5-7 3-4 0-8-5-3-3-1-8 1-3zM999 1045l3-2 4 0 6 4 2 7-1 4-3 3-4 2-4 0-6-5-1-8zM1218 1048l4 2-1 4-3 2-2-2-1-4zM414 1059l11 0 8 5 3 5 1 7-2 8-6 5-8 3-3 0-8-3-5-5-2-8 1-7 6-8zM980 1060l8 9-4 11-4 5-4 1-4-6-4-11 8-9zM1054 1059l4-1 4 0 4 1 2 2 2 4 0 4-1 4-3 3-4 1-4 0-4-2-2-2-1-8zM1334 1076l3 1 4 3 9 19 1 7-3 8-3 4-8 5-3 1-8-3-8-7-2-4-1-11 1-8 3-6 7-7zM306 1080l4 1 6 6 1 4-7 8-4 0-8-8 1-4zM340 1177l3-3 8-4 7-1 12 0-1-11 1-15 2-3 5-6 7-3 8 2 7 5 4 5 1 4-2 7-10 15 0 4 7 2 22 1 8 3 11 6 8-1 14-3 5-4 3-11-4-7-11-7-3-5-4-15 0-7 1-4 12-19 9-4 7-2 8 3 11 13 4 2 15-1 7 2 6 6 2 7 1 23 2 7 8 11 3 1 4-2 4 2 11 9 3-2 4-8 8-6 7-2 11 2 8 4 7 6 4 1 15 0 13-8 17-13 10 9 0 4-8 11-1 4-4 3-5 8 1 3 14 21 11 5 6 4 17 9 3 3 8 11 3 7 0 7-4 8-7 6-14 9-4 7 0 5 4 6 7 8-6 11 3 7 4 4 6 3 6 5 4 7 5 2 15 17-1 3-7 8-20 0-2-1-2 1-27 0-1-4-10-11-1-7 1-12 4-7-19-22 1-4-1-1-4 1-4-1-15-14 1-4 7-11 0-1-8-5-7-7-4-1-4 1-7 6 4 0 15 18-2 4-13 12-4 1-14-13-3-4 6-7 0-3-4 1-11 0-4 3-8 14-7 6-4 1-3 4 13 15 0 3-13 12-4 1-11-10-4-1-11 5-11 0-8-2-6-5-1-2-4 0-4 6-5 4 0 4 6 7-1 4-11 11-3 2-12-10-3 0-2 8-4 15-67 0 1-19 3-11 4-7 9-10 7-5 23-22 3-6 4-9 4-5 7-2 23 0 11 1 7 3 4 0 4-3 0-2-3-15 0-18 4-12 6-7 8-2 22-1 7 1 11 5 3-3-2-19 0-7 1-4 7-7 0-4-1-1-11 10-4 2-4-1-7 8-11 6-23 2-15 6-14 4-34 2-7 1-4 2 5 7-3 4-13 11-17-15-9-1-13-6-13-2-12-8-14-16-2-8 0-14zM594 1281l2 0 0-1zM542 1311l2 1 1-1zM541 1316l1-1-1-3-1 3zM461 1341l1 1 1-1-1-1zM925 1106l-1 2-4-2zM782 1162l1 4-3 7-5 3-4 1-18-5-3-3-3-3 0-4 3-4 3-2 11-2 5-3 2-4 4 2 6 9zM1233 1149l8-4 3 0 4 3 9 10 13 21 22 16 3 4 0 8-1 3-4 4-5 3-4 1-14-1-8-4-7-7-11-8-7-6-10-15-2-8 1-7 2-4zM701 1154l8 8-4 11 5 11 0 8-3 11-3 4-3 3-4 1-4 0-3-1-4-3-9-15-3-8 1-3 3-5 8-3 4-4-3-7 10-8zM865 1155l3 1 9 10-9 9-3 1-10-10 2-4zM1051 1155l3 0 8 7 2 4-10 9-3 1-10-10 3-4zM739 1199l2-4 4-3 8-3 7 0 4 1 11 9 4 0 11-9 9 9 1 4-6 7-2 4 2 2 3 1 49 0 11 1 11 3 15 2 17 10 5 1 30 4 11 4 23 17 5 7 2 4-1 11-1 4-5 5-15 5-19-2-33 1-15-4-20-9-21-7-8-1-1 1-3 11-7 8-7 4-11 1-8-4-6-5-3-8 0-7 3-8 1-4-11-3-14-3-3-2-6-6-5-12-12-8-5-6-2-12zM777 1207l-1 3 0 4 3 2 4 1 4-3-4-7-4-2zM313 1197l7 10 3 7 0 8-28 33-11 10-11 5-15 2-15-2-1 7-1 4-9 8-9 11-6 4-4 0-4-2-5-10-1-7 3-11 3-5 4-2 7-2 8 0 11 1 1-11 6-7 4-3 22-9 8-8 11-6 4-5 6-14 5-6 4-1zM1516 1206l7 1 5 3 2 4 1 8-2 3-6 5-3 2-8-2-5-5-2-3 1-8 2-4zM1047 1220l7-1 8 3 4 3 5 8 1 7-2 8-4 6-8 4-7 0-8-2-6-5-4-7 0-8 2-7 4-5zM213 1229l4 1 7 6 1 4-8 9-4 2-9-11 1-4zM474 1243l15 12-2 4-13 12-12-12-3-4zM1218 1268l5 6-5 7-4-3-3-4 3-4zM1419 1276l8-1 7 3 6 7 1 7-1 8-6 7-4 2-7 1-7-2-6-5-3-7-1-4 3-7 3-4zM250 1288l8 2 5 6 3 15 0 11-2 7-3 8-3 4-4 2-4 0-4-2-5-8-3-11 0-19 1-7 4-5zM1200 1287l3 1 8 8-8 10-3 2-10-12 3-4zM1270 1299l9 8 5 11 1 11-5 19 0 8 0 3 1 1 8-3 4 3 4 7-1 3-5 8-80 0 0-4-2-4-1-3 7-11-2-30 3-8 6-5 15-2 15-11 7-4 8 0zM745 1297l4 3 8-3 13 14 2 4-15 16-8-2-4 3-7-6-10-11 2-4zM194 1303l4 1 7 7 2 4-9 7-4 2-8-9 1-4zM1609 1300l10 11-1 4-9 8-10-8-1-4zM589 1304l5 7 1 4-6 5-4-1-7-4 2-4 5-5zM1121 1311l4-4 4 1 2 3-2 5-4 1-2-2zM1160 1311l2-3 4-1 5 4-2 4-3 1-4-1zM1060 1329l13-13 4 3 3 0 4-2 4 0 4 2 3 0 4-2 12 12-1 4-11 13-4-3-3-1-4 3-4 0-4-2-3 0-4 3-12-13zM778 1344l4-7 4-5 8-4 11-5 15 0 15 4 18 7 8 5 10 9 5 2 3 1 8-2 11 7 5 0 21-11 4-1 7 1 11 4 7 7 11 14 2 8-122 0-3-4-21-3-34-10-6-5-2-8zM1010 1338l7 0 7 6 2 4-2 8-7 5-7 0-7-5-1-8 1-4zM1590 1339l4 1 8 8 0 4-6 7 0 4 1 4 7 7 1 4-21 0 1-4 4-4 2-3-1-8-8-7 0-4zM567 1354l3 2 9 11 0 3-7 8-9 0-8-8-1-3zM506 1378l-29 0 15-14zM1397 1374l1-4 3-2 7-3 8 5 2 4 0 4-22 0z"/><path fill="#fb9d59" d="M202 782l25 0 0 4-1 4-6 5-7 2-4-1-6-6zM884 782l54 0-1 15-5 7-4 2-11 3-19-3-4-2-6-7-3-7zM362 790l4-1 1 4-1 2-4-1zM1062 801l3 4 0 3 0 4-12 15-14 11-7 2-11 0-8-3-6-6 0-4 0-4 7-11 5-11 6-7 3-2 8-1 18 4zM269 795l4 0 7 4 5 9 0 4-3 7-9 6-4 0-8-3-5-6-1-4 1-7 5-7zM939 808l1 0-1 4zM570 834l8 8 0 3-6 8-4 7-1 15-2 19-6 7-4 2-7 0-4-2-5-7-5-15-1-23-1-3-5-4 6-2 4 1 13-3 9-5 8-6zM381 837l3 2 7 6-1 4-3 4-2 4-12 11-4 2-7 6-11-12 4-4 0-7 7-5 4 1 3-2zM515 837l3 1 7 7 1 4-8 7-7 0-4-3-3-4 0-4 3-5zM347 845l3 4-3 4-4-4zM250 868l8 0 3 2 5 5 3 8-1 7-2 4-5 4-7 3-8 0-3-2-5-5-3-8 1-7 2-4 5-5zM641 911l4 1 4 2 5 6 0 4-5 6-8 2-4-1-3-4-2-3 0-4 2-4 3-3zM1397 924l4-2 7 0 8 3 5 6 3 8 3 2 7 4 6 5 3 7-1 8-1 3-7 7-7 2-4 0-7-3-5-6-3-7-3-4-8-4-6-7-1-4 0-7 1-4zM1516 968l7 1 3 3 2 4 0 4-1 3-4 4-3 1-4 0-4-2-3-3-1-3 2-8 2-2zM377 1016l7-1 8 3 6 6 2 4 1 7-2 8-4 4-7 5-7 1-8-3-5-3-4-8-1-7 3-8 3-4zM965 1024l9 8 1 3-10 9-8-9 1-3zM1471 1042l8-5 4 0 3 1 7 5 2 4 1 7-2 4-4 5-7 3-4 0-4-1-4-4-3-3-1-8 1-3zM1002 1044l4 0 4 1 3 5 1 4-1 4-3 3-4 2-4 0-3-3-3-2-1-4 0-4 3-3zM1218 1049l2 1-1 4-1 1-2-5zM414 1059l4-1 7 1 8 5 3 5 0 7-2 8-5 5-4 2-11-1-5-3-5-7-1-7 1-4 6-8zM980 1061l7 8-4 11-3 5-4 0-4-5-3-11 7-8zM1054 1060l4-2 4 0 4 1 2 2 2 8-2 4-2 2-4 2-4-1-4-1-2-2-1-8zM1334 1076l3 1 4 3 8 19 1 7-3 8-2 3-4 4-4 2-3 0-8-2-7-7-2-4-1-11 0-8 3-6 7-6zM306 1082l4 0 5 5 1 4-6 7-4 0-6-7 0-4zM338 1181l2-4 3-3 8-3 7-1 11 1 2-2-2-11 2-15 6-8 7-4 8 3 7 5 4 4 1 4-3 7-10 15 0 4 8 3 19 0 7 2 15 7 11-1 12-3 4-4 3-8 0-5-4-6-11-7-3-4-4-15 0-7 9-15 5-8 4-2 11-3 8 3 12 14 3 1 11-2 7 1 4 2 4 3 3 6 2 29 10 16 3 2 4-2 4 1 11 9 4-1 2-6 2-4 7-5 7-2 8 1 3 1 8 5 11 16 9 3 3 4-3 7 0 11 5 19 0 7-3 8-3 4-19 13-8 4-7 2-7-2-6-6-4-8-11-26-4-11 0-11 2-4 8-7 0-5-4-2-11 10-4 2-4-1-7 10-8 4-7 2-19 1-15 6-14 4-42 2-4 4 4 7-3 4-11 9-15-13-11-2-11-5-12-2-7-3-8-6-13-15-2-8zM1233 1149l8-3 3 0 4 2 8 10 14 22 22 15 2 4 1 8-6 7-4 2-4 1-14-1-8-4-18-14-6-6-10-15-2-8 0-7 2-4zM782 1162l-1 7-2 4-8 3-18-5-5-5 0-4 5-6 11-2 7-5 4 2 4 4zM660 1154l9 8 0 4-8 11-1 4-4 1-11 17-4 0-14-11-4-7 14-10 8-3 3-6zM697 1155l4 0 7 7-4 7 0 4 5 11 1 4-4 15-5 6-4 1-4 0-5-3-12-19-1-4 0-3 3-4 4-3 5-1 4-4-2-7zM865 1156l3 1 8 9-8 8-3 1-9-9zM1051 1156l3 1 9 9-9 8-3 1-9-9zM739 1199l6-6 8-4 7 0 8 4 11 9 1-3 10-7 8 7 1 4-7 7-1 4 3 3 59 1 14 4 16 2 16 9 6 2 23 2 7 1 11 5 23 17 5 6 1 4 0 11-2 4-4 4-15 6-19-3-33 1-19-5-14-7-21-7-10-2-2 2-3 11-6 7-3 3-8 2-7 0-8-4-4-3-4-9 0-7 5-12-30-9-6-5-5-13-12-7-5-6-2-8zM775 1206l1 8 3 3 7-1 3-2-6-7-4-4zM313 1198l6 9 3 7 0 8-2 3-14 15-12 15-10 10-11 5-19 1-11-3-2 2 1 7-2 4-9 8-9 11-5 3-4 0-4-1-5-10-1-7 4-11 2-4 4-3 7-1 12 0 7 2 2-2-1-7 1-4 5-6 4-3 16-6 7-3 7-8 12-7 3-4 7-15 4-5 4-2zM1516 1206l7 1 4 3 3 4 1 4-2 7-6 5-3 1-8-1-5-5-2-3 1-8 6-7zM1047 1220l7 0 8 2 7 7 1 4 2 7-3 8-3 5-8 4-7 1-8-3-5-4-4-7-1-8 3-7 3-4zM554 1236l5 12 6 7 4 7 3 15-2 12-7 11-8 6-14 2-3 3-2 7 1 4 11-11 4 2 11 13-1 3-10 10-4 1-15-12-11 7-7 1-8-1-7-6-3-3-1-5-4 0-1 5-2 3-9 8 2 4 5 7-1 4-12 12-12-11-3-1-8 26-64 0 0-15 6-19 6-8 16-14 19-19 3-3 4-11 3-3 7-3 30 0 11 5 4 0 4-3 2-4-5-15 1-18 4-12 5-6 8-3 22 0 11 3zM466 1337l-4 1-3 2-2 4 2 3 3-2 4-4zM213 1230l4 1 6 5 1 4-7 8-4 1-8-9 1-4zM697 1234l11 10 5 7 1 8-2 7-4 6-7 5-15 6-15 2-2-4-9-11-10-8-1-3-3-4 10-15 7-4 4-3 15-2zM474 1244l13 11-2 4-11 10-10-10-3-4zM1218 1270l3 4-3 4-5-4zM604 1277l4 1 13 14-2 4-11 10-4 1-12-11-2-4zM1423 1276l4 0 7 3 5 6 2 4 0 7-1 4-6 6-7 3-8 0-8-6-4-7 0-4 2-7 7-7zM641 1278l4 0 16 14 2 5 4-4 4 3 7-5 17 20-13 16-4 4-3-4-4 2-4 2-16-16 1-4 6-8-2-1-11 7-4-1-12-12 0-4zM658 1300l2 1 1-1-1-2zM250 1289l8 2 5 5 1 4 2 11 0 11-2 7-4 8-2 3-4 2-4 0-4-2-3-3-3-8-1-7 0-15 1-11 3-4 3-3zM1200 1289l3 1 6 6-6 7-3 2-7-9zM745 1299l4 2 8-1 11 11 2 4-13 13-8-1-4 3-15-15 2-4zM1609 1301l9 10-2 4-7 7-9-7-1-4zM194 1304l4 2 6 5 1 4-7 6-4 2-7-8 1-4zM1270 1308l5 7 2 11-3 11-5 15 0 4 1 11-1 11-53 0-4-8-1-3 7-11 5-4 0-4 5-7 3-12 2-5 22-17 8-2zM589 1308l2 3 1 4-3 2-4-1-2-1 1-4zM1123 1311l2-2 4 0 1 2-1 3-4 1zM1162 1311l4-2 2 2-2 4-4-3zM1062 1329l11-12 4 3 3 0 4-1 11 1 4-2 11 11-2 4-9 11-4-2-3-1-8 2-4-1-3 0-4 2-10-11zM780 1344l1-3 5-7 11-6 12-5 11 1 15 4 18 7 23 16 7 1 4-1 7 5 4 1 7-1 19-10 4-1 11 1 7 3 7 7 11 14 2 8-121 0-3-4-26-5-26-7-8-6-2-4zM665 1348l1-4 5-6 7-4 12 0 14 5 6 5 1 12 5-3 3 0 13 14-1 3-7 8-14 0-13-11-7 3-12-1-7-3-6-7-1-3zM1010 1339l7 0 7 5 1 4-1 8-7 5-4 0-3 0-6-5-2-4 1-8zM1590 1340l4 1 7 7 0 4-4 4-2 3 1 8 7 7 1 4-19 0 1-4 6-7-1-8-8-7 0-4zM567 1355l3 2 8 10-1 3-7 8-5 0-9-8-1-3zM1289 1360l6 7-2 6-4 4-10-7-3-3zM505 1378l-26 0 13-12zM1397 1374l1-4 3-2 7-2 4 1 4 3 2 4 0 4-21 0z"/><path fill="#f67c4a" d="M202 782l25 0 0 4-1 4-6 5-7 1-4-1-6-5zM885 782l52 0-1 15-4 7-4 2-11 3-19-3-4-2-5-7-3-7zM1062 801l2 4 1 3-1 4-10 13-15 12-7 3-11 0-8-3-5-6-1-4 1-4 5-8 9-18 6-5 4-1 7 1 15 4zM269 796l4 0 7 4 5 8 0 4-4 7-8 6-4 0-8-3-4-6-1-4 0-4 3-7 2-2zM381 838l9 7-1 4-3 4-2 4-3 3-4 1-1 3-3 4-4 1-7 6-10-11 3-4 1-7 6-4 4 0 3-1zM518 839l6 6 1 4-7 6-7 1-6-7-1-4 2-3 5-4 4 0zM570 835l7 7 0 3-6 8-4 7-1 23-2 11-5 6-7 3-4-1-6-4-4-8-4-11 0-26-4-4 22-4 7-4 8-6zM347 847l1 2-1 2-2-2zM246 869l8-1 4 1 4 3 6 7 0 7-1 4-2 4-7 6-4 1-8-1-7-5-3-5 0-11 6-7zM641 912l4 0 6 4 2 4 0 4-4 6-8 2-4-1-3-4-2-3 0-4 2-4 3-3zM1397 925l7-3 4 0 8 3 5 6 3 8 3 3 7 3 5 5 2 3 2 8-3 7-6 7-7 2-4 0-7-4-5-5-5-11-9-4-4-4-3-7 0-7 1-4zM1512 970l8-2 3 2 3 2 2 8-2 3-3 3-3 2-4 0-4-2-3-3-1-3 0-4 2-4zM381 1015l7 1 7 4 3 4 2 8 0 3-2 8-6 6-8 3-7 0-8-5-3-4-3-8 2-7 4-7 4-3zM965 1025l8 7 1 3-9 8-7-8 1-3zM1479 1038l4-1 7 4 4 6 1 3 0 4-4 7-5 4-3 1-8-2-6-6-1-4 0-7 3-4zM1002 1044l4 0 4 1 3 5 0 8-3 3-4 1-4 0-3-2-3-2-1-4 1-4 3-4zM414 1059l4 0 7 0 8 6 2 4 1 4-1 7-2 5-8 5-7 1-4-1-4-3-6-7 0-7 1-4 5-7zM1054 1060l4-2 4 0 4 1 2 2 1 4 0 4-1 4-2 2-8 1-6-3-1-4 0-4zM976 1062l4 0 6 7-3 11-3 4-4 0-3-4-3-11zM1334 1077l3 1 4 3 8 18 1 7-3 8-3 3-7 5-3 1-8-3-7-6-3-8 0-15 3-5 7-6zM306 1083l4 0 4 4 1 4-5 5-4 0-5-5 0-4zM561 1184l-9 10-4 2-4-1-5 8-10 6-7 2-19 2-18 7-11 3-38 1-6 1-4 4 4 7-2 4-10 8-15-13-15-3-7-4-12-2-11-5-10-11-6-7-2-4-1-15 0-3 2-4 10-6 7-1 11 2 3-3-2-11 1-15 6-8 4-2 3-1 8 2 7 5 3 4 1 4-3 7-10 15 0 4 9 3 22 1 19 9 13-2 11-3 4-4 1-4 2-7-1-4-4-4-11-7-2-4-4-15 0-7 8-15 5-7 4-3 11-3 8 3 11 14 4 1 11-1 7 1 8 5 2 5 1 3 1 23 3 9 8 11 3 2 4-2 4 2 9 8zM1233 1150l8-4 3 0 4 3 5 5 17 27 21 14 3 4 0 8-5 7-8 3-14-1-26-19-6-5-10-15-2-8 1-7 5-8zM782 1162l0 4-3 6-4 3-4 1-18-5-5-5 0-4 5-5 11-2 7-4 4 1 5 6zM660 1155l8 7 0 4-8 10-10-10 0-4zM697 1156l4 0 5 6-3 7 0 4 4 8 3 7-4 15-5 5-4 1-4 0-7-6-10-15 0-4 0-3 3-4 3-3 7-1 4-4-3-7zM865 1157l3 1 7 8-7 7-3 0-8-7zM1051 1157l3 1 8 8-8 7-3 0-8-7zM585 1163l8 1 7 3 6 6 3 8 1 11 8 7 4 26-1 11-3 8-14 13-8 5-3 0-8 0-4-3-6-8-11-22-6-19 0-7 2-4 8-7-1-11 3-8 4-5 8-5zM641 1170l4 1 10 10-9 14-5 2-15-16zM740 1199l3-4 6-4 4-1 7 0 8 3 9 10-2 2 0 9 4 4 7 0 4-3 4 3 59 1 12 3 14 1 26 13 23 1 15 4 18 13 10 8 4 8 0 11-6 8-4 2-11 3-15-2-37 1-19-6-13-6-20-7-12-3-3 3-2 11-9 9-12 3-7-2-7-6-3-4-1-4 0-7 5-12-9-3-19-4-5-4-5-7-4-10-8-4-8-8-2-8 0-7zM790 1193l6 6 1 4-6 7-1 3-1-3-9-7 2-4zM314 1199l5 8 3 7 0 4-3 7-29 34-6 5-11 5-12 1-15-1-4-3-2-4 0-3 2-4 4-6 8-4 14-5 5-3 7-8 12-7 3-4 7-15 4-5 4-1zM1516 1206l7 1 7 7 0 4-2 7-5 4-3 2-4 0-4-2-5-4-1-3 0-8 6-7zM1047 1221l7-1 8 3 6 6 3 7 0 8-2 4-3 4-8 5-7 0-8-2-4-4-5-7 0-8 2-7 7-7zM552 1236l3 9 11 17 3 12 1 11-5 11-6 6-7 4-15 2-2 10-2 8-7 6-11 3-12-3-5-6-2-15-4-3-2 18-5 7-6 4 1 4 6 7-1 4-11 10-11-10-2-4 7-7 1-4-7-1-3 2-4 6 2 8-1 7-6 19-63 0 1-19 5-15 10-11 9-7 23-23 7-14 2-3 7-3 26 0 11 3 4 3 4 0 6-4 1-4-5-15 0-15 3-11 6-9 11-3 19 0 7 2zM213 1231l4 1 4 4 1 4-5 6-4 2-6-8 1-4zM650 1255l8-11 9-8 4 0 4-2 11-1 7 1 8 4 9 10 3 7 0 4-2 7-7 7-14 7-8 1-7-2-8-4zM474 1246l11 9-2 4-9 8-11-12zM239 1270l2 4 0 3-2 4-8 8-7 8-7 6-4 0-4-2-4-9-1-7 3-11 2-3 4-3 11-2 11 1zM1218 1272l1 2-1 1-3-1zM1423 1276l7 2 6 3 3 4 2 7-2 8-5 6-7 3-8-1-3-1-7-7-2-8 2-7 7-6zM604 1279l4 1 10 12-2 4-8 8-4 1-10-9-2-4zM641 1281l4-1 12 12 2 4-14 11-4-1-10-10 1-4zM250 1289l4 1 4 2 3 3 3 5 1 7-1 19-4 11-6 5-4 0-6-5-4-8 0-3-1-23 1-7 3-3 3-3zM1200 1291l3 1 3 4-3 4-3 2-5-6zM678 1295l14 16-14 16-3-2-4 1-4 3-14-14 1-4 13-15 4 3 4-1zM745 1301l12 1 9 9 2 4-11 11-8 0-4 2-13-13 2-4zM1609 1302l8 9-2 4-6 6-8-6-1-4zM194 1306l4 1 4 3 2 5-6 5-4 1-6-6 1-4zM1125 1311l3 0-3 1zM548 1314l4 2 9 10-1 3-8 8-4 1-10-9-1-2-2-1 2-1zM1263 1316l3 2 4 11 0 4-11 14-3 1-19 17-9-13-1-4 10-11 8 4 1-12 13-14zM1063 1329l10-10 4 2 7-1 8 1 7-1 9 9-1 4-8 9-4-2-11 1-7 0-4 2-8-10zM781 1344l4-7 9-6 15-7 7 0 34 10 7 4 12 10 6 4 8 2 4 0 7 4 13-2 21-11 11 2 7 3 6 6 11 14 2 8-119 0-4-5-26-4-26-8-7-5-2-4zM666 1348l2-4 7-6 11-1 15 1 3 3 4 3 1 4 0 4-5 8-7 5-4 1-11 1-7-1-5-3-5-7zM1010 1339l3-1 4 1 7 5 0 8-1 4-6 4-4 1-3-1-6-4-1-4 1-8zM1590 1341l4 1 6 6-1 4-3 4-1 3 0 8 7 7 1 4-17 0 1-4 6-7 0-8-9-7 0-4zM716 1355l3 0 11 12-1 3-7 8-10 0-8-8-2-3zM567 1357l3 2 6 8 0 3-6 6-3 2-9-8-1-3zM1222 1358l12 9-3 3-8 8-5-1-4-7 0-3 4-7zM1289 1362l4 5 0 3-4 4-6-4-2-3zM1397 1374l4-6 7-2 4 1 3 3 3 4 0 4-21 0zM503 1378l-22 0 11-10z"/><path fill="#ec5c3b" d="M202 782l25 0 0 4-2 4-5 5-7 1-4-1-5-5zM885 782l52 0 0 11-3 8-6 4-11 4-15-3-8-3-5-6-3-7zM1061 801l3 4 1 3-1 4-10 13-15 12-7 3-11 0-8-3-5-6-1-4 1-4 9-14 5-12 6-4 4-1 7 0 15 4zM269 796l7 1 4 3 3 5 1 3-1 8-2 3-8 5-4 0-8-3-4-5-1-4 0-4 4-7zM570 836l6 6 0 3-7 8-2 7-2 30-3 8-3 2-7 3-8-3-5-6-3-11-2-8 1-22 2-4 17-4 13-9zM384 841l5 4-1 4-3 4-1 4-3 2-4 1-2 4-2 3-4 1-7 5-8-9 2-4 2-7 4-4 4 1 3-1 4-5 4-2 4-3zM505 845l2-4 4-3 4 0 3 1 6 6 1 4-7 6-3 1-4 0-6-7zM246 869l8-1 4 1 4 3 5 7 1 7-1 4-2 4-7 6-4 1-8-1-7-6-2-4-1-4 1-7 5-7zM641 912l4 0 6 4 2 4 0 4-4 5-8 3-4-2-3-3-2-3 0-4 2-4 3-3zM1397 925l7-3 4 0 8 4 4 5 3 8 3 3 8 4 5 4 2 3 1 8-2 7-6 6-7 2-4 0-7-3-4-5-5-11-10-5-4-3-3-7 0-7 1-4zM1512 970l8-1 3 1 3 2 1 8-1 3-3 3-3 2-4 0-4-2-2-3-1-7zM381 1016l7 1 6 3 3 4 3 8 0 3-2 8-6 6-8 3-7-1-8-4-3-4-2-8 1-7 4-7 4-3zM965 1026l7 6 0 3-7 7-6-7 1-3zM1479 1038l4 0 7 3 4 6 1 3-2 8-3 4-4 3-7 0-4-1-6-6-1-4 1-7 2-4zM1002 1044l4 0 4 2 3 4-1 8-2 2-4 2-4 0-3-2-3-2-1-4 1-4zM414 1060l4-1 7 1 4 2 6 7 1 4-1 7-2 4-8 6-7 1-4-1-7-6-2-4-1-7 1-4 2-4zM1054 1060l4-2 4 0 5 3 2 4 0 4-1 4-2 2-8 1-5-3-2-4 0-4zM980 1063l5 6-3 11-2 3-4 0-2-3-3-11 5-6zM1334 1077l3 1 4 4 8 20-1 8-4 7-7 5-3 1-8-3-6-6-3-8 0-15 2-4 7-7zM306 1084l4 0 3 3 1 4-4 4-4 0-4-4 1-4zM558 1181l1 3-7 8-4 2-4-1-6 10-9 6-26 3-22 8-7 2-38 1-8 2-3 4 1 4 3 3-3 4-8 6-15-12-11-2-11-5-15-3-8-4-10-10-6-7-1-4-2-15 1-3 1-4 10-5 7-2 11 3 4-4-3-7 1-19 6-7 4-3 3-1 8 3 7 5 3 3 1 4-1 4-13 18-1 4 10 4 23 1 19 8 4 1 12-3 9-3 5-7 1-8-1-4-4-5-10-6-3-4-4-15 0-7 13-22 4-2 11-3 8 3 10 13 5 2 15-2 7 3 4 4 3 7 0 26 4 7 8 11 3 3 4-2 4 2zM1233 1151l8-4 3 0 4 2 22 32 21 14 3 4 0 4 0 4-5 6-8 3-14 0-26-20-5-4-10-15-3-8 1-7 2-4zM781 1162l0 4-2 5-4 3-4 1-18-5-4-4 0-4 4-5 11-2 7-3 4 1 5 5zM660 1156l6 6 0 4-6 8-8-8 0-4zM697 1157l4 1 4 4-3 7 0 4 5 8 2 7-2 11-2 4-4 4-4 2-4-1-6-5-10-15-1-4 1-3 2-4 3-2 9-2 3-4-3-7zM865 1158l3 1 6 7-6 5-3 1-7-6zM1051 1158l3 1 7 7-7 6-3 0-6-6zM585 1163l8 1 8 5 3 4 3 8 0 11 8 7 3 8 1 22-2 11-5 8-12 10-7 3-8-1-3-3-5-6-13-26-5-15-1-3 3-8 5-4 3-3-1-11 3-8 7-7zM641 1172l4 0 9 9-9 13-4 1-13-14zM740 1199l3-4 10-5 7 0 8 3 6 6 1 4 0 11 2 4 9 0 4-2 4 2 59 1 12 3 14 1 26 13 23 1 15 5 18 12 9 8 4 8 1 7-1 4-5 7-4 3-11 3-15-2-37 0-19-5-21-10-24-7-3 2-1 9-2 4-5 6-7 4-11 0-4-1-7-5-4-8 0-7 6-12-8-3-21-5-4-3-6-7-4-11-8-3-7-8-3-8 0-7zM790 1194l5 5 1 4-6 7-7-7 1-4zM313 1199l7 11 2 8-3 7-13 14-9 12-13 12-11 6-23 0-4-1-3-2-2-4 0-3 5-9 8-5 15-5 4-2 7-8 13-8 5-8 4-10 4-5 4-1zM1516 1207l7 1 7 6 0 4 0 4-2 3-8 6-4 0-4-2-4-4-2-3 0-8 6-6zM1043 1223l8-2 3 0 8 2 6 6 2 7 0 8-2 4-6 6-8 3-7-1-8-5-3-3-2-8 0-4 3-7zM551 1236l4 12 9 14 5 15 0 8-3 7-7 9-7 4-15 1-1 1-2 11-2 8-6 5-11 3-8-1-6-4-3-7-2-15-4-3-2 18-1 4-4 6-8 5 1 4 6 7-1 4-9 8-9-8-1-4 7-7 0-4-5-2-8 2-3 5 1 14-2 7-5 15-61 0 1-19 5-15 9-10 11-8 22-23 4-11 4-5 4-2 7-1 22 0 8 1 7 6 4-1 7-5 1-4-3-7-2-8 0-15 2-11 6-8 4-2 7-2 15 0 11 3zM213 1232l4 2 3 2 1 4-4 5-4 1-5-6 1-4zM652 1255l5-7 10-11 4 0 7-3 8 0 7 1 8 4 10 12 2 8-2 7-7 7-14 6-8 0-15-6zM474 1247l9 8-2 4-7 6-9-10zM238 1270l2 4 0 3-2 4-8 8-6 7-7 6-4 0-4-2-4-8-1-7 4-11 5-6 7-1 12 0zM1423 1277l7 1 4 2 4 5 2 7 0 4-4 7-9 6-4 0-7-3-7-6-1-4 0-7 2-4 6-6zM604 1282l4 1 8 9-2 4-6 6-4 1-8-7-2-4zM641 1283l4 0 10 9 1 4-11 9-4-1-8-8 1-4zM250 1290l4 0 7 6 2 4 2 7-1 19-5 11-5 4-4 0-6-4-3-8-1-7 0-19 1-7 5-6zM1200 1293l4 3-4 3-3-3zM678 1298l12 13-12 14-3-1-4 0-4 3-12-12 1-4 11-12 4 1 4 0zM736 1311l9-8 8 0 4 1 7 7 2 4-9 9-12 2-11-11zM1609 1303l7 8-2 4-5 5-6-5-2-4zM194 1307l4 1 3 3 2 4-5 4-4 1-5-5 2-4zM548 1316l4 2 7 8-1 3-6 6-4 1-8-7-1-3zM1065 1329l8-8 4 1 18 0 4-1 8 8-1 4-7 8-4-1-18 0-4 1-7-8zM1259 1321l7 8 0 4-7 9-8-9 1-4zM783 1341l7-7 11-6 11-3 12 1 26 9 7 4 17 13 9 4 4 0 4 3 7 0 10-3 16-9 8-1 11 3 7 5 12 16 3 8-119 0-2-4-2-1-26-5-22-7-8-3-4-6-1-4zM666 1352l2-8 3-2 4-3 7-1 11 0 8 2 6 4 1 4-1 8-6 6-8 3-3 1-15-1-7-6zM1010 1340l3-1 4 0 6 5 1 8-1 4-6 4-4 1-3-1-6-4-1-4 1-8zM1237 1342l8 6-1 4-7 6-5-6 0-4zM1590 1342l4 1 5 5-1 4-3 4-1 2-4-1-5-5 0-4zM567 1359l3 2 5 6-1 3-4 5-3 1-7-6-1-3zM716 1357l3 1 8 9 0 3-7 8-5 0-9-8-1-3zM1222 1362l7 5-2 3-5 4-4-1-2-6 2-3zM1289 1365l2 2-2 4-4-4zM1417 1374l1 4-21 0 0-4 2-4 5-3 4-1 4 1zM501 1378l-18 0 9-9zM1588 1378l0-4 6-7 7 7 1 4z"/><path fill="#dd3d2d" d="M202 782l25 0 0 4-2 4-5 4-3 2-4 0-4-1-5-5zM885 782l52 0-1 11-2 8-2 2-8 3-11 2-11-2-8-3-5-6-3-7zM1061 801l3 4 0 3 0 4-10 12-15 12-7 3-11 0-8-3-5-5 0-4 0-4 9-14 3-8 5-6 3-2 8-1 18 5zM269 796l7 2 4 3 3 4 1 3-1 8-3 3-4 4-3 1-4 0-8-3-5-9 0-4 4-7 5-4zM570 837l5 5 0 3-7 8-1 4-2 33-4 8-2 2-7 2-4-1-6-3-4-8-3-15 0-18 4-8 17-4 3-1 8-7zM384 842l4 3-1 4-3 4-1 4-2 2-4 0-2 1 0 4-2 2-4 1-7 5-7-8 2-4 2-7 3-3 4 1 3-1 4-5 4-2 4-3zM505 845l2-3 4-3 4-1 3 1 6 6 0 4-6 6-3 1-4 0-6-7zM246 869l8 0 4 0 7 6 2 4 1 7-1 4-6 7-3 2-4 1-8-1-7-5-2-4-1-4 1-7 6-7zM637 913l4-1 4 1 5 3 2 4 0 4-3 5-4 2-4 0-4-1-3-3-2-3 0-4 2-4zM1397 925l7-2 4 0 8 3 4 5 3 8 3 3 8 4 4 4 3 3 0 4 0 8-1 3-6 6-7 2-8-1-7-7-5-11-10-5-4-4-3-6 0-7 2-4zM1512 970l4-1 4 0 5 3 2 4 0 4-1 3-3 3-3 1-4 0-4-1-2-3-1-7zM381 1016l7 1 4 2 5 5 2 8 1 3-3 8-5 6-8 2-7 0-7-4-3-4-3-8 2-7 3-6 4-4zM965 1028l5 4 1 3-6 6-5-6 1-3zM1475 1040l8-2 7 3 4 6 1 3-2 8-3 4-4 2-7 1-4-1-6-6-1-4 1-7zM1002 1044l4 0 4 2 3 4-1 8-2 2-4 2-4 0-3-2-2-2-2-4 1-4zM414 1060l4-1 7 1 4 2 5 7 1 4 0 7-6 7-4 3-7 0-4-1-7-5-2-4-1-7 1-4 3-4zM1058 1059l4-1 4 2 3 5 0 4-1 4-2 2-4 1-4 0-4-2-3-5 0-4 3-4zM980 1064l4 5-3 11-1 2-4 1-2-3-2-11 4-5zM1334 1078l3 1 4 4 8 19-1 8-4 7-7 5-3 0-8-2-6-6-3-8 0-15 2-4 7-6zM306 1085l4 0 2 2 1 4-3 3-4 0-3-3 1-4zM556 1181l1 3-5 6-4 2-4 0-7 11-4 3-7 3-23 2-26 10-41 2-9 2-3 4 0 4 3 3-3 4-6 5-14-12-12-1-11-5-15-3-8-5-9-9-6-7-3-8 0-14 2-4 9-5 7-1 11 2 5 0 0-4-3-7 0-11 1-8 5-7 4-2 3-1 4 0 10 7 3 3 1 4 0 4-15 22 9 4 25 1 19 9 4 0 14-3 8-3 4-6 1-9 0-4-5-5-7-5-5-5-5-19 2-7 11-17 8-4 7-1 4 0 4 3 10 12 5 3 15-2 7 3 3 3 3 7 1 27 12 18 3 3 4-1 4 1zM1233 1151l4-3 4-1 3 0 4 3 7 8 14 23 21 14 3 4 1 4 0 4-5 6-8 3-7 0-7-1-4-2-27-21-10-15-2-8 1-7 2-4zM781 1162l0 4-2 4-4 3-4 1-18-4-4-4 0-4 4-4 11-2 7-4 4 1 4 5zM660 1158l5 4 0 4-5 6-7-6 1-4zM697 1158l4 1 3 3-3 7 1 4 4 8 3 7-2 11-2 4-4 4-4 1-4-1-5-4-8-11-3-8 0-3 5-6 10-2 3-4-2-7zM865 1159l3 1 5 6-5 4-3 1-6-5zM1051 1159l3 1 6 6-6 5-3 0-5-5zM585 1164l4 0 7 3 7 6 4 8-1 11 2 3 6 4 2 4 2 7 0 23-2 7-2 4-14 13-7 3-8-2-3-2-4-5-13-26-6-15 1-7 3-5 5-3 2-3-2-8 0-3 3-8 7-6zM641 1173l4 1 7 7-7 11-4 0-11-11zM741 1199l3-4 9-5 7 0 8 4 5 5 2 4-1 11 1 4 78 1 12 3 14 2 26 13 23 1 15 4 18 13 8 7 5 8 1 7-1 4-5 7-4 2-11 4-15-3-37 1-19-6-19-9-22-7-5 0-2 1-2 10-6 9-7 5-11 0-4-1-6-5-4-8 0-7 6-12-7-3-23-5-3-3-6-7-5-11-8-4-7-7-3-8 0-7zM790 1195l4 4 1 4-5 6-6-6 1-4zM313 1200l7 10 1 8-1 4-2 3-12 13-15 19-11 8-7 3-19 1-8-1-2-2-2-4-1-3 5-8 8-5 15-6 4-2 7-8 14-8 5-8 3-9 4-5 4-2zM1512 1208l4-1 7 1 6 6 1 8-2 3-5 4-3 1-4 0-7-4-3-4 1-8zM1051 1221l7 1 4 2 5 5 3 7 0 4-2 8-6 6-8 3-3 0-8-3-6-6-3-8 2-7 3-7 4-3zM550 1236l5 13 7 10 3 7 3 11 0 8-6 11-7 6-7 3-11 0-2 2-1 8-2 7-5 7-5 4-7 0-8-1-4-2-4-8-3-17-4-4-4 25-3 5-11 6 1 4 7 7-1 4-7 6-7-6-1-4 7-7 0-4-7-2-8 2-3 3-1 4 1 15-7 19-60 0 1-19 5-15 9-10 11-8 22-22 5-12 3-4 4-2 7-2 22 1 8 1 7 6 4-1 9-6 0-4-5-11 0-19 2-11 5-7 4-3 4-1 18 0 11 3zM213 1234l6 2 1 4-3 3-4 2-4-5 1-4zM655 1255l4-7 8-9 11-4 8-1 7 2 8 4 9 11 2 8-2 7-6 6-7 4-11 3-11-3-8-4-5-6zM474 1249l7 6-2 4-5 4-7-8zM235 1268l5 6 0 3-2 4-8 8-10 11-3 2-4 0-3-2-4-8-1-7 4-13 4-3 4-2 11 0zM1423 1277l7 1 4 2 4 5 2 7-2 8-4 5-7 3-4 0-7-2-6-6-2-8 2-7 3-4 6-3zM604 1284l4 1 6 7-2 4-4 4-4 1-6-5-2-4zM641 1286l4 0 7 6 2 4-9 7-4-1-6-6 1-4zM250 1290l4 1 7 5 2 4 1 7 0 19-5 11-5 4-4 0-5-4-4-8-1-7 0-19 1-7 5-5zM667 1301l8 1 3-1 10 10-2 4-8 7-7 1-4 2-9-10 0-4zM736 1315l2-4 7-7 8 0 4 1 6 6 1 4-7 7-4 2-8 0zM1609 1304l6 7-2 4-4 4-5-4-2-4zM194 1308l6 3 1 4-3 2-4 2-4-4 2-4zM548 1319l4 1 5 6-1 3-4 4-4 2-6-6-1-3zM783 1344l1-3 6-7 15-7 7-2 12 2 26 8 7 4 15 13 19 8 8-1 10-3 15-8 8-2 11 3 7 6 12 15 2 8-117 0-2-4-3-2-22-4-30-9-5-3-2-4zM1066 1329l7-7 26 0 7 7-1 4-6 6-4 0-22 0-6-6zM1259 1327l2 2 1 4-3 3-3-3 1-4zM667 1352l1-4 3-5 7-4 4-1 15 1 7 4 4 5 0 4-4 5-7 6-7 2-12 0-7-4-2-2zM1013 1339l4 1 6 4 1 4-1 8-6 3-4 1-3-1-5-3-2-4 0-4 3-5 4-3zM1590 1343l4 1 4 4-1 4-3 3-4 1-3-4-1-4zM1237 1347l1 1-1 4-1-4zM567 1361l3 2 4 4-1 3-6 5-5-5-1-3zM716 1360l3 0 6 7 0 3-6 6-3 1-7-7-1-3zM1222 1366l1 1-1 3-2-3zM1397 1374l4-5 3-2 4 0 4 1 3 2 2 4 0 4-20 0zM1589 1378l0-4 5-5 6 5 1 4zM499 1378l-14 0 7-7z"/><path fill="#ca2427" d="M203 782l23 0 0 4-1 4-5 4-3 2-4 0-4-2-5-4zM886 782l50 0 0 11-3 8-9 5-11 2-11-2-8-4-4-5-3-7zM1060 801l3 4 1 3-1 4-9 12-15 12-7 3-11 0-8-3-4-5-1-4 1-4 5-7 7-15 4-5 3-3 8-1 18 5zM269 797l7 1 7 7 1 3-1 8-7 6-3 1-8 0-4-3-3-4-1-4 1-7 2-4 5-3zM384 843l3 2-1 4-3 4-1 4-1 1-4 0-3 2 0 4-1 1-4 1-7 5-6-7 3-11 3-3 7 1 4-5 4-2 4-3zM511 839l7 0 5 6 1 4-6 6-3 1-4-1-6-6 0-4 2-3zM570 838l4 4 0 3-7 8-2 37-6 9-7 3-4-1-5-3-5-8-3-15 1-18 1-4 4-4 18-4 8-7zM246 870l8-1 4 1 6 5 3 4 0 7-1 4-5 7-3 2-4 1-8-1-3-2-6-7-1-4 1-7 6-7zM637 913l8 0 5 3 2 4 0 4-3 5-4 2-4 0-4-1-2-3-2-3 0-4 2-4zM1397 926l7-3 4 0 8 3 4 5 3 9 2 2 9 5 4 3 2 3 1 8-2 7-3 4-6 3-3 1-8-1-7-7-4-11-13-7-3-4-2-7 2-8zM1512 970l4-1 4 0 5 3 2 4 0 4-1 3-3 3-3 1-4 0-4-1-2-3-1-7zM377 1017l11 1 5 2 5 8 1 7-2 8-5 5-8 3-7-1-7-3-3-4-2-8 0-3 3-8 5-5zM965 1029l4 3 1 3-5 5-4-5 1-3zM1475 1040l8-1 3 0 4 3 3 5 1 3-1 8-7 6-7 1-4-2-5-5-2-4 1-7zM1002 1044l4 0 4 3 3 3 0 4-1 4-2 2-4 2-4-1-3-2-3-5 0-4zM418 1059l7 1 4 2 5 7 1 4-1 7-2 4-7 5-4 1-7-1-4-3-4-6-1-4 0-3 3-8 6-4zM1058 1059l4 0 4 1 3 5 0 4-2 4-5 3-4 0-4-2-3-5 1-4 2-4zM980 1065l3 4-3 12-4 1-2-6-1-7 3-4zM1334 1078l3 1 4 5 8 18-1 8-5 7-6 4-3 1-8-3-6-5-3-8 0-15 2-4 7-6zM306 1086l4 1 1 0 0 4-1 2-4 0-2-2zM554 1181l1 3-3 4-4 2-4 1-7 11-8 5-7 3-19 1-26 9-41 2-11 3-3 4 1 4 2 3-3 4-4 3-10-10-16-1-11-6-15-3-8-4-9-9-6-7-2-8-1-14 3-4 11-6 8 0 7 3 7-1-5-11 0-15 3-7 7-6 3-1 4 1 10 6 3 3 1 4-1 4-15 22 9 4 26 2 19 9 4 0 15-4 7-3 4-4 2-11-1-4-5-6-7-4-5-5-4-19 2-7 10-17 8-4 7-1 4 1 4 2 9 12 6 3 7-2 8 0 7 3 3 3 3 7 0 23 1 5 12 18 3 3 4-1zM1233 1151l4-2 4-2 3 1 4 2 6 8 15 23 9 7 12 7 3 4 1 4-1 4-4 6-8 3-7 0-7-1-4-2-11-10-8-4-7-7-10-15-3-8 0-3 3-8zM781 1162l0 4-2 3-4 4-4 1-14-3-4-2-3-3 0-4 3-4 4-1 7-1 7-3 4 1zM660 1159l4 3 0 4-4 5-5-5 0-4zM697 1160l4 0 2 2-2 6-3 1 3 2 5 10 2 7-1 7-3 7-3 4-4 1-4 0-5-4-8-11-3-8 1-3 3-4 12-4 4-4-3-7zM865 1160l3 1 4 5-4 3-3 1-5-4zM1051 1160l3 1 4 5-4 4-3 0-4-4zM585 1165l4 0 7 2 7 6 3 8 0 7-2 4 1 3 8 4 2 4 2 7 0 23-2 7-3 4-8 9-8 5-3 1-8-1-6-7-14-26-5-15 0-7 3-4 7-4 0-1-1-13 3-8 6-6zM641 1175l4 0 5 6-5 9-4 0-8-9zM740 1203l1-4 4-5 8-3 7 0 9 4 5 8 0 11 1 4 78 2 12 2 14 2 26 13 23 1 11 3 7 3 15 11 8 7 5 8 0 7-1 4-4 6-4 3-11 3-15-2-37 0-15-4-22-10-23-7-7 0-2 11-6 9-7 4-11 1-9-6-5-8 0-7 8-12-7-3-25-6-3-2-5-7-5-11-9-4-7-7-2-8zM313 1201l7 13 0 8-29 34-11 9-7 3-23 1-5-3-3-4 0-3 4-8 8-5 19-7 7-8 14-9 5-8 3-9 4-5 4-1zM790 1197l3 2 1 4-4 4-5-4 2-4zM1512 1208l4-1 7 1 6 6 0 8-6 7-3 1-4 0-4-1-6-7 1-8zM1043 1224l8-2 7 0 4 2 5 5 2 7 0 8-1 4-6 6-8 2-3 0-8-2-6-6-2-8 0-4 3-7zM549 1236l6 15 6 8 4 11 2 11-1 8-4 7-7 6-7 2-11 0-3 3 0 8-2 7-6 7-4 3-7 1-8-1-4-3-3-3-4-23-4-4-2 8-2 19-3 3-11 7-4-2-8 0-3 1-4 4-1 5 0 15-7 19-58 0 0-19 6-15 8-9 12-9 21-22 3-4 2-8 3-3 4-3 3-1 30 0 7 4 4 3 0 2 14-9-1-4-5-11 0-19 2-11 5-7 4-2 4-1 18-1 8 1zM213 1235l4 1 1 4-5 3-3-3 1-4zM658 1251l9-11 15-5 8 1 7 2 10 10 4 7 0 7-5 8-5 3-8 3-7 2-8-1-12-7-10-15zM474 1251l6 4-2 4-4 2-5-6zM235 1269l4 5 0 3-2 4-8 8-9 10-3 2-4 1-3-2-3-4-2-7 1-8 3-9 4-3 4-1 11-1zM1416 1280l3-2 8 0 3 0 7 7 2 4 0 7-5 8-4 3-7 1-7-2-4-4-3-6 0-7 2-4zM604 1286l4 1 4 5-4 6-4 1-4-3-2-4zM641 1289l4-1 4 4 2 4-6 5-4-1-4-4 1-4zM250 1290l4 1 6 5 3 4 1 7-1 19-5 11-4 3-4 0-5-3-4-8-1-7 1-22 2-5 3-4zM667 1303l11 0 7 8-1 4-6 6-11 1-7-7 0-4zM737 1315l2-4 6-6 8 0 4 1 3 4 3 5-6 6-4 1-8 1zM1609 1305l5 6-2 4-3 3-4-3-2-4zM194 1309l4 2 2 4-6 3-2-3zM548 1321l4 2 3 3-1 3-6 4-4-4 0-3zM1067 1329l6-6 26 0 6 6-2 4-4 5-26 0-5-5zM783 1344l2-3 3-4 9-6 12-5 7 0 19 4 15 6 7 4 14 12 20 8 10-1 27-12 4-1 11 4 7 5 11 15 3 8-117 0-1-4-4-3-26-5-26-8-4-2-3-4zM668 1348l3-5 4-2 7-2 11 0 8 2 3 3 3 4 0 4-3 4-7 6-7 2-8 0-7-1-5-4-2-3zM1013 1339l4 1 4 2 3 6 0 4-2 4-5 3-4 1-3-1-5-3-2-4 0-4 3-5zM474 1342l6 6-1 4-5 4-4-4-1-4zM1590 1344l4 1 3 3-1 4-2 2-4 1-2-3-1-4zM567 1362l5 5-1 3-4 3-4-3-1-3zM716 1362l3 0 4 5 0 3-4 4-3 0-5-4-1-3zM1398 1374l3-5 3-2 4 0 4 1 3 2 2 4 0 4-20 0zM1590 1378l0-4 4-4 5 4 1 4zM487 1378l5-5 6 5z"/><path fill="#b10b26" d="M203 782l23 0 0 4-2 4-4 3-3 2-4 0-4-1-4-4-2-4zM886 782l50 0 0 11-3 8-9 5-11 2-11-3-8-3-4-5-3-7zM1060 801l3 4 1 3-1 4-9 11-15 13-7 3-11 0-8-3-4-5-1-4 1-4 8-12 6-14 5-3 4-1 7 0 15 4zM261 801l4-3 4-1 7 1 3 3 3 4 1 3-1 8-3 3-3 3-7 1-4-1-4-3-3-3-1-8 1-3zM386 845l-1 4-3 4-1 4-4-1-6 4 2 2 0 3-4 0-7 5-5-6 3-11 2-2 7 1 4-5 8-5zM511 839l4-1 3 1 5 6 0 4-5 5-3 2-4-1-6-6 0-4 2-3zM570 840l2 2 0 3-5 5-1 3 0 22-2 15-5 9-4 2-7 0-4-2-3-5-5-15-1-15 1-7 2-4 4-4 6-2 11 0 3-2 2-3 3-3zM250 869l8 1 3 2 5 7 1 4-1 7-2 4-6 4-4 2-8-1-3-2-5-7-1-4 1-7 2-4 6-5zM637 914l8-1 5 3 2 4 0 4-3 5-4 2-4 0-4-1-2-3-2-3 0-4 2-4zM1397 926l7-3 8 1 4 3 3 4 5 11 10 5 6 6 1 8-2 7-4 4-5 3-3 0-8-1-6-6-5-11-13-7-3-4-2-7 3-8zM1512 971l4-2 4 0 5 3 2 4 0 4-1 3-3 2-3 2-4 0-4-2-2-2-1-3 0-4zM373 1019l4-1 7-1 8 3 4 4 3 8-1 7-2 4-4 5-4 2-7 1-8-3-5-5-3-8 0-3 3-8zM965 1030l3 2 1 3-4 4-3-4 1-3zM1486 1040l4 2 3 5 1 3-1 8-7 6-7 0-4-1-5-5-1-4 0-7 6-7 8-1zM1002 1045l4-1 4 3 3 3 0 4-1 4-2 2-4 1-4 0-3-2-3-5 0-4zM418 1060l3 0 8 3 5 6 1 4-1 7-2 4-7 5-4 1-7-2-4-2-4-6-1-4 0-3 3-8 6-4zM1058 1059l4 0 4 2 3 4 0 4-2 4-5 3-4 0-4-3-2-4 0-4 2-4zM976 1066l4 0 3 3-3 11-4 1-2-8-1-4zM1334 1079l3 1 4 4 7 18-1 8-4 7-6 4-3 0-8-2-5-5-3-8 0-15 1-4 7-6zM306 1088l4 1 0 2-4 1zM553 1181l0 3-5 4-4 1-7 13-8 5-7 2-19 1-15 6-14 5-41 1-9 3-3 4 0 4 2 3-5 6-5-6 0-3-21-2-11-5-15-3-8-5-7-7-7-8-3-8-1-11 1-3 2-4 11-5 8 0 7 2 9-1-5-6-2-5 1-15 3-7 6-6 3-1 4 1 9 6 4 3 1 4-1 4-17 22 11 4 26 2 19 9 5 0 14-3 7-4 4-4 2-11 0-4-6-6-7-5-4-4-5-19 2-7 10-16 8-5 7-1 4 1 4 3 9 11 5 3 16-2 3 1 7 5 3 7 0 23 1 6 12 18 3 4 4-1zM1233 1152l4-3 4-1 3 0 4 3 6 7 15 23 9 7 11 7 3 4 1 4 0 4-4 5-8 3-7 1-7-2-4-1-26-21-10-15-3-8 0-3 3-8zM780 1162l0 4-2 3-3 3-4 1-14-3-4-1-3-3 0-4 3-3 18-6 4 2zM660 1160l2 2 0 4-2 3-3-3 0-4zM695 1162l2-1 4 0 1 1-1 4-4 1zM868 1162l3 4-3 2-3 1-4-3 4-5zM1051 1161l3 1 3 4-3 2-3 1-3-3zM585 1165l8 1 3 2 6 5 3 8 0 3-2 11 8 4 3 4 2 7 1 19-3 11-6 8-12 9-3 1-8-1-6-6-15-29-4-12 1-7 2-3 4-3 4-2-2-14 3-8 6-5zM697 1171l4 3 4 7 3 7-1 7-3 7-3 4-4 1-4-1-4-3-8-11-3-8 0-3 4-5 13-3zM645 1177l4 4-4 6-4 1-6-7 6-5zM740 1203l5-8 4-2 8-2 3 0 8 4 6 8 0 11 1 5 78 1 12 3 14 1 26 13 23 1 11 4 7 3 15 11 7 6 5 8 1 7-3 8-6 4-11 4-15-2-37 0-15-4-21-10-24-7-7-1-2 1-1 11-5 8-7 5-4 1-7-1-9-5-4-8 0-7 8-12-6-3-27-6-3-3-7-10-2-7-10-5-6-6-3-8zM790 1198l2 5-2 2-3-2 1-4zM313 1202l7 12 0 8-29 33-7 7-11 6-19 1-8-3-3-4-1-3 2-4 3-4 7-5 19-7 7-8 10-6 5-3 11-21 4-2zM1512 1208l4-1 7 1 6 6 0 8-6 6-3 2-8-2-5-6 0-8zM1043 1224l4-2 7 0 8 3 4 4 3 7 0 8-2 4-5 5-8 3-3 0-8-3-5-5-3-8 1-7 2-4zM537 1230l7 3 5 3 6 15 7 11 4 15-1 12-4 7-6 5-7 2-14 0-1 1-1 14-1 4-5 7-4 3-4 1-11-1-6-6-3-19-5-11 7-7 7-4-1-4-4-7-2-8 1-22 4-8 6-5 7-1zM213 1236l4 4-4 2-1-2zM667 1241l15-5 8 0 7 2 6 6 6 7 2 8-2 7-5 5-11 5-7 1-8-1-11-6-6-8-3-7 3-7zM474 1252l4 3-4 4-3-4zM235 1269l4 5 0 3-2 4-8 8-9 10-3 2-4 0-5-5-3-7 1-8 3-8 4-3 4-2 11 0zM1419 1278l8 0 3 1 7 6 2 4 0 7-2 4-2 3-5 3-7 2-7-3-6-5-1-4 0-7 5-8zM491 1292l1 4-3 11-2 19-2 3-4 3-7 3-4-2-8 1-3 1-4 3-2 6 1 15-7 19-58 0 1-19 5-15 8-8 12-10 21-21 4-5 2-8 3-3 6-3 26-1 8 2zM604 1288l4 1 2 3-2 5-4 0-4-5zM250 1291l4 1 6 4 2 4 2 7 0 11-1 8-5 11-4 3-4 0-4-3-4-8-1-7 0-22 1-4 4-4zM639 1296l2-5 4 0 3 5-3 3-4-1zM661 1311l6-7 11 1 6 6-1 4-5 4-11 1-5-5zM738 1315l2-4 5-5 8 0 4 1 3 4 2 4-5 5-4 1-8 0zM1609 1307l4 4-4 6-3-2-2-4zM193 1315l1-4 5 4-5 1zM548 1323l5 3-1 3-4 2-2-2 0-3zM1068 1329l5-5 26 0 5 5-2 4-3 4-26 0-3-4zM784 1344l5-7 8-6 12-4 7-1 19 5 15 5 7 4 14 12 14 7 6 2 11-2 22-11 8-1 11 3 7 6 11 14 3 8-116 0-2-5-4-2-26-5-26-8-6-6zM668 1352l0-4 3-4 4-2 7-2 11 0 8 2 3 2 2 4 0 4-2 4-3 3-8 4-7 1-11-2-4-3-3-3zM1013 1339l8 4 3 5 0 4-2 4-5 3-4 1-3-1-4-3-2-4-1-4 3-5zM474 1345l4 3-1 4-3 2-2-2-1-4zM1590 1345l4 1 2 2-2 5-4 1-1-2-1-4zM567 1364l4 3-2 3-2 2-2-2-1-3zM716 1364l3 0 2 3 0 3-2 2-3 0-2-2-1-3zM1398 1374l3-4 3-3 4 0 4 1 3 2 2 4 0 4-19 0zM1591 1374l3-3 4 3 1 4-8 0zM489 1378l3-3 4 3z"/><path fill="#a50026" d="M203 782l23 0 0 4-2 4-4 3-3 2-4 0-4-1-4-4-2-4zM886 782l50 0-2 15-2 5-4 2-11 3-19-3-5-3-4-8zM1060 801l2 4 1 3-1 4-8 11-15 12-7 3-11 0-8-3-3-4-1-4 0-4 8-12 4-10 4-5 3-2 4-1 7 1 15 4zM265 798l8-1 3 2 6 6 1 3-1 8-6 6-3 1-8-1-7-6-1-8 1-3zM515 839l3 1 3 2 2 7-5 5-3 2-4-1-3-2-2-4-1-4 2-3 4-3zM570 841l1 1 0 3-4 3-3-3 1-3 2-1zM384 845l0 4-3 8-4-3-8 6 3 4-10 5-4-5 2-11 2-2 7 3 4-5 4-2 4-4zM552 847l7 1 4 3 2 6 1 11-1 18-2 8-4 5-4 2-7 0-4-2-3-5-5-15 0-19 2-7 5-4zM250 869l8 1 3 3 5 6 1 4 0 3-4 8-5 4-4 1-4 0-7-3-5-6-1-4 1-7 2-4 6-5zM637 914l8-1 5 3 2 4 0 4-3 4-4 3-4 0-4-1-2-3-2-3 0-4 2-4zM1397 927l7-3 8 1 7 6 5 11 10 5 6 6 1 8-3 7-3 4-5 3-3 0-8-1-6-6-5-12-12-6-3-4-2-7 2-8zM1512 971l4-2 4 0 5 3 2 4 0 4-4 5-3 2-4 0-6-4-1-3 0-4zM373 1020l4-2 7-1 8 3 3 4 3 4 1 7-3 8-4 4-8 3-7 0-4-2-5-5-2-8 0-7 2-4zM965 1031l2 1 1 3-3 2-2-2zM1475 1041l4-2 7 1 4 3 3 4 1 3-1 8-7 6-7 0-4-1-5-5-1-4 1-7zM1002 1045l4 0 4 2 2 3 1 4-1 4-6 3-4 0-3-2-3-5 0-4zM418 1060l3 0 8 3 4 6 2 4-1 7-3 4-6 4-4 1-3 0-8-3-4-6-1-4 0-3 4-8zM1058 1059l4 0 4 2 3 4 0 4-2 4-5 3-4 0-4-3-2-4 0-4 3-4zM980 1067l2 2-2 9-4 1-2-10 2-2zM1334 1079l3 1 3 4 8 18-1 8-5 7-5 3-3 1-8-2-5-5-3-8 0-7 0-8 2-4 6-5zM551 1184l-3 2-4 1-6 12-3 4-9 5-23 2-15 6-14 4-41 2-10 3-3 4-1 4 3 3-4 4-3-4 1-3-2-1-22-1-11-6-12-1-11-6-14-15-3-8 0-11 0-3 3-4 7-4 7-1 15 3 8-2 3 1 11 4 26 1 19 9 7 0 12-3 7-3 4-5 3-11-1-4-6-7-7-4-4-4-5-19 2-7 10-16 8-4 7-1 4 0 4 3 8 11 7 4 15-2 3 1 6 4 3 7 1 23 1 7 12 18 3 4 4-1 2 2zM384 1134l4 0 7 5 5 4 1 4 0 4-11 15-6 6-3 1-4-2-4-5-1-4 0-15 3-7 6-5zM1233 1152l8-4 3 0 4 3 6 7 14 23 9 7 12 7 3 4 1 4-1 4-3 5-8 3-7 0-7-1-4-2-25-20-11-15-2-8 1-7 2-4zM780 1162l0 4-2 3-3 3-4 1-14-3-4-2-2-2 0-4 2-3 4-1 14-4 4 1zM660 1161l1 5-1 1-1-1 0-4zM697 1162l2 0-2 1zM862 1166l3-4 3 2 2 2-2 1-3 1zM1049 1166l2-3 3 0 2 3-2 1-3 1zM585 1166l8 0 3 2 6 5 1 4 2 7-4 11 7 3 3 2 3 3 2 11 0 15-2 11-14 14-7 4-8-2-5-5-12-22-7-19-1-3 3-6 4-3 6-3-3-11 1-7 2-4 5-5zM697 1173l4 1 6 10 0 4 0 7-3 6-3 4-4 1-4 0-3-3-11-15-1-4 1-3 3-4zM637 1181l4-3 4 1 2 2-2 4-4 0zM741 1203l1-4 3-4 4-2 8-2 3 1 8 3 5 8 1 15 1 1 78 1 12 3 14 2 8 3 15 8 3 1 23 2 11 3 7 3 15 11 7 6 5 8 1 7-3 8-6 4-11 3-15-1-37 0-15-4-20-10-25-8-7 0-3 1 0 11-5 8-7 5-4 0-7 0-8-5-5-8-1-4 3-7 7-8-6-3-24-6-7-3-7-10-2-7-10-5-6-6-3-8zM790 1199l1 4-1 1-1-1zM313 1202l7 12-1 8-16 18-8 11-8 7-7 6-11 4-15 0-8-2-3-4 0-3 1-4 3-4 7-4 19-7 7-8 11-7 4-3 11-21 4-1zM1512 1209l8-2 3 2 5 5 1 4 0 4-6 6-3 2-8-2-5-6-1-4 2-4zM1043 1225l4-2 7-1 8 3 4 4 3 7-1 8-1 4-5 5-8 2-7 0-4-2-5-5-2-8 1-7 2-4zM537 1230l7 3 7 7 2 8 8 14 5 15 0 8-5 11-6 5-7 2-15 0-1 15-4 8-2 3-4 2-4 1-11-1-6-5-1-15-6-15 6-6 8-5-1-4-6-11 0-4 1-22 3-8 6-5 7-1zM660 1251l7-9 8-3 7-2 11 0 8 5 5 6 4 7 0 7-5 8-4 2-11 4-8 1-14-7-4-4-5-11zM474 1254l1 1-1 2-2-2zM235 1270l3 4 0 3-2 4-8 8-8 9-3 3-4 0-5-5-2-7 0-8 3-7 4-4 4-2 11 0zM1419 1279l8-1 3 1 7 6 2 7-2 8-7 6-7 1-4 0-3-2-5-5-2-4 1-7 5-8zM490 1292l1 4-3 10-1 20-6 6-7 2-12-1-7 4-3 7 1 15-7 19-57 0 1-19 6-15 7-8 13-10 20-21 4-5 2-8 6-5 7-1 22 0 8 1zM250 1291l4 1 6 4 2 4 1 7 0 11-1 8-4 10-4 3-4 1-4-3-4-8-1-7 0-22 2-4 3-4zM602 1292l2-1 4 1-4 3zM645 1296l-3 0 3-1zM662 1311l5-5 11 0 5 5-1 4-4 3-11 0-4-3zM740 1315l1-4 4-4 8 0 4 1 2 3 2 4-4 4-4 1-8 0zM1605 1311l4-3 3 3-3 5zM194 1313l2 2-2 0zM1069 1329l4-4 11 0 15 0 4 4-1 4-3 3-26 0-3-3zM784 1344l5-7 5-3 15-7 7 0 19 4 18 7 17 14 13 7 8 3 12-3 21-10 8-2 11 3 3 3 15 17 2 8-115 0-2-5-4-3-26-4-26-8-6-6zM706 1348l0 4-2 4-7 5-4 1-11 1-7-1-4-3-2-3 0-8 6-6 3-1 19 0 6 3zM1013 1340l8 3 3 5 0 4-2 4-5 3-4 0-3 0-4-3-2-4 0-4 2-4 4-3zM474 1347l1 1-1 4-1-4zM1590 1346l5 2-1 4-4 1-1-5zM567 1366l1 1-1 3-1-3zM715 1367l4 0-3 1zM1398 1374l3-4 3-3 4 0 4 1 2 2 2 4 1 4-19 0zM1594 1372l3 2 1 4-6 0 0-4zM491 1378l1-1 2 1z"/><path d="M280.0 782.2V1377.9M652.3 782.2V1377.9M1024.6 782.2V1377.9M1396.9 782.2V1377.9M168.3 1266.2H1620.3M168.3 1080.0H1620.3M168.3 893.9H1620.3" stroke="#808080" stroke-opacity="0.55" stroke-width="2.2" stroke-dasharray="5.8 4.2" fill="none"/><path d="M205.9 1003.4L208.4 997.6L223.4 990.1L238.5 985.0L251.8 984.2L254.3 978.4L254.3 963.3L256.9 955.0L265.2 949.1L276.9 944.9L283.6 939.9L293.6 935.7L300.3 932.4L314.5 931.6L310.3 924.9L307.0 919.9L305.3 911.5L298.6 899.8L290.3 898.1L289.4 884.8L290.3 873.1L292.8 859.7L298.6 855.5L317.0 851.3L333.7 847.1L340.4 841.3L348.8 838.0L373.9 834.6L407.3 830.4L425.7 828.8L435.7 827.1L447.4 828.8L460.8 833.8L459.1 838.8L476.0 855.0L491.6 864.8L500.6 866.6L514.9 879.6L521.4 887.4L512.3 893.9L520.1 901.6L531.8 921.9L545.0 924.9L557.6 926.1L592.2 931.9L609.5 936.2L621.0 946.3L641.2 955.0L649.9 946.3L661.4 943.4L671.5 947.8L665.7 957.8L684.4 965.0L707.5 962.2L730.5 949.2L745.0 944.9L773.8 943.4L802.6 933.3L817.0 930.5L825.6 926.1L845.8 921.8L868.9 913.2L889.0 898.8L915.0 887.2L943.8 881.5L961.1 867.1L980.0 860.8L1021.5 855.0L1094.1 849.1L1152.9 838.7L1208.2 836.6L1218.6 830.7L1235.9 825.6L1239.3 832.5L1284.3 828.3L1298.1 826.3L1325.8 832.5L1360.4 846.3L1384.6 863.6L1396.7 862.9L1426.1 884.3L1464.1 899.9L1488.3 906.8L1505.6 922.4L1519.4 924.1L1509.0 929.3L1507.3 936.2L1488.3 948.3L1498.7 963.9L1507.3 986.4L1519.4 995.0L1548.8 1007.1L1552.3 1019.2L1564.4 1046.9L1569.6 1071.1L1571.0 1077.9L1571.0 1093.6L1558.3 1101.4L1548.5 1111.2L1546.5 1132.8L1538.7 1146.5L1521.0 1158.2L1505.4 1172.0L1491.6 1185.7L1486.7 1195.5L1490.7 1219.0L1492.6 1242.5L1486.7 1260.1L1474.0 1279.7L1460.3 1297.4L1446.6 1303.3L1432.9 1306.2L1420.1 1304.2L1407.4 1309.1L1389.7 1320.9L1382.9 1332.7L1374.1 1339.5L1358.4 1344.4L1338.8 1347.4L1334.9 1338.5L1336.8 1318.9L1331.0 1314.0L1327.0 1301.3L1328.0 1273.9L1319.2 1271.9L1291.8 1276.8L1288.8 1281.7L1288.8 1293.5L1271.2 1285.5L1264.3 1267.1L1252.7 1257.8L1240.1 1245.2L1225.1 1249.8L1214.7 1244.0L1211.2 1229.0L1204.3 1227.9L1197.4 1234.8L1190.5 1254.4L1172.0 1258.3L1149.0 1263.6L1137.5 1271.7L1121.3 1282.0L1105.2 1295.9L1089.0 1301.6L1079.8 1290.1L1047.5 1293.6L1036.0 1297.0L1023.3 1292.4L1013.0 1305.1L976.1 1294.7L964.6 1291.3L951.9 1299.3L941.5 1291.3L930.0 1289.0L919.6 1285.5L909.2 1289.0L900.0 1289.0L888.9 1285.8L865.8 1275.4L842.8 1265.0L822.0 1258.1L815.1 1254.7L792.0 1252.4L778.2 1248.9L755.2 1251.2L736.7 1233.9L720.6 1231.6L704.4 1217.8L681.4 1205.1L674.5 1195.9L667.5 1195.9L649.1 1189.0L635.3 1186.7L630.7 1178.6L612.2 1171.7L598.4 1164.8L577.6 1152.1L566.1 1139.4L556.9 1135.9L545.4 1119.8L538.3 1117.9L520.1 1111.7L509.7 1103.9L509.7 1094.8L507.1 1084.5L499.4 1078.0L494.2 1066.3L485.1 1068.9L477.3 1066.3L479.9 1062.4L477.3 1050.8L468.2 1040.4L457.9 1032.6L449.1 1024.3L435.7 1019.3L424.0 1024.3L414.0 1018.5L403.9 1016.8L394.7 1010.1L393.1 998.4L373.9 1002.6L360.5 1000.9L352.1 993.4L340.4 996.7L333.7 991.7L320.4 1001.8L308.7 1003.4L307.0 1012.6L298.6 1011.8L294.5 1000.9L283.6 1008.4L275.2 1011.8L265.2 1001.8L258.5 998.4L253.5 997.6L240.1 1001.8L223.4 1005.9L206.7 1008.4Z" stroke="#000" stroke-width="4.4" fill="none" stroke-linejoin="round"/></g><rect x="168.3" y="782.2" width="1452.0" height="595.7" fill="none" stroke="#262626" stroke-width="3"/><text transform="translate(149.3 1278.5) scale(1 1.04)" font-size="46.5" text-anchor="end" >28°N</text><text transform="translate(149.3 1092.3) scale(1 1.04)" font-size="46.5" text-anchor="end" >33°N</text><text transform="translate(149.3 906.2) scale(1 1.04)" font-size="46.5" text-anchor="end" >38°N</text><text transform="translate(280.0 1430.1) scale(1 1.04)" font-size="46.5" text-anchor="middle" >70°E</text><text transform="translate(652.3 1430.1) scale(1 1.04)" font-size="46.5" text-anchor="middle" >80°E</text><text transform="translate(1024.6 1430.1) scale(1 1.04)" font-size="46.5" text-anchor="middle" >90°E</text><text transform="translate(1396.9 1430.1) scale(1 1.04)" font-size="46.5" text-anchor="middle" >100°E</text><rect x="1650.5" y="1236.12" width="62.5" height="56.78" fill="#36459c"/><rect x="1650.5" y="1179.93" width="62.5" height="56.79" fill="#4065ac"/><rect x="1650.5" y="1123.74" width="62.5" height="56.78" fill="#5183bb"/><rect x="1650.5" y="1067.56" width="62.5" height="56.78" fill="#679ec9"/><rect x="1650.5" y="1011.38" width="62.5" height="56.78" fill="#81b7d7"/><rect x="1650.5" y="955.19" width="62.5" height="56.79" fill="#9dcee3"/><rect x="1650.5" y="899.00" width="62.5" height="56.79" fill="#b9e0ed"/><rect x="1650.5" y="842.82" width="62.5" height="56.78" fill="#d4edf4"/><rect x="1650.5" y="786.63" width="62.5" height="56.78" fill="#e7f6eb"/><rect x="1650.5" y="730.45" width="62.5" height="56.79" fill="#f7fcce"/><rect x="1650.5" y="674.26" width="62.5" height="56.78" fill="#fff7b3"/><rect x="1650.5" y="618.08" width="62.5" height="56.79" fill="#fee79b"/><rect x="1650.5" y="561.89" width="62.5" height="56.78" fill="#fed283"/><rect x="1650.5" y="505.71" width="62.5" height="56.79" fill="#fdbb6d"/><rect x="1650.5" y="449.52" width="62.5" height="56.78" fill="#fb9d59"/><rect x="1650.5" y="393.34" width="62.5" height="56.79" fill="#f67c4a"/><rect x="1650.5" y="337.15" width="62.5" height="56.78" fill="#ec5c3b"/><rect x="1650.5" y="280.97" width="62.5" height="56.79" fill="#dd3d2d"/><rect x="1650.5" y="224.78" width="62.5" height="56.79" fill="#ca2427"/><rect x="1650.5" y="168.60" width="62.5" height="56.78" fill="#b10b26"/><path d="M1650.5 168.6L1681.8 111L1713.0 168.6Z" fill="#a50026"/><path d="M1650.5 1292.3L1681.8 1350.7L1713.0 1292.3Z" fill="#313695"/><path d="M1650.5 168.6L1681.8 111L1713.0 168.6V1292.3L1681.8 1350.7L1650.5 1292.3Z" fill="none" stroke="#262626" stroke-width="3"/><text transform="translate(1744.6 1308.7) scale(1 1.04)" font-size="46.5" text-anchor="start" >0</text><text transform="translate(1744.6 1140.1) scale(1 1.04)" font-size="46.5" text-anchor="start" >45</text><text transform="translate(1744.6 971.6) scale(1 1.04)" font-size="46.5" text-anchor="start" >90</text><text transform="translate(1744.6 803.0) scale(1 1.04)" font-size="46.5" text-anchor="start" >135</text><text transform="translate(1744.6 634.5) scale(1 1.04)" font-size="46.5" text-anchor="start" >180</text><text transform="translate(1744.6 465.9) scale(1 1.04)" font-size="46.5" text-anchor="start" >225</text><text transform="translate(1744.6 297.4) scale(1 1.04)" font-size="46.5" text-anchor="start" >270</text><path d="M1713.0 1292.3h18M1713.0 1123.7h18M1713.0 955.2h18M1713.0 786.6h18M1713.0 618.1h18M1713.0 449.5h18M1713.0 281.0h18" stroke="#262626" stroke-width="2.6"/><text transform="translate(1869.7 722) rotate(-90) scale(1 1.04)" font-size="44.3" text-anchor="middle">Spatial RMSE (cm)</text><rect x="168.6" y="1548.0" width="1544.4" height="666.4" fill="none" stroke="#262626" stroke-width="3"/><text transform="translate(154.3 2194.9) scale(1 1.04)" font-size="46.5" text-anchor="end" >50</text><text transform="translate(154.3 2038.7) scale(1 1.04)" font-size="46.5" text-anchor="end" >100</text><text transform="translate(154.3 1882.5) scale(1 1.04)" font-size="46.5" text-anchor="end" >150</text><text transform="translate(154.3 1726.2) scale(1 1.04)" font-size="46.5" text-anchor="end" >200</text><text transform="translate(154.3 1570.0) scale(1 1.04)" font-size="46.5" text-anchor="end" >250</text><text transform="translate(309.9 2260.9) scale(1 1.04)" font-size="46.5" text-anchor="middle" >2004</text><text transform="translate(490.1 2260.9) scale(1 1.04)" font-size="46.5" text-anchor="middle" >2006</text><text transform="translate(670.3 2260.9) scale(1 1.04)" font-size="46.5" text-anchor="middle" >2008</text><text transform="translate(850.5 2260.9) scale(1 1.04)" font-size="46.5" text-anchor="middle" >2010</text><text transform="translate(1030.7 2260.9) scale(1 1.04)" font-size="46.5" text-anchor="middle" >2012</text><text transform="translate(1210.9 2260.9) scale(1 1.04)" font-size="46.5" text-anchor="middle" >2014</text><text transform="translate(1391.1 2260.9) scale(1 1.04)" font-size="46.5" text-anchor="middle" >2016</text><text transform="translate(1571.3 2260.9) scale(1 1.04)" font-size="46.5" text-anchor="middle" >2018</text><path d="M168.6 2178.4h18M168.6 2022.2h18M168.6 1866.0h18M168.6 1709.7h18M168.6 1553.5h18M309.9 2214.4v-18M490.1 2214.4v-18M670.3 2214.4v-18M850.5 2214.4v-18M1030.7 2214.4v-18M1210.9 2214.4v-18M1391.1 2214.4v-18M1571.3 2214.4v-18" stroke="#262626" stroke-width="2.6"/><text transform="translate(940.0 2319.7) scale(1 1.04)" font-size="46" text-anchor="middle" >Time (year)</text><text transform="translate(53.4 1879.4) rotate(-90) scale(1 1.04)" font-size="46" text-anchor="middle">Temporal RMSE (cm)</text><clipPath id="clipc"><rect x="168.6" y="1548.0" width="1544.4" height="666.4"/></clipPath><g clip-path="url(#clipc)" fill="none" stroke-width="6.7" stroke-linejoin="round"><path d="M236.8 2010.3L253.4 2028.4L268.4 1995.3L275.5 2023.7L290.5 2015.0L312.5 2063.9L344.9 2057.6L358.3 2002.4L367.0 2021.3L374.8 2005.5L381.9 1991.3L404.0 2074.9L418.4 2018.8L431.3 2040.4L458.0 2069.4L469.6 2072.9L486.4 2061.3L494.5 2089.1L508.4 2066.0L523.5 2074.1L538.6 2034.6L546.1 2054.3L561.7 2061.3L576.2 2006.8L584.3 2050.9L598.0 2013.7L613.8 2111.2L628.3 2072.9L635.8 2072.9L650.9 2028.8L666.5 2054.3L674.6 2079.3L689.1 2060.1L704.2 2079.3L719.3 2067.1L726.2 2024.2L742.5 2024.2L757.0 2016.0L763.6 2061.5L778.4 2050.5L794.4 2086.5L818.6 2035.3L832.0 2059.0L846.7 2011.4L853.0 2074.1L868.1 2072.9L880.9 2014.9L899.4 1974.3L907.5 2004.5L933.0 2027.7L944.8 2080.5L959.2 2058.5L974.5 2067.0L996.9 1991.2L1012.3 2054.1L1026.8 2021.6L1050.0 2014.6L1061.6 1977.5L1079.7 1931.0L1089.4 1942.8L1117.2 2050.6L1125.4 2041.3L1139.9 1957.8L1153.2 2039.0L1169.9 2058.7L1176.8 1949.7L1207.0 1960.1L1213.9 2021.6L1229.6 2035.5L1244.6 2029.7L1259.7 2051.7L1282.9 1963.6L1304.3 1830.0L1320.0 2020.4L1334.5 1938.1L1351.3 1972.9L1357.5 2011.0L1372.3 1992.3L1387.6 2010.4L1395.2 1979.8L1423.7 1996.5L1439.7 2037.6L1446.0 1932.5L1462.7 1907.5L1477.3 2007.6L1485.6 2007.6L1500.2 1960.4L1529.0 2011.0L1537.4 1901.4L1568.0 1929.2L1575.0 1944.5L1589.6 1936.2L1602.1 1973.8L1620.2 2012.7L1627.8 1925.1L1642.4 1930.6" stroke="#4a6fb5"/><path d="M237.2 1604.0L253.4 1577.8L259.5 1637.9L263.4 1675.8L268.4 1711.4L275.1 1749.2L306.2 1904.6L313.3 1901.4L328.3 1972.4L358.3 1863.6L367.0 1956.6L398.7 2098.0L419.0 2063.0L433.0 2063.6L448.7 2107.7L459.1 2086.8L471.3 2047.4L485.8 2147.1L509.0 2134.3L523.5 2094.9L537.4 2130.9L560.6 2139.0L577.4 2180.0L610.9 2125.1L629.4 2101.9L637.0 2071.7L651.4 2118.1L666.5 2158.7L673.5 2156.4L689.1 2177.0L705.9 2163.3L719.9 2130.9L726.8 2097.2L761.7 2141.1L786.7 2137.7L805.9 2138.6L810.1 2142.7L815.1 2009.2L833.0 2012.0L847.2 2060.1L861.2 2043.9L884.3 2046.8L900.6 2026.5L905.2 1985.9L922.6 1989.4L942.8 2032.8L959.2 2017.5L974.5 2031.0L996.7 1923.6L1012.3 1923.0L1034.9 1976.4L1051.2 1961.3L1064.3 1941.4L1079.3 1851.2L1085.9 1893.0L1101.1 1899.0L1123.4 1928.0L1139.6 1926.6L1154.3 1946.0L1175.9 1858.3L1191.7 1863.2L1213.3 1903.3L1229.6 1910.3L1244.6 1963.6L1259.7 1926.5L1267.0 1857.6L1282.9 1831.0L1300.2 1685.1L1321.6 1890.2L1333.9 1905.7L1356.5 1849.0L1370.8 1887.0L1393.8 1891.5L1423.7 1924.2L1446.0 1807.3L1462.7 1775.3L1477.3 1805.9L1486.3 1786.4L1500.9 1786.4L1514.8 1869.9L1535.3 1834.6L1552.7 1818.6L1568.0 1840.2L1589.6 1851.3L1604.9 1892.4L1619.5 1812.4L1627.8 1821.4L1642.4 1749.7" stroke="#e69f12"/></g><rect x="842.7" y="1571" width="847.5" height="145.7" rx="7" fill="#fff" fill-opacity="0.8" stroke="#d0d0d0" stroke-width="2"/><path d="M861.5 1606.8H954.3" stroke="#4a6fb5" stroke-width="6.5" stroke-linecap="round"/><path d="M861.5 1673.3H954.3" stroke="#e69f12" stroke-width="6.5" stroke-linecap="round"/><text transform="translate(991.0 1623.0) scale(1 1.04)" font-size="46" text-anchor="start" >GRU vs Original GRACE SH</text><text transform="translate(991.0 1689.0) scale(1 1.04)" font-size="46" text-anchor="start" >GLWS2.0 vs Original GRACE SH</text></svg></body></html>
